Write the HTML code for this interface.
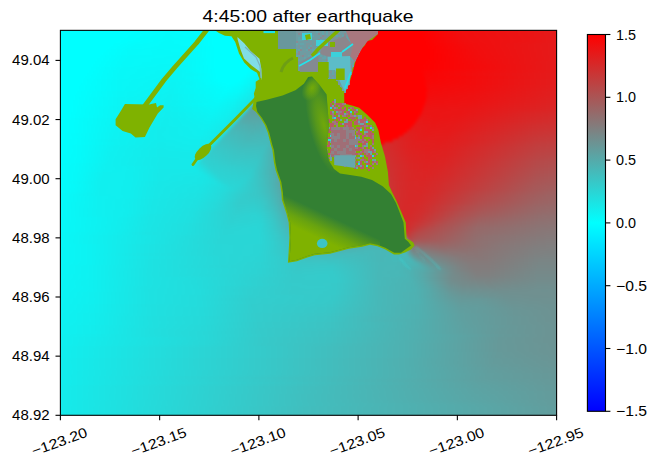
<!DOCTYPE html>
<html><head><meta charset="utf-8"><style>
html,body{margin:0;padding:0;background:#fff;width:658px;height:469px;overflow:hidden}
svg{position:absolute;left:0;top:0}
.t{font-family:"Liberation Sans",sans-serif;font-size:14px;fill:#000}
.tt{font-family:"Liberation Sans",sans-serif;font-size:17px;fill:#000}
</style></head><body>
<svg width="658" height="469" viewBox="0 0 658 469">
<defs><clipPath id="ax"><rect x="60.4" y="30.35" width="496.20" height="384.95"/></clipPath></defs>
<g clip-path="url(#ax)">
<defs><filter id="wblur" x="-5%" y="-5%" width="110%" height="110%" color-interpolation-filters="sRGB"><feGaussianBlur stdDeviation="1.6"/></filter><linearGradient id="w0" gradientUnits="userSpaceOnUse" x1="52.0" x2="565.0" y1="0" y2="0"><stop offset="0.0000" stop-color="#00ffff"/><stop offset="0.2378" stop-color="#02fdfd"/><stop offset="0.3860" stop-color="#00ffff"/><stop offset="0.3879" stop-color="#9f6060"/><stop offset="0.4795" stop-color="#b84747"/><stop offset="0.5556" stop-color="#d72828"/><stop offset="0.5575" stop-color="#ff0000"/><stop offset="0.6979" stop-color="#ff0000"/><stop offset="0.7856" stop-color="#f10e0e"/><stop offset="0.9201" stop-color="#ea1515"/><stop offset="1.0000" stop-color="#e31c1c"/></linearGradient><linearGradient id="w1" gradientUnits="userSpaceOnUse" x1="52.0" x2="565.0" y1="0" y2="0"><stop offset="0.0000" stop-color="#00ffff"/><stop offset="0.1637" stop-color="#00ffff"/><stop offset="0.2339" stop-color="#02fdfd"/><stop offset="0.3899" stop-color="#00ffff"/><stop offset="0.3918" stop-color="#9f6060"/><stop offset="0.4815" stop-color="#b74848"/><stop offset="0.5185" stop-color="#c53a3a"/><stop offset="0.5556" stop-color="#d62929"/><stop offset="0.5575" stop-color="#ff0000"/><stop offset="0.7057" stop-color="#ff0000"/><stop offset="0.7856" stop-color="#f10e0e"/><stop offset="0.9201" stop-color="#eb1414"/><stop offset="1.0000" stop-color="#e31c1c"/></linearGradient><linearGradient id="w2" gradientUnits="userSpaceOnUse" x1="52.0" x2="565.0" y1="0" y2="0"><stop offset="0.0000" stop-color="#00ffff"/><stop offset="0.1559" stop-color="#00ffff"/><stop offset="0.2320" stop-color="#03fcfc"/><stop offset="0.3938" stop-color="#00ffff"/><stop offset="0.3957" stop-color="#9f6060"/><stop offset="0.4834" stop-color="#b74848"/><stop offset="0.5205" stop-color="#c53a3a"/><stop offset="0.5556" stop-color="#d62929"/><stop offset="0.5575" stop-color="#ff0000"/><stop offset="0.7096" stop-color="#ff0000"/><stop offset="0.7856" stop-color="#f10e0e"/><stop offset="0.9201" stop-color="#eb1414"/><stop offset="1.0000" stop-color="#e31c1c"/></linearGradient><linearGradient id="w3" gradientUnits="userSpaceOnUse" x1="52.0" x2="565.0" y1="0" y2="0"><stop offset="0.0000" stop-color="#00ffff"/><stop offset="0.1462" stop-color="#00ffff"/><stop offset="0.2281" stop-color="#03fcfc"/><stop offset="0.3177" stop-color="#00ffff"/><stop offset="0.3977" stop-color="#00ffff"/><stop offset="0.3996" stop-color="#9f6060"/><stop offset="0.4873" stop-color="#b74848"/><stop offset="0.5224" stop-color="#c43b3b"/><stop offset="0.5556" stop-color="#d52a2a"/><stop offset="0.5575" stop-color="#ff0000"/><stop offset="0.7154" stop-color="#ff0000"/><stop offset="0.7895" stop-color="#f10e0e"/><stop offset="0.9220" stop-color="#eb1414"/><stop offset="1.0000" stop-color="#e41b1b"/></linearGradient><linearGradient id="w4" gradientUnits="userSpaceOnUse" x1="52.0" x2="565.0" y1="0" y2="0"><stop offset="0.0000" stop-color="#00ffff"/><stop offset="0.1365" stop-color="#00ffff"/><stop offset="0.2261" stop-color="#04fbfb"/><stop offset="0.3197" stop-color="#00ffff"/><stop offset="0.4035" stop-color="#00ffff"/><stop offset="0.4055" stop-color="#9f6060"/><stop offset="0.4893" stop-color="#b64949"/><stop offset="0.5224" stop-color="#c33c3c"/><stop offset="0.5556" stop-color="#d42b2b"/><stop offset="0.5575" stop-color="#ff0000"/><stop offset="0.7193" stop-color="#ff0000"/><stop offset="0.7953" stop-color="#f10e0e"/><stop offset="0.9240" stop-color="#eb1414"/><stop offset="1.0000" stop-color="#e41b1b"/></linearGradient><linearGradient id="w5" gradientUnits="userSpaceOnUse" x1="52.0" x2="565.0" y1="0" y2="0"><stop offset="0.0000" stop-color="#00ffff"/><stop offset="0.1287" stop-color="#00ffff"/><stop offset="0.2242" stop-color="#04fbfb"/><stop offset="0.2827" stop-color="#03fcfc"/><stop offset="0.3197" stop-color="#00ffff"/><stop offset="0.4074" stop-color="#00ffff"/><stop offset="0.4094" stop-color="#9f6060"/><stop offset="0.4912" stop-color="#b54a4a"/><stop offset="0.5244" stop-color="#c23d3d"/><stop offset="0.5556" stop-color="#d22d2d"/><stop offset="0.5575" stop-color="#ff0000"/><stop offset="0.7212" stop-color="#ff0000"/><stop offset="0.8012" stop-color="#f10e0e"/><stop offset="0.9279" stop-color="#eb1414"/><stop offset="1.0000" stop-color="#e41b1b"/></linearGradient><linearGradient id="w6" gradientUnits="userSpaceOnUse" x1="52.0" x2="565.0" y1="0" y2="0"><stop offset="0.0000" stop-color="#00ffff"/><stop offset="0.1209" stop-color="#00ffff"/><stop offset="0.2222" stop-color="#05fafa"/><stop offset="0.2827" stop-color="#04fbfb"/><stop offset="0.3177" stop-color="#00ffff"/><stop offset="0.4113" stop-color="#00ffff"/><stop offset="0.4133" stop-color="#9e6161"/><stop offset="0.4951" stop-color="#b54a4a"/><stop offset="0.5263" stop-color="#c13e3e"/><stop offset="0.5556" stop-color="#d12e2e"/><stop offset="0.5575" stop-color="#ff0000"/><stop offset="0.7251" stop-color="#ff0000"/><stop offset="0.8070" stop-color="#f10e0e"/><stop offset="0.9298" stop-color="#eb1414"/><stop offset="1.0000" stop-color="#e41b1b"/></linearGradient><linearGradient id="w7" gradientUnits="userSpaceOnUse" x1="52.0" x2="565.0" y1="0" y2="0"><stop offset="0.0000" stop-color="#00ffff"/><stop offset="0.1131" stop-color="#00ffff"/><stop offset="0.1657" stop-color="#04fbfb"/><stop offset="0.2222" stop-color="#05fafa"/><stop offset="0.2827" stop-color="#04fbfb"/><stop offset="0.3177" stop-color="#00ffff"/><stop offset="0.4152" stop-color="#00ffff"/><stop offset="0.4172" stop-color="#9e6161"/><stop offset="0.4971" stop-color="#b34c4c"/><stop offset="0.5263" stop-color="#bf4040"/><stop offset="0.5556" stop-color="#cf3030"/><stop offset="0.5575" stop-color="#ff0000"/><stop offset="0.7271" stop-color="#ff0000"/><stop offset="0.8129" stop-color="#f20d0d"/><stop offset="1.0000" stop-color="#e41b1b"/></linearGradient><linearGradient id="w8" gradientUnits="userSpaceOnUse" x1="52.0" x2="565.0" y1="0" y2="0"><stop offset="0.0000" stop-color="#00ffff"/><stop offset="0.1053" stop-color="#00ffff"/><stop offset="0.1598" stop-color="#04fbfb"/><stop offset="0.2183" stop-color="#05fafa"/><stop offset="0.2807" stop-color="#05fafa"/><stop offset="0.3177" stop-color="#00ffff"/><stop offset="0.4191" stop-color="#01fefe"/><stop offset="0.4211" stop-color="#9d6262"/><stop offset="0.4990" stop-color="#b24d4d"/><stop offset="0.5283" stop-color="#be4141"/><stop offset="0.5556" stop-color="#cd3232"/><stop offset="0.5575" stop-color="#ff0000"/><stop offset="0.7310" stop-color="#ff0000"/><stop offset="0.8168" stop-color="#f20d0d"/><stop offset="1.0000" stop-color="#e41b1b"/></linearGradient><linearGradient id="w9" gradientUnits="userSpaceOnUse" x1="52.0" x2="565.0" y1="0" y2="0"><stop offset="0.0000" stop-color="#00ffff"/><stop offset="0.0994" stop-color="#00ffff"/><stop offset="0.1520" stop-color="#05fafa"/><stop offset="0.2066" stop-color="#06f9f9"/><stop offset="0.2788" stop-color="#05fafa"/><stop offset="0.3197" stop-color="#00ffff"/><stop offset="0.4113" stop-color="#00ffff"/><stop offset="0.4230" stop-color="#03fcfc"/><stop offset="0.4250" stop-color="#9c6363"/><stop offset="0.5029" stop-color="#b14e4e"/><stop offset="0.5283" stop-color="#bc4343"/><stop offset="0.5556" stop-color="#cb3434"/><stop offset="0.5575" stop-color="#ff0000"/><stop offset="0.7329" stop-color="#ff0000"/><stop offset="0.8226" stop-color="#f20d0d"/><stop offset="1.0000" stop-color="#e41b1b"/></linearGradient><linearGradient id="w10" gradientUnits="userSpaceOnUse" x1="52.0" x2="565.0" y1="0" y2="0"><stop offset="0.0000" stop-color="#00ffff"/><stop offset="0.0936" stop-color="#00ffff"/><stop offset="0.1520" stop-color="#05fafa"/><stop offset="0.2281" stop-color="#06f9f9"/><stop offset="0.2768" stop-color="#06f9f9"/><stop offset="0.3197" stop-color="#00ffff"/><stop offset="0.4074" stop-color="#00ffff"/><stop offset="0.4288" stop-color="#06f9f9"/><stop offset="0.4308" stop-color="#9c6363"/><stop offset="0.5049" stop-color="#b04f4f"/><stop offset="0.5302" stop-color="#bb4444"/><stop offset="0.5556" stop-color="#ca3535"/><stop offset="0.5575" stop-color="#ff0000"/><stop offset="0.7329" stop-color="#ff0000"/><stop offset="0.8265" stop-color="#f20d0d"/><stop offset="1.0000" stop-color="#e41b1b"/></linearGradient><linearGradient id="w11" gradientUnits="userSpaceOnUse" x1="52.0" x2="565.0" y1="0" y2="0"><stop offset="0.0000" stop-color="#00ffff"/><stop offset="0.0877" stop-color="#00ffff"/><stop offset="0.1520" stop-color="#06f9f9"/><stop offset="0.2671" stop-color="#07f8f8"/><stop offset="0.3197" stop-color="#00ffff"/><stop offset="0.4035" stop-color="#00ffff"/><stop offset="0.4327" stop-color="#09f6f6"/><stop offset="0.4347" stop-color="#9b6464"/><stop offset="0.5088" stop-color="#af5050"/><stop offset="0.5302" stop-color="#b94646"/><stop offset="0.5556" stop-color="#c83737"/><stop offset="0.5575" stop-color="#ff0000"/><stop offset="0.7329" stop-color="#ff0000"/><stop offset="0.8304" stop-color="#f20d0d"/><stop offset="1.0000" stop-color="#e41b1b"/></linearGradient><linearGradient id="w12" gradientUnits="userSpaceOnUse" x1="52.0" x2="565.0" y1="0" y2="0"><stop offset="0.0000" stop-color="#00ffff"/><stop offset="0.0819" stop-color="#00ffff"/><stop offset="0.1481" stop-color="#06f9f9"/><stop offset="0.2651" stop-color="#08f7f7"/><stop offset="0.3197" stop-color="#00ffff"/><stop offset="0.3996" stop-color="#00ffff"/><stop offset="0.4366" stop-color="#0df2f2"/><stop offset="0.4386" stop-color="#9a6565"/><stop offset="0.5088" stop-color="#ad5252"/><stop offset="0.5263" stop-color="#b54a4a"/><stop offset="0.5556" stop-color="#c73838"/><stop offset="0.5575" stop-color="#ff0000"/><stop offset="0.7310" stop-color="#ff0000"/><stop offset="0.8363" stop-color="#f20d0d"/><stop offset="1.0000" stop-color="#e41b1b"/></linearGradient><linearGradient id="w13" gradientUnits="userSpaceOnUse" x1="52.0" x2="565.0" y1="0" y2="0"><stop offset="0.0000" stop-color="#00ffff"/><stop offset="0.0780" stop-color="#00ffff"/><stop offset="0.1423" stop-color="#06f9f9"/><stop offset="0.2612" stop-color="#08f7f7"/><stop offset="0.3197" stop-color="#00ffff"/><stop offset="0.3957" stop-color="#00ffff"/><stop offset="0.4366" stop-color="#0ff0f0"/><stop offset="0.4405" stop-color="#11eeee"/><stop offset="0.4425" stop-color="#996666"/><stop offset="0.5088" stop-color="#ab5454"/><stop offset="0.5263" stop-color="#b44b4b"/><stop offset="0.5556" stop-color="#c63939"/><stop offset="0.5575" stop-color="#ff0000"/><stop offset="0.7251" stop-color="#ff0000"/><stop offset="0.8421" stop-color="#f20d0d"/><stop offset="1.0000" stop-color="#e31c1c"/></linearGradient><linearGradient id="w14" gradientUnits="userSpaceOnUse" x1="52.0" x2="565.0" y1="0" y2="0"><stop offset="0.0000" stop-color="#00ffff"/><stop offset="0.0741" stop-color="#00ffff"/><stop offset="0.1404" stop-color="#06f9f9"/><stop offset="0.2573" stop-color="#09f6f6"/><stop offset="0.3197" stop-color="#00ffff"/><stop offset="0.3918" stop-color="#00ffff"/><stop offset="0.4269" stop-color="#0df2f2"/><stop offset="0.4444" stop-color="#15eaea"/><stop offset="0.4464" stop-color="#986767"/><stop offset="0.5068" stop-color="#a95656"/><stop offset="0.5556" stop-color="#c43b3b"/><stop offset="0.5575" stop-color="#ff0000"/><stop offset="0.7193" stop-color="#ff0000"/><stop offset="1.0000" stop-color="#e31c1c"/></linearGradient><linearGradient id="w15" gradientUnits="userSpaceOnUse" x1="52.0" x2="565.0" y1="0" y2="0"><stop offset="0.0000" stop-color="#00ffff"/><stop offset="0.0702" stop-color="#00ffff"/><stop offset="0.1384" stop-color="#07f8f8"/><stop offset="0.2534" stop-color="#09f6f6"/><stop offset="0.3216" stop-color="#00ffff"/><stop offset="0.3860" stop-color="#00ffff"/><stop offset="0.4191" stop-color="#0cf3f3"/><stop offset="0.4503" stop-color="#1be4e4"/><stop offset="0.4522" stop-color="#986767"/><stop offset="0.5049" stop-color="#a75858"/><stop offset="0.5556" stop-color="#c33c3c"/><stop offset="0.5575" stop-color="#ff0000"/><stop offset="0.7212" stop-color="#ff0000"/><stop offset="1.0000" stop-color="#e31c1c"/></linearGradient><linearGradient id="w16" gradientUnits="userSpaceOnUse" x1="52.0" x2="565.0" y1="0" y2="0"><stop offset="0.0000" stop-color="#00ffff"/><stop offset="0.0663" stop-color="#00ffff"/><stop offset="0.1345" stop-color="#07f8f8"/><stop offset="0.2495" stop-color="#0af5f5"/><stop offset="0.3216" stop-color="#00ffff"/><stop offset="0.3821" stop-color="#00ffff"/><stop offset="0.4133" stop-color="#0cf3f3"/><stop offset="0.4503" stop-color="#1ee1e1"/><stop offset="0.4522" stop-color="#22dddd"/><stop offset="0.4542" stop-color="#32cdcd"/><stop offset="0.4561" stop-color="#976868"/><stop offset="0.5049" stop-color="#a65959"/><stop offset="0.5556" stop-color="#c33c3c"/><stop offset="0.5575" stop-color="#ff0000"/><stop offset="0.7212" stop-color="#ff0000"/><stop offset="0.7232" stop-color="#fc0303"/><stop offset="1.0000" stop-color="#e31c1c"/></linearGradient><linearGradient id="w17" gradientUnits="userSpaceOnUse" x1="52.0" x2="565.0" y1="0" y2="0"><stop offset="0.0000" stop-color="#00ffff"/><stop offset="0.0624" stop-color="#00ffff"/><stop offset="0.1326" stop-color="#07f8f8"/><stop offset="0.2456" stop-color="#0af5f5"/><stop offset="0.2690" stop-color="#09f6f6"/><stop offset="0.3236" stop-color="#00ffff"/><stop offset="0.3762" stop-color="#00ffff"/><stop offset="0.4055" stop-color="#0af5f5"/><stop offset="0.4444" stop-color="#1ee1e1"/><stop offset="0.4464" stop-color="#22dddd"/><stop offset="0.4503" stop-color="#41bebe"/><stop offset="0.4581" stop-color="#40bfbf"/><stop offset="0.4600" stop-color="#966969"/><stop offset="0.5049" stop-color="#a65959"/><stop offset="0.5556" stop-color="#c23d3d"/><stop offset="0.5575" stop-color="#ff0000"/><stop offset="0.7232" stop-color="#ff0000"/><stop offset="0.7251" stop-color="#fb0404"/><stop offset="1.0000" stop-color="#e21d1d"/></linearGradient><linearGradient id="w18" gradientUnits="userSpaceOnUse" x1="52.0" x2="565.0" y1="0" y2="0"><stop offset="0.0000" stop-color="#00ffff"/><stop offset="0.0585" stop-color="#00ffff"/><stop offset="0.1326" stop-color="#07f8f8"/><stop offset="0.2437" stop-color="#0bf4f4"/><stop offset="0.3255" stop-color="#00ffff"/><stop offset="0.3704" stop-color="#00ffff"/><stop offset="0.4016" stop-color="#0bf4f4"/><stop offset="0.4386" stop-color="#1ee1e1"/><stop offset="0.4405" stop-color="#21dede"/><stop offset="0.4444" stop-color="#42bdbd"/><stop offset="0.4464" stop-color="#44bbbb"/><stop offset="0.4620" stop-color="#40bfbf"/><stop offset="0.4639" stop-color="#966969"/><stop offset="0.5049" stop-color="#a55a5a"/><stop offset="0.5556" stop-color="#c13e3e"/><stop offset="0.5575" stop-color="#ff0000"/><stop offset="0.7251" stop-color="#ff0000"/><stop offset="0.7271" stop-color="#fa0505"/><stop offset="0.7817" stop-color="#f70808"/><stop offset="1.0000" stop-color="#e21d1d"/></linearGradient><linearGradient id="w19" gradientUnits="userSpaceOnUse" x1="52.0" x2="565.0" y1="0" y2="0"><stop offset="0.0000" stop-color="#00ffff"/><stop offset="0.0546" stop-color="#00ffff"/><stop offset="0.1306" stop-color="#08f7f7"/><stop offset="0.2398" stop-color="#0bf4f4"/><stop offset="0.2671" stop-color="#09f6f6"/><stop offset="0.3275" stop-color="#00ffff"/><stop offset="0.3645" stop-color="#00ffff"/><stop offset="0.3957" stop-color="#0bf4f4"/><stop offset="0.4347" stop-color="#20dfdf"/><stop offset="0.4386" stop-color="#42bdbd"/><stop offset="0.4405" stop-color="#48b7b7"/><stop offset="0.4659" stop-color="#40bfbf"/><stop offset="0.4678" stop-color="#966969"/><stop offset="0.5068" stop-color="#a65959"/><stop offset="0.5556" stop-color="#c03f3f"/><stop offset="0.5575" stop-color="#ff0000"/><stop offset="0.7271" stop-color="#ff0000"/><stop offset="0.7290" stop-color="#f90606"/><stop offset="0.7914" stop-color="#f50a0a"/><stop offset="1.0000" stop-color="#e11e1e"/></linearGradient><linearGradient id="w20" gradientUnits="userSpaceOnUse" x1="52.0" x2="565.0" y1="0" y2="0"><stop offset="0.0000" stop-color="#00ffff"/><stop offset="0.0526" stop-color="#00ffff"/><stop offset="0.1306" stop-color="#08f7f7"/><stop offset="0.2378" stop-color="#0cf3f3"/><stop offset="0.2651" stop-color="#0af5f5"/><stop offset="0.3255" stop-color="#01fefe"/><stop offset="0.3528" stop-color="#00ffff"/><stop offset="0.3704" stop-color="#03fcfc"/><stop offset="0.3918" stop-color="#0bf4f4"/><stop offset="0.4288" stop-color="#1fe0e0"/><stop offset="0.4327" stop-color="#43bcbc"/><stop offset="0.4347" stop-color="#4bb4b4"/><stop offset="0.4698" stop-color="#40bfbf"/><stop offset="0.4717" stop-color="#976868"/><stop offset="0.5088" stop-color="#a65959"/><stop offset="0.5556" stop-color="#bf4040"/><stop offset="0.5575" stop-color="#ff0000"/><stop offset="0.7271" stop-color="#ff0000"/><stop offset="0.7290" stop-color="#f80707"/><stop offset="0.8012" stop-color="#f40b0b"/><stop offset="1.0000" stop-color="#e11e1e"/></linearGradient><linearGradient id="w21" gradientUnits="userSpaceOnUse" x1="52.0" x2="565.0" y1="0" y2="0"><stop offset="0.0000" stop-color="#00ffff"/><stop offset="0.0487" stop-color="#00ffff"/><stop offset="0.1306" stop-color="#08f7f7"/><stop offset="0.2359" stop-color="#0cf3f3"/><stop offset="0.3450" stop-color="#01fefe"/><stop offset="0.3645" stop-color="#04fbfb"/><stop offset="0.3899" stop-color="#0df2f2"/><stop offset="0.4230" stop-color="#1fe0e0"/><stop offset="0.4269" stop-color="#43bcbc"/><stop offset="0.4288" stop-color="#4eb1b1"/><stop offset="0.4756" stop-color="#40bfbf"/><stop offset="0.4776" stop-color="#986767"/><stop offset="0.5107" stop-color="#a65959"/><stop offset="0.5556" stop-color="#be4141"/><stop offset="0.5575" stop-color="#ff0000"/><stop offset="0.7290" stop-color="#ff0000"/><stop offset="0.7310" stop-color="#f60909"/><stop offset="0.8109" stop-color="#f20d0d"/><stop offset="1.0000" stop-color="#e01f1f"/></linearGradient><linearGradient id="w22" gradientUnits="userSpaceOnUse" x1="52.0" x2="565.0" y1="0" y2="0"><stop offset="0.0000" stop-color="#00ffff"/><stop offset="0.0468" stop-color="#00ffff"/><stop offset="0.1306" stop-color="#08f7f7"/><stop offset="0.2339" stop-color="#0df2f2"/><stop offset="0.3411" stop-color="#02fdfd"/><stop offset="0.3665" stop-color="#06f9f9"/><stop offset="0.3957" stop-color="#13ecec"/><stop offset="0.4172" stop-color="#1ee1e1"/><stop offset="0.4211" stop-color="#43bcbc"/><stop offset="0.4230" stop-color="#52adad"/><stop offset="0.4737" stop-color="#41bebe"/><stop offset="0.4795" stop-color="#43bcbc"/><stop offset="0.4815" stop-color="#996666"/><stop offset="0.5049" stop-color="#a35c5c"/><stop offset="0.5068" stop-color="#a85757"/><stop offset="0.5088" stop-color="#fd0202"/><stop offset="0.5107" stop-color="#ff0000"/><stop offset="0.7290" stop-color="#ff0000"/><stop offset="0.7310" stop-color="#fd0202"/><stop offset="0.7329" stop-color="#f50a0a"/><stop offset="0.8187" stop-color="#f10e0e"/><stop offset="1.0000" stop-color="#df2020"/></linearGradient><linearGradient id="w23" gradientUnits="userSpaceOnUse" x1="52.0" x2="565.0" y1="0" y2="0"><stop offset="0.0000" stop-color="#00ffff"/><stop offset="0.0429" stop-color="#00ffff"/><stop offset="0.1306" stop-color="#09f6f6"/><stop offset="0.2320" stop-color="#0df2f2"/><stop offset="0.3372" stop-color="#03fcfc"/><stop offset="0.3626" stop-color="#07f8f8"/><stop offset="0.3918" stop-color="#13ecec"/><stop offset="0.4113" stop-color="#1ee1e1"/><stop offset="0.4172" stop-color="#56a9a9"/><stop offset="0.4717" stop-color="#42bdbd"/><stop offset="0.4834" stop-color="#49b6b6"/><stop offset="0.4854" stop-color="#9a6565"/><stop offset="0.5068" stop-color="#a35c5c"/><stop offset="0.5088" stop-color="#f00f0f"/><stop offset="0.5107" stop-color="#ff0000"/><stop offset="0.7290" stop-color="#ff0000"/><stop offset="0.7310" stop-color="#f40b0b"/><stop offset="0.8187" stop-color="#f00f0f"/><stop offset="1.0000" stop-color="#de2121"/></linearGradient><linearGradient id="w24" gradientUnits="userSpaceOnUse" x1="52.0" x2="565.0" y1="0" y2="0"><stop offset="0.0000" stop-color="#00ffff"/><stop offset="0.0409" stop-color="#00ffff"/><stop offset="0.1326" stop-color="#09f6f6"/><stop offset="0.2300" stop-color="#0ef1f1"/><stop offset="0.3333" stop-color="#04fbfb"/><stop offset="0.3606" stop-color="#09f6f6"/><stop offset="0.3899" stop-color="#15eaea"/><stop offset="0.4055" stop-color="#1de2e2"/><stop offset="0.4074" stop-color="#2ed1d1"/><stop offset="0.4113" stop-color="#59a6a6"/><stop offset="0.4678" stop-color="#44bbbb"/><stop offset="0.4873" stop-color="#4fb0b0"/><stop offset="0.4893" stop-color="#9b6464"/><stop offset="0.5068" stop-color="#a35c5c"/><stop offset="0.5088" stop-color="#d52a2a"/><stop offset="0.5107" stop-color="#ff0000"/><stop offset="0.7290" stop-color="#ff0000"/><stop offset="0.7310" stop-color="#f30c0c"/><stop offset="0.8207" stop-color="#ee1111"/><stop offset="1.0000" stop-color="#de2121"/></linearGradient><linearGradient id="w25" gradientUnits="userSpaceOnUse" x1="52.0" x2="565.0" y1="0" y2="0"><stop offset="0.0000" stop-color="#00ffff"/><stop offset="0.0390" stop-color="#00ffff"/><stop offset="0.1326" stop-color="#0af5f5"/><stop offset="0.2281" stop-color="#0ef1f1"/><stop offset="0.3294" stop-color="#05fafa"/><stop offset="0.3587" stop-color="#0bf4f4"/><stop offset="0.3879" stop-color="#16e9e9"/><stop offset="0.3996" stop-color="#1de2e2"/><stop offset="0.4016" stop-color="#2dd2d2"/><stop offset="0.4055" stop-color="#5aa5a5"/><stop offset="0.4074" stop-color="#5da2a2"/><stop offset="0.4659" stop-color="#46b9b9"/><stop offset="0.4912" stop-color="#54abab"/><stop offset="0.4932" stop-color="#9c6363"/><stop offset="0.5068" stop-color="#a25d5d"/><stop offset="0.5088" stop-color="#ad5252"/><stop offset="0.5107" stop-color="#ff0000"/><stop offset="0.7290" stop-color="#ff0000"/><stop offset="0.7310" stop-color="#f10e0e"/><stop offset="0.8187" stop-color="#ee1111"/><stop offset="1.0000" stop-color="#dc2323"/></linearGradient><linearGradient id="w26" gradientUnits="userSpaceOnUse" x1="52.0" x2="565.0" y1="0" y2="0"><stop offset="0.0000" stop-color="#00ffff"/><stop offset="0.0370" stop-color="#00ffff"/><stop offset="0.1326" stop-color="#0af5f5"/><stop offset="0.2281" stop-color="#0ff0f0"/><stop offset="0.3255" stop-color="#07f8f8"/><stop offset="0.3548" stop-color="#0cf3f3"/><stop offset="0.3860" stop-color="#18e7e7"/><stop offset="0.3938" stop-color="#1ce3e3"/><stop offset="0.3957" stop-color="#2bd4d4"/><stop offset="0.3996" stop-color="#5aa5a5"/><stop offset="0.4016" stop-color="#619e9e"/><stop offset="0.4620" stop-color="#47b8b8"/><stop offset="0.4971" stop-color="#5aa5a5"/><stop offset="0.4990" stop-color="#9e6161"/><stop offset="0.5088" stop-color="#a35c5c"/><stop offset="0.5107" stop-color="#cc3333"/><stop offset="0.5127" stop-color="#ff0000"/><stop offset="0.7271" stop-color="#ff0000"/><stop offset="0.7290" stop-color="#f00f0f"/><stop offset="0.8148" stop-color="#ed1212"/><stop offset="1.0000" stop-color="#db2424"/></linearGradient><linearGradient id="w27" gradientUnits="userSpaceOnUse" x1="52.0" x2="565.0" y1="0" y2="0"><stop offset="0.0000" stop-color="#00ffff"/><stop offset="0.0370" stop-color="#00ffff"/><stop offset="0.1326" stop-color="#0af5f5"/><stop offset="0.2261" stop-color="#0ff0f0"/><stop offset="0.3002" stop-color="#08f7f7"/><stop offset="0.3236" stop-color="#08f7f7"/><stop offset="0.3548" stop-color="#0ef1f1"/><stop offset="0.3840" stop-color="#19e6e6"/><stop offset="0.3879" stop-color="#1be4e4"/><stop offset="0.3899" stop-color="#28d7d7"/><stop offset="0.3938" stop-color="#5aa5a5"/><stop offset="0.3957" stop-color="#659a9a"/><stop offset="0.4600" stop-color="#49b6b6"/><stop offset="0.5010" stop-color="#5fa0a0"/><stop offset="0.5029" stop-color="#9f6060"/><stop offset="0.5107" stop-color="#a35c5c"/><stop offset="0.5127" stop-color="#db2424"/><stop offset="0.5146" stop-color="#ff0000"/><stop offset="0.7251" stop-color="#ff0000"/><stop offset="0.7271" stop-color="#ef1010"/><stop offset="0.8109" stop-color="#ec1313"/><stop offset="1.0000" stop-color="#da2525"/></linearGradient><linearGradient id="w28" gradientUnits="userSpaceOnUse" x1="52.0" x2="565.0" y1="0" y2="0"><stop offset="0.0000" stop-color="#00ffff"/><stop offset="0.0351" stop-color="#00ffff"/><stop offset="0.1326" stop-color="#0bf4f4"/><stop offset="0.2261" stop-color="#10efef"/><stop offset="0.3197" stop-color="#09f6f6"/><stop offset="0.3528" stop-color="#0ff0f0"/><stop offset="0.3821" stop-color="#1be4e4"/><stop offset="0.3840" stop-color="#24dbdb"/><stop offset="0.3879" stop-color="#53acac"/><stop offset="0.3899" stop-color="#629d9d"/><stop offset="0.3996" stop-color="#639c9c"/><stop offset="0.4561" stop-color="#4ab5b5"/><stop offset="0.5049" stop-color="#649b9b"/><stop offset="0.5068" stop-color="#a15e5e"/><stop offset="0.5127" stop-color="#a35c5c"/><stop offset="0.5146" stop-color="#dc2323"/><stop offset="0.5166" stop-color="#ff0000"/><stop offset="0.7232" stop-color="#ff0000"/><stop offset="0.7251" stop-color="#ed1212"/><stop offset="0.8051" stop-color="#eb1414"/><stop offset="1.0000" stop-color="#d82727"/></linearGradient><linearGradient id="w29" gradientUnits="userSpaceOnUse" x1="52.0" x2="565.0" y1="0" y2="0"><stop offset="0.0000" stop-color="#00ffff"/><stop offset="0.0351" stop-color="#00ffff"/><stop offset="0.1306" stop-color="#0bf4f4"/><stop offset="0.2242" stop-color="#10efef"/><stop offset="0.3158" stop-color="#0af5f5"/><stop offset="0.3470" stop-color="#0ff0f0"/><stop offset="0.3762" stop-color="#1ae5e5"/><stop offset="0.3782" stop-color="#1fe0e0"/><stop offset="0.3821" stop-color="#4cb3b3"/><stop offset="0.3840" stop-color="#5ea1a1"/><stop offset="0.3938" stop-color="#609f9f"/><stop offset="0.4035" stop-color="#5fa0a0"/><stop offset="0.4522" stop-color="#4bb4b4"/><stop offset="0.5088" stop-color="#699696"/><stop offset="0.5107" stop-color="#a25d5d"/><stop offset="0.5146" stop-color="#a45b5b"/><stop offset="0.5166" stop-color="#ce3131"/><stop offset="0.5185" stop-color="#ff0000"/><stop offset="0.7212" stop-color="#ff0000"/><stop offset="0.7232" stop-color="#ec1313"/><stop offset="0.7992" stop-color="#ea1515"/><stop offset="1.0000" stop-color="#d72828"/></linearGradient><linearGradient id="w30" gradientUnits="userSpaceOnUse" x1="52.0" x2="565.0" y1="0" y2="0"><stop offset="0.0000" stop-color="#00ffff"/><stop offset="0.0331" stop-color="#00ffff"/><stop offset="0.1306" stop-color="#0bf4f4"/><stop offset="0.2242" stop-color="#11eeee"/><stop offset="0.3138" stop-color="#0bf4f4"/><stop offset="0.3431" stop-color="#10efef"/><stop offset="0.3704" stop-color="#19e6e6"/><stop offset="0.3723" stop-color="#1be4e4"/><stop offset="0.3782" stop-color="#5aa5a5"/><stop offset="0.3918" stop-color="#5da2a2"/><stop offset="0.4035" stop-color="#5ca3a3"/><stop offset="0.4503" stop-color="#4bb4b4"/><stop offset="0.5127" stop-color="#6d9292"/><stop offset="0.5146" stop-color="#a35c5c"/><stop offset="0.5166" stop-color="#a45b5b"/><stop offset="0.5185" stop-color="#b14e4e"/><stop offset="0.5205" stop-color="#fd0202"/><stop offset="0.5224" stop-color="#ff0000"/><stop offset="0.7173" stop-color="#ff0000"/><stop offset="0.7193" stop-color="#fd0202"/><stop offset="0.7212" stop-color="#eb1414"/><stop offset="0.7953" stop-color="#ea1515"/><stop offset="0.9357" stop-color="#da2525"/><stop offset="1.0000" stop-color="#d52a2a"/></linearGradient><linearGradient id="w31" gradientUnits="userSpaceOnUse" x1="52.0" x2="565.0" y1="0" y2="0"><stop offset="0.0000" stop-color="#00ffff"/><stop offset="0.0312" stop-color="#00ffff"/><stop offset="0.1287" stop-color="#0bf4f4"/><stop offset="0.2242" stop-color="#11eeee"/><stop offset="0.3099" stop-color="#0cf3f3"/><stop offset="0.3392" stop-color="#10efef"/><stop offset="0.3665" stop-color="#19e6e6"/><stop offset="0.3684" stop-color="#2bd4d4"/><stop offset="0.3723" stop-color="#55aaaa"/><stop offset="0.3879" stop-color="#5aa5a5"/><stop offset="0.4016" stop-color="#5aa5a5"/><stop offset="0.4464" stop-color="#4cb3b3"/><stop offset="0.5185" stop-color="#738c8c"/><stop offset="0.5205" stop-color="#a55a5a"/><stop offset="0.5224" stop-color="#d02f2f"/><stop offset="0.5244" stop-color="#ff0000"/><stop offset="0.7154" stop-color="#ff0000"/><stop offset="0.7173" stop-color="#ea1515"/><stop offset="0.7505" stop-color="#eb1414"/><stop offset="0.7914" stop-color="#e91616"/><stop offset="0.9376" stop-color="#d82727"/><stop offset="1.0000" stop-color="#d32c2c"/></linearGradient><linearGradient id="w32" gradientUnits="userSpaceOnUse" x1="52.0" x2="565.0" y1="0" y2="0"><stop offset="0.0000" stop-color="#00ffff"/><stop offset="0.0312" stop-color="#01fefe"/><stop offset="0.1287" stop-color="#0cf3f3"/><stop offset="0.2222" stop-color="#12eded"/><stop offset="0.3080" stop-color="#0df2f2"/><stop offset="0.3353" stop-color="#11eeee"/><stop offset="0.3606" stop-color="#19e6e6"/><stop offset="0.3626" stop-color="#27d8d8"/><stop offset="0.3665" stop-color="#4fb0b0"/><stop offset="0.3684" stop-color="#53acac"/><stop offset="0.3860" stop-color="#57a8a8"/><stop offset="0.4016" stop-color="#57a8a8"/><stop offset="0.4444" stop-color="#4cb3b3"/><stop offset="0.5224" stop-color="#788787"/><stop offset="0.5244" stop-color="#a65959"/><stop offset="0.5263" stop-color="#dc2323"/><stop offset="0.5283" stop-color="#ff0000"/><stop offset="0.7115" stop-color="#ff0000"/><stop offset="0.7135" stop-color="#e81717"/><stop offset="0.7485" stop-color="#ea1515"/><stop offset="0.7875" stop-color="#e81717"/><stop offset="0.9376" stop-color="#d62929"/><stop offset="1.0000" stop-color="#d12e2e"/></linearGradient><linearGradient id="w33" gradientUnits="userSpaceOnUse" x1="52.0" x2="565.0" y1="0" y2="0"><stop offset="0.0000" stop-color="#00ffff"/><stop offset="0.0292" stop-color="#01fefe"/><stop offset="0.1267" stop-color="#0cf3f3"/><stop offset="0.2203" stop-color="#12eded"/><stop offset="0.3060" stop-color="#0ef1f1"/><stop offset="0.3314" stop-color="#11eeee"/><stop offset="0.3548" stop-color="#18e7e7"/><stop offset="0.3567" stop-color="#22dddd"/><stop offset="0.3606" stop-color="#49b6b6"/><stop offset="0.3626" stop-color="#4fb0b0"/><stop offset="0.3821" stop-color="#54abab"/><stop offset="0.3996" stop-color="#55aaaa"/><stop offset="0.4405" stop-color="#4bb4b4"/><stop offset="0.5263" stop-color="#7c8383"/><stop offset="0.5322" stop-color="#ff0000"/><stop offset="0.7076" stop-color="#ff0000"/><stop offset="0.7096" stop-color="#e71818"/><stop offset="0.7446" stop-color="#e91616"/><stop offset="0.7836" stop-color="#e71818"/><stop offset="0.9376" stop-color="#d42b2b"/><stop offset="1.0000" stop-color="#cf3030"/></linearGradient><linearGradient id="w34" gradientUnits="userSpaceOnUse" x1="52.0" x2="565.0" y1="0" y2="0"><stop offset="0.0000" stop-color="#00ffff"/><stop offset="0.0292" stop-color="#01fefe"/><stop offset="0.1248" stop-color="#0cf3f3"/><stop offset="0.2183" stop-color="#12eded"/><stop offset="0.3041" stop-color="#0ff0f0"/><stop offset="0.3489" stop-color="#17e8e8"/><stop offset="0.3509" stop-color="#1ee1e1"/><stop offset="0.3548" stop-color="#43bcbc"/><stop offset="0.3567" stop-color="#4bb4b4"/><stop offset="0.3957" stop-color="#52adad"/><stop offset="0.4366" stop-color="#4bb4b4"/><stop offset="0.5302" stop-color="#807f7f"/><stop offset="0.5322" stop-color="#a85757"/><stop offset="0.5341" stop-color="#ba4545"/><stop offset="0.5361" stop-color="#fa0505"/><stop offset="0.5380" stop-color="#ff0000"/><stop offset="0.7018" stop-color="#ff0000"/><stop offset="0.7037" stop-color="#fa0505"/><stop offset="0.7057" stop-color="#e51a1a"/><stop offset="0.7427" stop-color="#e81717"/><stop offset="0.7817" stop-color="#e61919"/><stop offset="0.9376" stop-color="#d12e2e"/><stop offset="1.0000" stop-color="#cd3232"/></linearGradient><linearGradient id="w35" gradientUnits="userSpaceOnUse" x1="52.0" x2="565.0" y1="0" y2="0"><stop offset="0.0000" stop-color="#00ffff"/><stop offset="0.0390" stop-color="#02fdfd"/><stop offset="0.1267" stop-color="#0df2f2"/><stop offset="0.2164" stop-color="#13ecec"/><stop offset="0.3021" stop-color="#0ff0f0"/><stop offset="0.3431" stop-color="#17e8e8"/><stop offset="0.3450" stop-color="#1be4e4"/><stop offset="0.3489" stop-color="#3ec1c1"/><stop offset="0.3509" stop-color="#48b7b7"/><stop offset="0.3938" stop-color="#50afaf"/><stop offset="0.4347" stop-color="#4ab5b5"/><stop offset="0.4776" stop-color="#659a9a"/><stop offset="0.5341" stop-color="#857a7a"/><stop offset="0.5361" stop-color="#a85757"/><stop offset="0.5380" stop-color="#a95656"/><stop offset="0.5400" stop-color="#c93636"/><stop offset="0.5419" stop-color="#ff0000"/><stop offset="0.6979" stop-color="#ff0000"/><stop offset="0.6998" stop-color="#e41b1b"/><stop offset="0.7368" stop-color="#e71818"/><stop offset="0.7778" stop-color="#e61919"/><stop offset="0.9396" stop-color="#cf3030"/><stop offset="1.0000" stop-color="#cb3434"/></linearGradient><linearGradient id="w36" gradientUnits="userSpaceOnUse" x1="52.0" x2="565.0" y1="0" y2="0"><stop offset="0.0000" stop-color="#00ffff"/><stop offset="0.0409" stop-color="#02fdfd"/><stop offset="0.1248" stop-color="#0df2f2"/><stop offset="0.2105" stop-color="#13ecec"/><stop offset="0.2924" stop-color="#10efef"/><stop offset="0.3372" stop-color="#16e9e9"/><stop offset="0.3392" stop-color="#17e8e8"/><stop offset="0.3431" stop-color="#39c6c6"/><stop offset="0.3450" stop-color="#45baba"/><stop offset="0.3899" stop-color="#4db2b2"/><stop offset="0.4308" stop-color="#49b6b6"/><stop offset="0.4795" stop-color="#689797"/><stop offset="0.5380" stop-color="#897676"/><stop offset="0.5400" stop-color="#a95656"/><stop offset="0.5439" stop-color="#ab5454"/><stop offset="0.5458" stop-color="#be4141"/><stop offset="0.5478" stop-color="#f60909"/><stop offset="0.5497" stop-color="#ff0000"/><stop offset="0.6901" stop-color="#ff0000"/><stop offset="0.6920" stop-color="#f60909"/><stop offset="0.6940" stop-color="#e21d1d"/><stop offset="0.7329" stop-color="#e61919"/><stop offset="0.7739" stop-color="#e51a1a"/><stop offset="0.9396" stop-color="#cd3232"/><stop offset="1.0000" stop-color="#c93636"/></linearGradient><linearGradient id="w37" gradientUnits="userSpaceOnUse" x1="52.0" x2="565.0" y1="0" y2="0"><stop offset="0.0000" stop-color="#00ffff"/><stop offset="0.0429" stop-color="#03fcfc"/><stop offset="0.1228" stop-color="#0df2f2"/><stop offset="0.2086" stop-color="#13ecec"/><stop offset="0.2904" stop-color="#10efef"/><stop offset="0.3333" stop-color="#16e9e9"/><stop offset="0.3392" stop-color="#42bdbd"/><stop offset="0.3860" stop-color="#4ab5b5"/><stop offset="0.4288" stop-color="#48b7b7"/><stop offset="0.4834" stop-color="#6c9393"/><stop offset="0.5439" stop-color="#8f7070"/><stop offset="0.5458" stop-color="#ab5454"/><stop offset="0.5517" stop-color="#ad5252"/><stop offset="0.5536" stop-color="#cc3333"/><stop offset="0.5556" stop-color="#fd0202"/><stop offset="0.5575" stop-color="#ff0000"/><stop offset="0.6823" stop-color="#ff0000"/><stop offset="0.6842" stop-color="#fd0202"/><stop offset="0.6862" stop-color="#df2020"/><stop offset="0.7271" stop-color="#e51a1a"/><stop offset="0.7700" stop-color="#e41b1b"/><stop offset="0.9396" stop-color="#cb3434"/><stop offset="1.0000" stop-color="#c63939"/></linearGradient><linearGradient id="w38" gradientUnits="userSpaceOnUse" x1="52.0" x2="565.0" y1="0" y2="0"><stop offset="0.0000" stop-color="#00ffff"/><stop offset="0.0468" stop-color="#03fcfc"/><stop offset="0.1209" stop-color="#0df2f2"/><stop offset="0.2086" stop-color="#13ecec"/><stop offset="0.2865" stop-color="#11eeee"/><stop offset="0.3275" stop-color="#16e9e9"/><stop offset="0.3294" stop-color="#20dfdf"/><stop offset="0.3333" stop-color="#3fc0c0"/><stop offset="0.3821" stop-color="#48b7b7"/><stop offset="0.4250" stop-color="#46b9b9"/><stop offset="0.4854" stop-color="#6e9191"/><stop offset="0.5478" stop-color="#936c6c"/><stop offset="0.5497" stop-color="#ab5454"/><stop offset="0.5595" stop-color="#b04f4f"/><stop offset="0.5614" stop-color="#b44b4b"/><stop offset="0.5634" stop-color="#e01f1f"/><stop offset="0.5653" stop-color="#ff0000"/><stop offset="0.6745" stop-color="#ff0000"/><stop offset="0.6764" stop-color="#e01f1f"/><stop offset="0.6784" stop-color="#dd2222"/><stop offset="0.7232" stop-color="#e41b1b"/><stop offset="0.7680" stop-color="#e31c1c"/><stop offset="0.9415" stop-color="#c83737"/><stop offset="1.0000" stop-color="#c43b3b"/></linearGradient><linearGradient id="w39" gradientUnits="userSpaceOnUse" x1="52.0" x2="565.0" y1="0" y2="0"><stop offset="0.0000" stop-color="#00ffff"/><stop offset="0.0526" stop-color="#04fbfb"/><stop offset="0.1189" stop-color="#0ef1f1"/><stop offset="0.2066" stop-color="#13ecec"/><stop offset="0.2846" stop-color="#12eded"/><stop offset="0.3216" stop-color="#15eaea"/><stop offset="0.3236" stop-color="#1de2e2"/><stop offset="0.3275" stop-color="#3ac5c5"/><stop offset="0.3294" stop-color="#3dc2c2"/><stop offset="0.3801" stop-color="#46b9b9"/><stop offset="0.4211" stop-color="#45baba"/><stop offset="0.4912" stop-color="#738c8c"/><stop offset="0.5517" stop-color="#986767"/><stop offset="0.5536" stop-color="#ac5353"/><stop offset="0.5712" stop-color="#b44b4b"/><stop offset="0.5731" stop-color="#c13e3e"/><stop offset="0.5750" stop-color="#e41b1b"/><stop offset="0.5770" stop-color="#ff0000"/><stop offset="0.6628" stop-color="#ff0000"/><stop offset="0.6647" stop-color="#e41b1b"/><stop offset="0.6667" stop-color="#d92626"/><stop offset="0.7135" stop-color="#e21d1d"/><stop offset="0.7622" stop-color="#e31c1c"/><stop offset="0.8090" stop-color="#dd2222"/><stop offset="0.9435" stop-color="#c63939"/><stop offset="1.0000" stop-color="#c23d3d"/></linearGradient><linearGradient id="w40" gradientUnits="userSpaceOnUse" x1="52.0" x2="565.0" y1="0" y2="0"><stop offset="0.0000" stop-color="#00ffff"/><stop offset="0.0526" stop-color="#04fbfb"/><stop offset="0.1248" stop-color="#0ef1f1"/><stop offset="0.2125" stop-color="#14ebeb"/><stop offset="0.2807" stop-color="#12eded"/><stop offset="0.3158" stop-color="#15eaea"/><stop offset="0.3177" stop-color="#1ae5e5"/><stop offset="0.3216" stop-color="#36c9c9"/><stop offset="0.3236" stop-color="#3ac5c5"/><stop offset="0.3743" stop-color="#43bcbc"/><stop offset="0.4191" stop-color="#44bbbb"/><stop offset="0.4932" stop-color="#768989"/><stop offset="0.5556" stop-color="#9d6262"/><stop offset="0.5575" stop-color="#ad5252"/><stop offset="0.5867" stop-color="#b94646"/><stop offset="0.5887" stop-color="#be4141"/><stop offset="0.5945" stop-color="#ff0000"/><stop offset="0.6452" stop-color="#ff0000"/><stop offset="0.6491" stop-color="#d52a2a"/><stop offset="0.6511" stop-color="#d32c2c"/><stop offset="0.7037" stop-color="#e01f1f"/><stop offset="0.7563" stop-color="#e21d1d"/><stop offset="0.8051" stop-color="#dc2323"/><stop offset="0.9454" stop-color="#c33c3c"/><stop offset="1.0000" stop-color="#bf4040"/></linearGradient><linearGradient id="w41" gradientUnits="userSpaceOnUse" x1="52.0" x2="565.0" y1="0" y2="0"><stop offset="0.0000" stop-color="#00ffff"/><stop offset="0.0546" stop-color="#05fafa"/><stop offset="0.1228" stop-color="#0ff0f0"/><stop offset="0.2125" stop-color="#14ebeb"/><stop offset="0.2768" stop-color="#13ecec"/><stop offset="0.3099" stop-color="#15eaea"/><stop offset="0.3119" stop-color="#17e8e8"/><stop offset="0.3158" stop-color="#32cdcd"/><stop offset="0.3177" stop-color="#38c7c7"/><stop offset="0.3723" stop-color="#41bebe"/><stop offset="0.4152" stop-color="#41bebe"/><stop offset="0.4971" stop-color="#7a8585"/><stop offset="0.5595" stop-color="#a15e5e"/><stop offset="0.5614" stop-color="#ad5252"/><stop offset="0.6413" stop-color="#cf3030"/><stop offset="0.6940" stop-color="#de2121"/><stop offset="0.7310" stop-color="#e21d1d"/><stop offset="0.7700" stop-color="#e01f1f"/><stop offset="0.9435" stop-color="#c13e3e"/><stop offset="1.0000" stop-color="#bd4242"/></linearGradient><linearGradient id="w42" gradientUnits="userSpaceOnUse" x1="52.0" x2="565.0" y1="0" y2="0"><stop offset="0.0000" stop-color="#00ffff"/><stop offset="0.0546" stop-color="#05fafa"/><stop offset="0.1209" stop-color="#0ff0f0"/><stop offset="0.2125" stop-color="#15eaea"/><stop offset="0.2749" stop-color="#13ecec"/><stop offset="0.3060" stop-color="#15eaea"/><stop offset="0.3099" stop-color="#2ed1d1"/><stop offset="0.3119" stop-color="#35caca"/><stop offset="0.3684" stop-color="#3ec1c1"/><stop offset="0.4113" stop-color="#3fc0c0"/><stop offset="0.5049" stop-color="#817e7e"/><stop offset="0.5653" stop-color="#a75858"/><stop offset="0.5673" stop-color="#af5050"/><stop offset="0.6433" stop-color="#cf3030"/><stop offset="0.6940" stop-color="#dd2222"/><stop offset="0.7310" stop-color="#e11e1e"/><stop offset="0.7680" stop-color="#df2020"/><stop offset="0.9454" stop-color="#bf4040"/><stop offset="1.0000" stop-color="#ba4545"/></linearGradient><linearGradient id="w43" gradientUnits="userSpaceOnUse" x1="52.0" x2="565.0" y1="0" y2="0"><stop offset="0.0000" stop-color="#00ffff"/><stop offset="0.0546" stop-color="#05fafa"/><stop offset="0.1170" stop-color="#0ff0f0"/><stop offset="0.2125" stop-color="#15eaea"/><stop offset="0.3002" stop-color="#15eaea"/><stop offset="0.3060" stop-color="#33cccc"/><stop offset="0.3626" stop-color="#3cc3c3"/><stop offset="0.4094" stop-color="#3ec1c1"/><stop offset="0.5068" stop-color="#847b7b"/><stop offset="0.5692" stop-color="#ac5353"/><stop offset="0.5712" stop-color="#af5050"/><stop offset="0.6452" stop-color="#ce3131"/><stop offset="0.6959" stop-color="#dd2222"/><stop offset="0.7310" stop-color="#e01f1f"/><stop offset="0.7680" stop-color="#de2121"/><stop offset="0.9454" stop-color="#bd4242"/><stop offset="1.0000" stop-color="#b84747"/></linearGradient><linearGradient id="w44" gradientUnits="userSpaceOnUse" x1="52.0" x2="565.0" y1="0" y2="0"><stop offset="0.0000" stop-color="#01fefe"/><stop offset="0.0546" stop-color="#05fafa"/><stop offset="0.1150" stop-color="#0ff0f0"/><stop offset="0.2125" stop-color="#15eaea"/><stop offset="0.2943" stop-color="#15eaea"/><stop offset="0.2963" stop-color="#1be4e4"/><stop offset="0.3002" stop-color="#31cece"/><stop offset="0.3606" stop-color="#3ac5c5"/><stop offset="0.4055" stop-color="#3cc3c3"/><stop offset="0.5127" stop-color="#897676"/><stop offset="0.5731" stop-color="#b04f4f"/><stop offset="0.5750" stop-color="#b04f4f"/><stop offset="0.6530" stop-color="#d02f2f"/><stop offset="0.6959" stop-color="#dc2323"/><stop offset="0.7310" stop-color="#df2020"/><stop offset="0.7661" stop-color="#de2121"/><stop offset="0.9454" stop-color="#bb4444"/><stop offset="1.0000" stop-color="#b64949"/></linearGradient><linearGradient id="w45" gradientUnits="userSpaceOnUse" x1="52.0" x2="565.0" y1="0" y2="0"><stop offset="0.0000" stop-color="#01fefe"/><stop offset="0.0526" stop-color="#05fafa"/><stop offset="0.1131" stop-color="#0ff0f0"/><stop offset="0.2144" stop-color="#16e9e9"/><stop offset="0.2885" stop-color="#15eaea"/><stop offset="0.2904" stop-color="#18e7e7"/><stop offset="0.2943" stop-color="#2fd0d0"/><stop offset="0.3548" stop-color="#38c7c7"/><stop offset="0.4035" stop-color="#3ac5c5"/><stop offset="0.5185" stop-color="#8f7070"/><stop offset="0.5770" stop-color="#b54a4a"/><stop offset="0.5789" stop-color="#b04f4f"/><stop offset="0.6491" stop-color="#ce3131"/><stop offset="0.6959" stop-color="#db2424"/><stop offset="0.7310" stop-color="#df2020"/><stop offset="0.7661" stop-color="#dc2323"/><stop offset="0.9454" stop-color="#b94646"/><stop offset="1.0000" stop-color="#b34c4c"/></linearGradient><linearGradient id="w46" gradientUnits="userSpaceOnUse" x1="52.0" x2="565.0" y1="0" y2="0"><stop offset="0.0000" stop-color="#01fefe"/><stop offset="0.0507" stop-color="#05fafa"/><stop offset="0.1111" stop-color="#0ff0f0"/><stop offset="0.2144" stop-color="#16e9e9"/><stop offset="0.2846" stop-color="#16e9e9"/><stop offset="0.2865" stop-color="#1de2e2"/><stop offset="0.2885" stop-color="#27d8d8"/><stop offset="0.2943" stop-color="#2dd2d2"/><stop offset="0.3528" stop-color="#36c9c9"/><stop offset="0.3996" stop-color="#38c7c7"/><stop offset="0.4366" stop-color="#52adad"/><stop offset="0.5263" stop-color="#966969"/><stop offset="0.5809" stop-color="#ba4545"/><stop offset="0.5828" stop-color="#b14e4e"/><stop offset="0.6511" stop-color="#ce3131"/><stop offset="0.6979" stop-color="#db2424"/><stop offset="0.7310" stop-color="#de2121"/><stop offset="0.7641" stop-color="#dc2323"/><stop offset="0.9454" stop-color="#b64949"/><stop offset="1.0000" stop-color="#b14e4e"/></linearGradient><linearGradient id="w47" gradientUnits="userSpaceOnUse" x1="52.0" x2="565.0" y1="0" y2="0"><stop offset="0.0000" stop-color="#01fefe"/><stop offset="0.0507" stop-color="#06f9f9"/><stop offset="0.1072" stop-color="#0ff0f0"/><stop offset="0.2125" stop-color="#16e9e9"/><stop offset="0.2807" stop-color="#16e9e9"/><stop offset="0.2827" stop-color="#1ee1e1"/><stop offset="0.2846" stop-color="#21dede"/><stop offset="0.3021" stop-color="#2ed1d1"/><stop offset="0.3528" stop-color="#34cbcb"/><stop offset="0.3977" stop-color="#37c8c8"/><stop offset="0.4386" stop-color="#53acac"/><stop offset="0.5322" stop-color="#9c6363"/><stop offset="0.5848" stop-color="#be4141"/><stop offset="0.5867" stop-color="#b14e4e"/><stop offset="0.6530" stop-color="#ce3131"/><stop offset="0.6979" stop-color="#da2525"/><stop offset="0.7290" stop-color="#dd2222"/><stop offset="0.7622" stop-color="#db2424"/><stop offset="0.9454" stop-color="#b54a4a"/><stop offset="1.0000" stop-color="#af5050"/></linearGradient><linearGradient id="w48" gradientUnits="userSpaceOnUse" x1="52.0" x2="565.0" y1="0" y2="0"><stop offset="0.0000" stop-color="#01fefe"/><stop offset="0.0487" stop-color="#06f9f9"/><stop offset="0.1053" stop-color="#0ff0f0"/><stop offset="0.1559" stop-color="#11eeee"/><stop offset="0.2125" stop-color="#16e9e9"/><stop offset="0.2768" stop-color="#16e9e9"/><stop offset="0.3080" stop-color="#2dd2d2"/><stop offset="0.3938" stop-color="#35caca"/><stop offset="0.4386" stop-color="#53acac"/><stop offset="0.5380" stop-color="#a15e5e"/><stop offset="0.5906" stop-color="#c43b3b"/><stop offset="0.5926" stop-color="#b24d4d"/><stop offset="0.6550" stop-color="#ce3131"/><stop offset="0.6979" stop-color="#da2525"/><stop offset="0.7290" stop-color="#dd2222"/><stop offset="0.7602" stop-color="#da2525"/><stop offset="0.9454" stop-color="#b34c4c"/><stop offset="1.0000" stop-color="#ad5252"/></linearGradient><linearGradient id="w49" gradientUnits="userSpaceOnUse" x1="52.0" x2="565.0" y1="0" y2="0"><stop offset="0.0000" stop-color="#01fefe"/><stop offset="0.0487" stop-color="#06f9f9"/><stop offset="0.1033" stop-color="#0ff0f0"/><stop offset="0.1559" stop-color="#11eeee"/><stop offset="0.2125" stop-color="#17e8e8"/><stop offset="0.2827" stop-color="#17e8e8"/><stop offset="0.3138" stop-color="#2dd2d2"/><stop offset="0.3899" stop-color="#33cccc"/><stop offset="0.4366" stop-color="#52adad"/><stop offset="0.5458" stop-color="#a85757"/><stop offset="0.5945" stop-color="#c83737"/><stop offset="0.5965" stop-color="#b34c4c"/><stop offset="0.6569" stop-color="#ce3131"/><stop offset="0.6979" stop-color="#d92626"/><stop offset="0.7271" stop-color="#dc2323"/><stop offset="0.7583" stop-color="#d92626"/><stop offset="0.9435" stop-color="#b14e4e"/><stop offset="1.0000" stop-color="#ab5454"/></linearGradient><linearGradient id="w50" gradientUnits="userSpaceOnUse" x1="52.0" x2="565.0" y1="0" y2="0"><stop offset="0.0000" stop-color="#02fdfd"/><stop offset="0.0468" stop-color="#06f9f9"/><stop offset="0.1014" stop-color="#10efef"/><stop offset="0.1540" stop-color="#11eeee"/><stop offset="0.2105" stop-color="#17e8e8"/><stop offset="0.2904" stop-color="#18e7e7"/><stop offset="0.3197" stop-color="#2cd3d3"/><stop offset="0.3879" stop-color="#32cdcd"/><stop offset="0.4366" stop-color="#52adad"/><stop offset="0.5497" stop-color="#ac5353"/><stop offset="0.5984" stop-color="#cc3333"/><stop offset="0.6004" stop-color="#b44b4b"/><stop offset="0.6472" stop-color="#c93636"/><stop offset="0.6784" stop-color="#d52a2a"/><stop offset="0.7076" stop-color="#da2525"/><stop offset="0.7388" stop-color="#db2424"/><stop offset="0.7758" stop-color="#d52a2a"/><stop offset="0.9454" stop-color="#af5050"/><stop offset="1.0000" stop-color="#a95656"/></linearGradient><linearGradient id="w51" gradientUnits="userSpaceOnUse" x1="52.0" x2="565.0" y1="0" y2="0"><stop offset="0.0000" stop-color="#02fdfd"/><stop offset="0.0468" stop-color="#06f9f9"/><stop offset="0.0994" stop-color="#10efef"/><stop offset="0.1540" stop-color="#11eeee"/><stop offset="0.2105" stop-color="#17e8e8"/><stop offset="0.2963" stop-color="#1ae5e5"/><stop offset="0.3002" stop-color="#1ae5e5"/><stop offset="0.3255" stop-color="#2cd3d3"/><stop offset="0.3840" stop-color="#30cfcf"/><stop offset="0.4327" stop-color="#4eb1b1"/><stop offset="0.5419" stop-color="#a85757"/><stop offset="0.5731" stop-color="#be4141"/><stop offset="0.6023" stop-color="#cf3030"/><stop offset="0.6043" stop-color="#b44b4b"/><stop offset="0.6472" stop-color="#c93636"/><stop offset="0.6745" stop-color="#d32c2c"/><stop offset="0.7018" stop-color="#d92626"/><stop offset="0.7271" stop-color="#db2424"/><stop offset="0.7680" stop-color="#d52a2a"/><stop offset="0.9454" stop-color="#ad5252"/><stop offset="1.0000" stop-color="#a75858"/></linearGradient><linearGradient id="w52" gradientUnits="userSpaceOnUse" x1="52.0" x2="565.0" y1="0" y2="0"><stop offset="0.0000" stop-color="#02fdfd"/><stop offset="0.0448" stop-color="#06f9f9"/><stop offset="0.0975" stop-color="#10efef"/><stop offset="0.1540" stop-color="#11eeee"/><stop offset="0.2105" stop-color="#17e8e8"/><stop offset="0.2924" stop-color="#1ae5e5"/><stop offset="0.3099" stop-color="#1de2e2"/><stop offset="0.3314" stop-color="#2bd4d4"/><stop offset="0.3782" stop-color="#2ed1d1"/><stop offset="0.4094" stop-color="#3fc0c0"/><stop offset="0.4308" stop-color="#4cb3b3"/><stop offset="0.5458" stop-color="#ab5454"/><stop offset="0.5770" stop-color="#c23d3d"/><stop offset="0.6062" stop-color="#d32c2c"/><stop offset="0.6082" stop-color="#b54a4a"/><stop offset="0.6472" stop-color="#c83737"/><stop offset="0.6745" stop-color="#d32c2c"/><stop offset="0.6998" stop-color="#d92626"/><stop offset="0.7251" stop-color="#da2525"/><stop offset="0.7622" stop-color="#d52a2a"/><stop offset="0.9454" stop-color="#ab5454"/><stop offset="1.0000" stop-color="#a55a5a"/></linearGradient><linearGradient id="w53" gradientUnits="userSpaceOnUse" x1="52.0" x2="565.0" y1="0" y2="0"><stop offset="0.0000" stop-color="#02fdfd"/><stop offset="0.0448" stop-color="#07f8f8"/><stop offset="0.0955" stop-color="#10efef"/><stop offset="0.1520" stop-color="#11eeee"/><stop offset="0.2105" stop-color="#18e7e7"/><stop offset="0.2904" stop-color="#1ae5e5"/><stop offset="0.3197" stop-color="#1fe0e0"/><stop offset="0.3372" stop-color="#2ad5d5"/><stop offset="0.3723" stop-color="#2dd2d2"/><stop offset="0.4074" stop-color="#3dc2c2"/><stop offset="0.4308" stop-color="#4cb3b3"/><stop offset="0.5497" stop-color="#af5050"/><stop offset="0.5828" stop-color="#c63939"/><stop offset="0.6121" stop-color="#d72828"/><stop offset="0.6140" stop-color="#b74848"/><stop offset="0.6511" stop-color="#c93636"/><stop offset="0.6764" stop-color="#d32c2c"/><stop offset="0.6998" stop-color="#d82727"/><stop offset="0.7251" stop-color="#d92626"/><stop offset="0.7583" stop-color="#d42b2b"/><stop offset="0.9415" stop-color="#aa5555"/><stop offset="1.0000" stop-color="#a35c5c"/></linearGradient><linearGradient id="w54" gradientUnits="userSpaceOnUse" x1="52.0" x2="565.0" y1="0" y2="0"><stop offset="0.0000" stop-color="#02fdfd"/><stop offset="0.0429" stop-color="#06f9f9"/><stop offset="0.0955" stop-color="#10efef"/><stop offset="0.1520" stop-color="#11eeee"/><stop offset="0.2086" stop-color="#18e7e7"/><stop offset="0.2885" stop-color="#1be4e4"/><stop offset="0.3314" stop-color="#22dddd"/><stop offset="0.3450" stop-color="#2ad5d5"/><stop offset="0.3645" stop-color="#2bd4d4"/><stop offset="0.4055" stop-color="#3cc3c3"/><stop offset="0.4288" stop-color="#4ab5b5"/><stop offset="0.5536" stop-color="#b24d4d"/><stop offset="0.5848" stop-color="#c83737"/><stop offset="0.6160" stop-color="#da2525"/><stop offset="0.6179" stop-color="#b84747"/><stop offset="0.6530" stop-color="#ca3535"/><stop offset="0.6764" stop-color="#d32c2c"/><stop offset="0.6998" stop-color="#d82727"/><stop offset="0.7232" stop-color="#d92626"/><stop offset="0.7524" stop-color="#d42b2b"/><stop offset="0.9396" stop-color="#a85757"/><stop offset="1.0000" stop-color="#a15e5e"/></linearGradient><linearGradient id="w55" gradientUnits="userSpaceOnUse" x1="52.0" x2="565.0" y1="0" y2="0"><stop offset="0.0000" stop-color="#03fcfc"/><stop offset="0.0409" stop-color="#06f9f9"/><stop offset="0.0955" stop-color="#10efef"/><stop offset="0.1501" stop-color="#11eeee"/><stop offset="0.2047" stop-color="#18e7e7"/><stop offset="0.2924" stop-color="#1ce3e3"/><stop offset="0.3431" stop-color="#26d9d9"/><stop offset="0.3957" stop-color="#37c8c8"/><stop offset="0.4152" stop-color="#40bfbf"/><stop offset="0.4327" stop-color="#4bb4b4"/><stop offset="0.5049" stop-color="#8a7575"/><stop offset="0.5556" stop-color="#b34c4c"/><stop offset="0.5887" stop-color="#cb3434"/><stop offset="0.6199" stop-color="#dc2323"/><stop offset="0.6218" stop-color="#b94646"/><stop offset="0.6530" stop-color="#c93636"/><stop offset="0.6764" stop-color="#d32c2c"/><stop offset="0.6979" stop-color="#d82727"/><stop offset="0.7212" stop-color="#d82727"/><stop offset="0.7485" stop-color="#d42b2b"/><stop offset="0.9376" stop-color="#a75858"/><stop offset="1.0000" stop-color="#9f6060"/></linearGradient><linearGradient id="w56" gradientUnits="userSpaceOnUse" x1="52.0" x2="565.0" y1="0" y2="0"><stop offset="0.0000" stop-color="#03fcfc"/><stop offset="0.0409" stop-color="#07f8f8"/><stop offset="0.0936" stop-color="#10efef"/><stop offset="0.1481" stop-color="#11eeee"/><stop offset="0.2027" stop-color="#18e7e7"/><stop offset="0.2904" stop-color="#1ce3e3"/><stop offset="0.3333" stop-color="#25dada"/><stop offset="0.4016" stop-color="#39c6c6"/><stop offset="0.4191" stop-color="#41bebe"/><stop offset="0.4386" stop-color="#4fb0b0"/><stop offset="0.5029" stop-color="#887777"/><stop offset="0.5692" stop-color="#bd4242"/><stop offset="0.5965" stop-color="#cf3030"/><stop offset="0.6238" stop-color="#dd2222"/><stop offset="0.6257" stop-color="#ba4545"/><stop offset="0.6550" stop-color="#ca3535"/><stop offset="0.6764" stop-color="#d32c2c"/><stop offset="0.6979" stop-color="#d72828"/><stop offset="0.7193" stop-color="#d82727"/><stop offset="0.7446" stop-color="#d42b2b"/><stop offset="0.8226" stop-color="#bf4040"/><stop offset="0.9337" stop-color="#a65959"/><stop offset="0.9688" stop-color="#a05f5f"/><stop offset="1.0000" stop-color="#9d6262"/></linearGradient><linearGradient id="w57" gradientUnits="userSpaceOnUse" x1="52.0" x2="565.0" y1="0" y2="0"><stop offset="0.0000" stop-color="#03fcfc"/><stop offset="0.0936" stop-color="#10efef"/><stop offset="0.1481" stop-color="#11eeee"/><stop offset="0.2027" stop-color="#18e7e7"/><stop offset="0.2885" stop-color="#1de2e2"/><stop offset="0.3255" stop-color="#24dbdb"/><stop offset="0.3684" stop-color="#32cdcd"/><stop offset="0.4035" stop-color="#39c6c6"/><stop offset="0.4211" stop-color="#41bebe"/><stop offset="0.4386" stop-color="#4db2b2"/><stop offset="0.4990" stop-color="#837c7c"/><stop offset="0.5712" stop-color="#bd4242"/><stop offset="0.5984" stop-color="#cf3030"/><stop offset="0.6277" stop-color="#de2121"/><stop offset="0.6296" stop-color="#bc4343"/><stop offset="0.6569" stop-color="#cb3434"/><stop offset="0.6764" stop-color="#d32c2c"/><stop offset="0.6959" stop-color="#d72828"/><stop offset="0.7173" stop-color="#d72828"/><stop offset="0.7427" stop-color="#d32c2c"/><stop offset="0.8265" stop-color="#bb4444"/><stop offset="0.9298" stop-color="#a45b5b"/><stop offset="0.9669" stop-color="#9e6161"/><stop offset="1.0000" stop-color="#9c6363"/></linearGradient><linearGradient id="w58" gradientUnits="userSpaceOnUse" x1="52.0" x2="565.0" y1="0" y2="0"><stop offset="0.0000" stop-color="#03fcfc"/><stop offset="0.0916" stop-color="#0ff0f0"/><stop offset="0.1481" stop-color="#11eeee"/><stop offset="0.2008" stop-color="#18e7e7"/><stop offset="0.2865" stop-color="#1de2e2"/><stop offset="0.3275" stop-color="#25dada"/><stop offset="0.3665" stop-color="#32cdcd"/><stop offset="0.4055" stop-color="#38c7c7"/><stop offset="0.4211" stop-color="#3fc0c0"/><stop offset="0.4386" stop-color="#4cb3b3"/><stop offset="0.4971" stop-color="#807f7f"/><stop offset="0.5731" stop-color="#bd4242"/><stop offset="0.6004" stop-color="#cf3030"/><stop offset="0.6316" stop-color="#dd2222"/><stop offset="0.6335" stop-color="#bd4242"/><stop offset="0.6569" stop-color="#cb3434"/><stop offset="0.6764" stop-color="#d32c2c"/><stop offset="0.6959" stop-color="#d72828"/><stop offset="0.7154" stop-color="#d72828"/><stop offset="0.7407" stop-color="#d22d2d"/><stop offset="0.8246" stop-color="#b94646"/><stop offset="0.9240" stop-color="#a35c5c"/><stop offset="0.9649" stop-color="#9c6363"/><stop offset="1.0000" stop-color="#9a6565"/></linearGradient><linearGradient id="w59" gradientUnits="userSpaceOnUse" x1="52.0" x2="565.0" y1="0" y2="0"><stop offset="0.0000" stop-color="#03fcfc"/><stop offset="0.0916" stop-color="#0ff0f0"/><stop offset="0.1481" stop-color="#12eded"/><stop offset="0.1988" stop-color="#19e6e6"/><stop offset="0.2827" stop-color="#1ee1e1"/><stop offset="0.3236" stop-color="#25dada"/><stop offset="0.3665" stop-color="#33cccc"/><stop offset="0.3938" stop-color="#34cbcb"/><stop offset="0.4074" stop-color="#37c8c8"/><stop offset="0.4230" stop-color="#3fc0c0"/><stop offset="0.4386" stop-color="#4ab5b5"/><stop offset="0.4951" stop-color="#7c8383"/><stop offset="0.5731" stop-color="#ba4545"/><stop offset="0.6023" stop-color="#cc3333"/><stop offset="0.6374" stop-color="#db2424"/><stop offset="0.6394" stop-color="#c03f3f"/><stop offset="0.6608" stop-color="#cd3232"/><stop offset="0.6784" stop-color="#d42b2b"/><stop offset="0.6959" stop-color="#d72828"/><stop offset="0.7135" stop-color="#d72828"/><stop offset="0.7368" stop-color="#d22d2d"/><stop offset="0.8363" stop-color="#b44b4b"/><stop offset="0.9435" stop-color="#9e6161"/><stop offset="1.0000" stop-color="#986767"/></linearGradient><linearGradient id="w60" gradientUnits="userSpaceOnUse" x1="52.0" x2="565.0" y1="0" y2="0"><stop offset="0.0000" stop-color="#04fbfb"/><stop offset="0.0916" stop-color="#0ff0f0"/><stop offset="0.1462" stop-color="#12eded"/><stop offset="0.1988" stop-color="#19e6e6"/><stop offset="0.2807" stop-color="#1ee1e1"/><stop offset="0.3216" stop-color="#26d9d9"/><stop offset="0.3645" stop-color="#33cccc"/><stop offset="0.3938" stop-color="#33cccc"/><stop offset="0.4074" stop-color="#35caca"/><stop offset="0.4211" stop-color="#3cc3c3"/><stop offset="0.4366" stop-color="#47b8b8"/><stop offset="0.4990" stop-color="#7d8282"/><stop offset="0.5731" stop-color="#b64949"/><stop offset="0.6043" stop-color="#c83737"/><stop offset="0.6413" stop-color="#d52a2a"/><stop offset="0.6433" stop-color="#c23d3d"/><stop offset="0.6628" stop-color="#ce3131"/><stop offset="0.6784" stop-color="#d42b2b"/><stop offset="0.6940" stop-color="#d72828"/><stop offset="0.7115" stop-color="#d62929"/><stop offset="0.7349" stop-color="#d12e2e"/><stop offset="0.8363" stop-color="#b14e4e"/><stop offset="0.9435" stop-color="#9c6363"/><stop offset="1.0000" stop-color="#966969"/></linearGradient><linearGradient id="w61" gradientUnits="userSpaceOnUse" x1="52.0" x2="565.0" y1="0" y2="0"><stop offset="0.0000" stop-color="#04fbfb"/><stop offset="0.0916" stop-color="#0ff0f0"/><stop offset="0.1462" stop-color="#12eded"/><stop offset="0.1969" stop-color="#19e6e6"/><stop offset="0.2768" stop-color="#1ee1e1"/><stop offset="0.3158" stop-color="#25dada"/><stop offset="0.3626" stop-color="#32cdcd"/><stop offset="0.3938" stop-color="#31cece"/><stop offset="0.4074" stop-color="#34cbcb"/><stop offset="0.4347" stop-color="#43bcbc"/><stop offset="0.5107" stop-color="#847b7b"/><stop offset="0.5536" stop-color="#a45b5b"/><stop offset="0.5809" stop-color="#b64949"/><stop offset="0.6023" stop-color="#c13e3e"/><stop offset="0.6257" stop-color="#c83737"/><stop offset="0.6452" stop-color="#cc3333"/><stop offset="0.6472" stop-color="#c53a3a"/><stop offset="0.6686" stop-color="#d12e2e"/><stop offset="0.6862" stop-color="#d62929"/><stop offset="0.7037" stop-color="#d62929"/><stop offset="0.7251" stop-color="#d22d2d"/><stop offset="0.8051" stop-color="#b64949"/><stop offset="0.8402" stop-color="#ad5252"/><stop offset="0.9454" stop-color="#996666"/><stop offset="1.0000" stop-color="#946b6b"/></linearGradient><linearGradient id="w62" gradientUnits="userSpaceOnUse" x1="52.0" x2="565.0" y1="0" y2="0"><stop offset="0.0000" stop-color="#04fbfb"/><stop offset="0.0897" stop-color="#0ff0f0"/><stop offset="0.1481" stop-color="#12eded"/><stop offset="0.1949" stop-color="#19e6e6"/><stop offset="0.2768" stop-color="#1fe0e0"/><stop offset="0.3119" stop-color="#25dada"/><stop offset="0.3626" stop-color="#31cece"/><stop offset="0.3938" stop-color="#30cfcf"/><stop offset="0.4074" stop-color="#32cdcd"/><stop offset="0.4327" stop-color="#40bfbf"/><stop offset="0.5068" stop-color="#7d8282"/><stop offset="0.5692" stop-color="#aa5555"/><stop offset="0.5887" stop-color="#b44b4b"/><stop offset="0.6082" stop-color="#bb4444"/><stop offset="0.6491" stop-color="#be4141"/><stop offset="0.6511" stop-color="#c83737"/><stop offset="0.6686" stop-color="#d12e2e"/><stop offset="0.6842" stop-color="#d62929"/><stop offset="0.7018" stop-color="#d62929"/><stop offset="0.7232" stop-color="#d22d2d"/><stop offset="0.8012" stop-color="#b54a4a"/><stop offset="0.8402" stop-color="#aa5555"/><stop offset="0.9454" stop-color="#976868"/><stop offset="1.0000" stop-color="#936c6c"/></linearGradient><linearGradient id="w63" gradientUnits="userSpaceOnUse" x1="52.0" x2="565.0" y1="0" y2="0"><stop offset="0.0000" stop-color="#04fbfb"/><stop offset="0.0897" stop-color="#0ff0f0"/><stop offset="0.1462" stop-color="#12eded"/><stop offset="0.1949" stop-color="#19e6e6"/><stop offset="0.2729" stop-color="#1fe0e0"/><stop offset="0.3587" stop-color="#30cfcf"/><stop offset="0.3957" stop-color="#2ed1d1"/><stop offset="0.4074" stop-color="#30cfcf"/><stop offset="0.4308" stop-color="#3cc3c3"/><stop offset="0.5127" stop-color="#7e8181"/><stop offset="0.5478" stop-color="#976868"/><stop offset="0.5731" stop-color="#a65959"/><stop offset="0.5926" stop-color="#ae5151"/><stop offset="0.6121" stop-color="#b14e4e"/><stop offset="0.6296" stop-color="#b14e4e"/><stop offset="0.6530" stop-color="#ac5353"/><stop offset="0.6550" stop-color="#ca3535"/><stop offset="0.6686" stop-color="#d22d2d"/><stop offset="0.6823" stop-color="#d62929"/><stop offset="0.6998" stop-color="#d62929"/><stop offset="0.7212" stop-color="#d12e2e"/><stop offset="0.7973" stop-color="#b24d4d"/><stop offset="0.8382" stop-color="#a75858"/><stop offset="0.9474" stop-color="#956a6a"/><stop offset="1.0000" stop-color="#916e6e"/></linearGradient><linearGradient id="w64" gradientUnits="userSpaceOnUse" x1="52.0" x2="565.0" y1="0" y2="0"><stop offset="0.0000" stop-color="#04fbfb"/><stop offset="0.0897" stop-color="#0ff0f0"/><stop offset="0.1442" stop-color="#12eded"/><stop offset="0.1930" stop-color="#1ae5e5"/><stop offset="0.2710" stop-color="#1fe0e0"/><stop offset="0.3548" stop-color="#2fd0d0"/><stop offset="0.3957" stop-color="#2cd3d3"/><stop offset="0.4074" stop-color="#2ed1d1"/><stop offset="0.4347" stop-color="#3dc2c2"/><stop offset="0.4912" stop-color="#6a9595"/><stop offset="0.5263" stop-color="#847b7b"/><stop offset="0.5536" stop-color="#956a6a"/><stop offset="0.5750" stop-color="#a05f5f"/><stop offset="0.5965" stop-color="#a65959"/><stop offset="0.6160" stop-color="#a65959"/><stop offset="0.6335" stop-color="#a15e5e"/><stop offset="0.6589" stop-color="#956a6a"/><stop offset="0.6608" stop-color="#cf3030"/><stop offset="0.6803" stop-color="#d62929"/><stop offset="0.6959" stop-color="#d62929"/><stop offset="0.7173" stop-color="#d02f2f"/><stop offset="0.7895" stop-color="#b24d4d"/><stop offset="0.8363" stop-color="#a45b5b"/><stop offset="0.9493" stop-color="#926d6d"/><stop offset="1.0000" stop-color="#8f7070"/></linearGradient><linearGradient id="w65" gradientUnits="userSpaceOnUse" x1="52.0" x2="565.0" y1="0" y2="0"><stop offset="0.0000" stop-color="#05fafa"/><stop offset="0.1442" stop-color="#13ecec"/><stop offset="0.1910" stop-color="#1ae5e5"/><stop offset="0.2671" stop-color="#1fe0e0"/><stop offset="0.3528" stop-color="#2ed1d1"/><stop offset="0.4055" stop-color="#2cd3d3"/><stop offset="0.4327" stop-color="#3ac5c5"/><stop offset="0.4912" stop-color="#679898"/><stop offset="0.5283" stop-color="#807f7f"/><stop offset="0.5556" stop-color="#906f6f"/><stop offset="0.5770" stop-color="#996666"/><stop offset="0.5965" stop-color="#9c6363"/><stop offset="0.6160" stop-color="#9a6565"/><stop offset="0.6335" stop-color="#916e6e"/><stop offset="0.6628" stop-color="#7c8383"/><stop offset="0.6647" stop-color="#d12e2e"/><stop offset="0.6784" stop-color="#d62929"/><stop offset="0.6920" stop-color="#d62929"/><stop offset="0.7135" stop-color="#d02f2f"/><stop offset="0.7836" stop-color="#b04f4f"/><stop offset="0.8343" stop-color="#a05f5f"/><stop offset="0.9513" stop-color="#906f6f"/><stop offset="1.0000" stop-color="#8d7272"/></linearGradient><linearGradient id="w66" gradientUnits="userSpaceOnUse" x1="52.0" x2="565.0" y1="0" y2="0"><stop offset="0.0000" stop-color="#05fafa"/><stop offset="0.1423" stop-color="#13ecec"/><stop offset="0.1910" stop-color="#1ae5e5"/><stop offset="0.2651" stop-color="#1fe0e0"/><stop offset="0.3489" stop-color="#2dd2d2"/><stop offset="0.4055" stop-color="#2bd4d4"/><stop offset="0.4308" stop-color="#37c8c8"/><stop offset="0.4932" stop-color="#649b9b"/><stop offset="0.5302" stop-color="#7c8383"/><stop offset="0.5595" stop-color="#8b7474"/><stop offset="0.5828" stop-color="#926d6d"/><stop offset="0.6004" stop-color="#926d6d"/><stop offset="0.6179" stop-color="#8c7373"/><stop offset="0.6316" stop-color="#837c7c"/><stop offset="0.6667" stop-color="#659a9a"/><stop offset="0.6686" stop-color="#d42b2b"/><stop offset="0.6764" stop-color="#d62929"/><stop offset="0.6881" stop-color="#d52a2a"/><stop offset="0.7057" stop-color="#d02f2f"/><stop offset="0.7739" stop-color="#b04f4f"/><stop offset="0.8324" stop-color="#9d6262"/><stop offset="0.9532" stop-color="#8e7171"/><stop offset="1.0000" stop-color="#8c7373"/></linearGradient><linearGradient id="w67" gradientUnits="userSpaceOnUse" x1="52.0" x2="565.0" y1="0" y2="0"><stop offset="0.0000" stop-color="#05fafa"/><stop offset="0.1404" stop-color="#13ecec"/><stop offset="0.1891" stop-color="#1ae5e5"/><stop offset="0.2632" stop-color="#20dfdf"/><stop offset="0.3450" stop-color="#2cd3d3"/><stop offset="0.4055" stop-color="#2ad5d5"/><stop offset="0.4308" stop-color="#36c9c9"/><stop offset="0.4932" stop-color="#619e9e"/><stop offset="0.5283" stop-color="#768989"/><stop offset="0.5556" stop-color="#837c7c"/><stop offset="0.5789" stop-color="#897676"/><stop offset="0.5965" stop-color="#887777"/><stop offset="0.6140" stop-color="#817e7e"/><stop offset="0.6277" stop-color="#788787"/><stop offset="0.6550" stop-color="#5fa0a0"/><stop offset="0.6706" stop-color="#55aaaa"/><stop offset="0.6725" stop-color="#d62929"/><stop offset="0.6745" stop-color="#d62929"/><stop offset="0.6842" stop-color="#d62929"/><stop offset="0.6979" stop-color="#d12e2e"/><stop offset="0.7622" stop-color="#b04f4f"/><stop offset="0.8304" stop-color="#9a6565"/><stop offset="0.9552" stop-color="#8c7373"/><stop offset="1.0000" stop-color="#8a7575"/></linearGradient><linearGradient id="w68" gradientUnits="userSpaceOnUse" x1="52.0" x2="565.0" y1="0" y2="0"><stop offset="0.0000" stop-color="#05fafa"/><stop offset="0.1384" stop-color="#13ecec"/><stop offset="0.1871" stop-color="#1ae5e5"/><stop offset="0.2612" stop-color="#20dfdf"/><stop offset="0.3411" stop-color="#2bd4d4"/><stop offset="0.3918" stop-color="#29d6d6"/><stop offset="0.4055" stop-color="#2ad5d5"/><stop offset="0.4308" stop-color="#35caca"/><stop offset="0.4912" stop-color="#5ca3a3"/><stop offset="0.5244" stop-color="#6f9090"/><stop offset="0.5517" stop-color="#7b8484"/><stop offset="0.5731" stop-color="#807f7f"/><stop offset="0.5906" stop-color="#807f7f"/><stop offset="0.6062" stop-color="#7a8585"/><stop offset="0.6199" stop-color="#718e8e"/><stop offset="0.6530" stop-color="#55aaaa"/><stop offset="0.6745" stop-color="#4db2b2"/><stop offset="0.6764" stop-color="#d62929"/><stop offset="0.6959" stop-color="#d02f2f"/><stop offset="0.7232" stop-color="#bd4242"/><stop offset="0.7524" stop-color="#b04f4f"/><stop offset="0.8285" stop-color="#976868"/><stop offset="0.9571" stop-color="#8a7575"/><stop offset="1.0000" stop-color="#897676"/></linearGradient><linearGradient id="w69" gradientUnits="userSpaceOnUse" x1="52.0" x2="565.0" y1="0" y2="0"><stop offset="0.0000" stop-color="#05fafa"/><stop offset="0.1365" stop-color="#13ecec"/><stop offset="0.1852" stop-color="#1ae5e5"/><stop offset="0.2612" stop-color="#20dfdf"/><stop offset="0.3372" stop-color="#2ad5d5"/><stop offset="0.4035" stop-color="#29d6d6"/><stop offset="0.4308" stop-color="#34cbcb"/><stop offset="0.5224" stop-color="#689797"/><stop offset="0.5478" stop-color="#738c8c"/><stop offset="0.5692" stop-color="#788787"/><stop offset="0.5848" stop-color="#778888"/><stop offset="0.5984" stop-color="#748b8b"/><stop offset="0.6121" stop-color="#6c9393"/><stop offset="0.6491" stop-color="#50afaf"/><stop offset="0.6608" stop-color="#4cb3b3"/><stop offset="0.6784" stop-color="#4ab5b5"/><stop offset="0.6803" stop-color="#d52a2a"/><stop offset="0.6920" stop-color="#d02f2f"/><stop offset="0.7115" stop-color="#be4141"/><stop offset="0.7271" stop-color="#b54a4a"/><stop offset="0.8285" stop-color="#956a6a"/><stop offset="0.9591" stop-color="#887777"/><stop offset="1.0000" stop-color="#877878"/></linearGradient><linearGradient id="w70" gradientUnits="userSpaceOnUse" x1="52.0" x2="565.0" y1="0" y2="0"><stop offset="0.0000" stop-color="#06f9f9"/><stop offset="0.1326" stop-color="#13ecec"/><stop offset="0.1852" stop-color="#1be4e4"/><stop offset="0.2593" stop-color="#20dfdf"/><stop offset="0.3353" stop-color="#2ad5d5"/><stop offset="0.4035" stop-color="#29d6d6"/><stop offset="0.4308" stop-color="#33cccc"/><stop offset="0.5185" stop-color="#629d9d"/><stop offset="0.5439" stop-color="#6b9494"/><stop offset="0.5653" stop-color="#708f8f"/><stop offset="0.5809" stop-color="#6f9090"/><stop offset="0.5965" stop-color="#6b9494"/><stop offset="0.6355" stop-color="#52adad"/><stop offset="0.6472" stop-color="#4db2b2"/><stop offset="0.6842" stop-color="#47b8b8"/><stop offset="0.6862" stop-color="#d12e2e"/><stop offset="0.7037" stop-color="#bd4242"/><stop offset="0.7154" stop-color="#b54a4a"/><stop offset="0.8246" stop-color="#946b6b"/><stop offset="0.9552" stop-color="#877878"/><stop offset="1.0000" stop-color="#857a7a"/></linearGradient><linearGradient id="w71" gradientUnits="userSpaceOnUse" x1="52.0" x2="565.0" y1="0" y2="0"><stop offset="0.0000" stop-color="#06f9f9"/><stop offset="0.3314" stop-color="#29d6d6"/><stop offset="0.4035" stop-color="#29d6d6"/><stop offset="0.4308" stop-color="#32cdcd"/><stop offset="0.5166" stop-color="#5ca3a3"/><stop offset="0.5419" stop-color="#659a9a"/><stop offset="0.5614" stop-color="#689797"/><stop offset="0.5770" stop-color="#689797"/><stop offset="0.5926" stop-color="#649b9b"/><stop offset="0.6413" stop-color="#4cb3b3"/><stop offset="0.6881" stop-color="#45baba"/><stop offset="0.6901" stop-color="#ca3535"/><stop offset="0.6998" stop-color="#ba4545"/><stop offset="0.7115" stop-color="#b24d4d"/><stop offset="0.8226" stop-color="#936c6c"/><stop offset="0.8519" stop-color="#8e7171"/><stop offset="0.9493" stop-color="#867979"/><stop offset="1.0000" stop-color="#847b7b"/></linearGradient><linearGradient id="w72" gradientUnits="userSpaceOnUse" x1="52.0" x2="565.0" y1="0" y2="0"><stop offset="0.0000" stop-color="#06f9f9"/><stop offset="0.3275" stop-color="#29d6d6"/><stop offset="0.4035" stop-color="#29d6d6"/><stop offset="0.4288" stop-color="#31cece"/><stop offset="0.5127" stop-color="#56a9a9"/><stop offset="0.5575" stop-color="#619e9e"/><stop offset="0.5867" stop-color="#5ea1a1"/><stop offset="0.6355" stop-color="#4bb4b4"/><stop offset="0.6920" stop-color="#44bbbb"/><stop offset="0.6940" stop-color="#bc4343"/><stop offset="0.7018" stop-color="#b24d4d"/><stop offset="0.7115" stop-color="#ac5353"/><stop offset="0.7446" stop-color="#a65959"/><stop offset="0.8285" stop-color="#906f6f"/><stop offset="0.9493" stop-color="#847b7b"/><stop offset="1.0000" stop-color="#837c7c"/></linearGradient><linearGradient id="w73" gradientUnits="userSpaceOnUse" x1="52.0" x2="565.0" y1="0" y2="0"><stop offset="0.0000" stop-color="#06f9f9"/><stop offset="0.3255" stop-color="#29d6d6"/><stop offset="0.4035" stop-color="#29d6d6"/><stop offset="0.4288" stop-color="#30cfcf"/><stop offset="0.5068" stop-color="#50afaf"/><stop offset="0.5536" stop-color="#5aa5a5"/><stop offset="0.5789" stop-color="#59a6a6"/><stop offset="0.6277" stop-color="#4ab5b5"/><stop offset="0.6589" stop-color="#48b7b7"/><stop offset="0.6959" stop-color="#42bdbd"/><stop offset="0.6979" stop-color="#b14e4e"/><stop offset="0.7057" stop-color="#a55a5a"/><stop offset="0.7115" stop-color="#a25d5d"/><stop offset="0.7563" stop-color="#9e6161"/><stop offset="0.8343" stop-color="#8e7171"/><stop offset="0.9493" stop-color="#837c7c"/><stop offset="1.0000" stop-color="#817e7e"/></linearGradient><linearGradient id="w74" gradientUnits="userSpaceOnUse" x1="52.0" x2="565.0" y1="0" y2="0"><stop offset="0.0000" stop-color="#06f9f9"/><stop offset="0.0741" stop-color="#0df2f2"/><stop offset="0.1832" stop-color="#1be4e4"/><stop offset="0.3236" stop-color="#28d7d7"/><stop offset="0.4035" stop-color="#2ad5d5"/><stop offset="0.4288" stop-color="#30cfcf"/><stop offset="0.5029" stop-color="#4bb4b4"/><stop offset="0.5478" stop-color="#54abab"/><stop offset="0.5750" stop-color="#54abab"/><stop offset="0.6218" stop-color="#49b6b6"/><stop offset="0.6550" stop-color="#48b7b7"/><stop offset="0.6842" stop-color="#45baba"/><stop offset="0.6901" stop-color="#42bdbd"/><stop offset="0.6920" stop-color="#47b8b8"/><stop offset="0.6959" stop-color="#5fa0a0"/><stop offset="0.6998" stop-color="#708f8f"/><stop offset="0.7018" stop-color="#9d6262"/><stop offset="0.7037" stop-color="#976868"/><stop offset="0.7076" stop-color="#956a6a"/><stop offset="0.7622" stop-color="#986767"/><stop offset="0.8733" stop-color="#887777"/><stop offset="0.9552" stop-color="#817e7e"/><stop offset="1.0000" stop-color="#807f7f"/></linearGradient><linearGradient id="w75" gradientUnits="userSpaceOnUse" x1="52.0" x2="565.0" y1="0" y2="0"><stop offset="0.0000" stop-color="#07f8f8"/><stop offset="0.0741" stop-color="#0df2f2"/><stop offset="0.1832" stop-color="#1be4e4"/><stop offset="0.3216" stop-color="#28d7d7"/><stop offset="0.4035" stop-color="#2ad5d5"/><stop offset="0.4288" stop-color="#30cfcf"/><stop offset="0.4971" stop-color="#46b9b9"/><stop offset="0.5419" stop-color="#4eb1b1"/><stop offset="0.5712" stop-color="#4eb1b1"/><stop offset="0.6179" stop-color="#48b7b7"/><stop offset="0.6491" stop-color="#48b7b7"/><stop offset="0.6803" stop-color="#46b9b9"/><stop offset="0.6881" stop-color="#43bcbc"/><stop offset="0.6901" stop-color="#47b8b8"/><stop offset="0.6940" stop-color="#609f9f"/><stop offset="0.6959" stop-color="#6a9595"/><stop offset="0.6998" stop-color="#798686"/><stop offset="0.7037" stop-color="#857a7a"/><stop offset="0.7076" stop-color="#887777"/><stop offset="0.7544" stop-color="#926d6d"/><stop offset="0.7875" stop-color="#916e6e"/><stop offset="0.9435" stop-color="#807f7f"/><stop offset="1.0000" stop-color="#7f8080"/></linearGradient><linearGradient id="w76" gradientUnits="userSpaceOnUse" x1="52.0" x2="565.0" y1="0" y2="0"><stop offset="0.0000" stop-color="#07f8f8"/><stop offset="0.0741" stop-color="#0df2f2"/><stop offset="0.1832" stop-color="#1be4e4"/><stop offset="0.3197" stop-color="#28d7d7"/><stop offset="0.4035" stop-color="#2ad5d5"/><stop offset="0.4912" stop-color="#42bdbd"/><stop offset="0.5322" stop-color="#48b7b7"/><stop offset="0.5653" stop-color="#49b6b6"/><stop offset="0.6179" stop-color="#46b9b9"/><stop offset="0.6491" stop-color="#48b7b7"/><stop offset="0.6803" stop-color="#46b9b9"/><stop offset="0.6881" stop-color="#43bcbc"/><stop offset="0.6901" stop-color="#47b8b8"/><stop offset="0.6940" stop-color="#5ca3a3"/><stop offset="0.6979" stop-color="#6b9494"/><stop offset="0.7018" stop-color="#758a8a"/><stop offset="0.7057" stop-color="#7a8585"/><stop offset="0.7173" stop-color="#807f7f"/><stop offset="0.7641" stop-color="#8c7373"/><stop offset="0.8070" stop-color="#8d7272"/><stop offset="0.9415" stop-color="#7f8080"/><stop offset="1.0000" stop-color="#7d8282"/></linearGradient><linearGradient id="w77" gradientUnits="userSpaceOnUse" x1="52.0" x2="565.0" y1="0" y2="0"><stop offset="0.0000" stop-color="#07f8f8"/><stop offset="0.0741" stop-color="#0df2f2"/><stop offset="0.1832" stop-color="#1ce3e3"/><stop offset="0.3197" stop-color="#28d7d7"/><stop offset="0.4016" stop-color="#2ad5d5"/><stop offset="0.4834" stop-color="#3ec1c1"/><stop offset="0.5185" stop-color="#43bcbc"/><stop offset="0.6121" stop-color="#45baba"/><stop offset="0.6452" stop-color="#48b7b7"/><stop offset="0.6686" stop-color="#46b9b9"/><stop offset="0.6823" stop-color="#47b8b8"/><stop offset="0.6901" stop-color="#44bbbb"/><stop offset="0.6920" stop-color="#47b8b8"/><stop offset="0.6959" stop-color="#58a7a7"/><stop offset="0.6998" stop-color="#659a9a"/><stop offset="0.7037" stop-color="#6d9292"/><stop offset="0.7096" stop-color="#738c8c"/><stop offset="0.7427" stop-color="#807f7f"/><stop offset="0.7836" stop-color="#897676"/><stop offset="0.8265" stop-color="#8a7575"/><stop offset="0.9435" stop-color="#7e8181"/><stop offset="1.0000" stop-color="#7c8383"/></linearGradient><linearGradient id="w78" gradientUnits="userSpaceOnUse" x1="52.0" x2="565.0" y1="0" y2="0"><stop offset="0.0000" stop-color="#07f8f8"/><stop offset="0.0741" stop-color="#0df2f2"/><stop offset="0.1910" stop-color="#1ce3e3"/><stop offset="0.3294" stop-color="#28d7d7"/><stop offset="0.4035" stop-color="#2bd4d4"/><stop offset="0.5049" stop-color="#3fc0c0"/><stop offset="0.6023" stop-color="#43bcbc"/><stop offset="0.6433" stop-color="#48b7b7"/><stop offset="0.6686" stop-color="#46b9b9"/><stop offset="0.6842" stop-color="#48b7b7"/><stop offset="0.6940" stop-color="#46b9b9"/><stop offset="0.6959" stop-color="#48b7b7"/><stop offset="0.7018" stop-color="#5aa5a5"/><stop offset="0.7057" stop-color="#639c9c"/><stop offset="0.7115" stop-color="#6a9595"/><stop offset="0.7173" stop-color="#6f9090"/><stop offset="0.7388" stop-color="#788787"/><stop offset="0.7992" stop-color="#877878"/><stop offset="0.8363" stop-color="#887777"/><stop offset="0.9435" stop-color="#7c8383"/><stop offset="1.0000" stop-color="#7b8484"/></linearGradient><linearGradient id="w79" gradientUnits="userSpaceOnUse" x1="52.0" x2="565.0" y1="0" y2="0"><stop offset="0.0000" stop-color="#07f8f8"/><stop offset="0.0741" stop-color="#0df2f2"/><stop offset="0.1910" stop-color="#1de2e2"/><stop offset="0.3314" stop-color="#28d7d7"/><stop offset="0.4035" stop-color="#2bd4d4"/><stop offset="0.4951" stop-color="#3cc3c3"/><stop offset="0.5556" stop-color="#3dc2c2"/><stop offset="0.6433" stop-color="#48b7b7"/><stop offset="0.6706" stop-color="#46b9b9"/><stop offset="0.6881" stop-color="#49b6b6"/><stop offset="0.6979" stop-color="#47b8b8"/><stop offset="0.7018" stop-color="#49b6b6"/><stop offset="0.7096" stop-color="#5aa5a5"/><stop offset="0.7154" stop-color="#629d9d"/><stop offset="0.7310" stop-color="#6f9090"/><stop offset="0.7856" stop-color="#817e7e"/><stop offset="0.8109" stop-color="#867979"/><stop offset="0.8460" stop-color="#867979"/><stop offset="0.9513" stop-color="#7a8585"/><stop offset="1.0000" stop-color="#7a8585"/></linearGradient><linearGradient id="w80" gradientUnits="userSpaceOnUse" x1="52.0" x2="565.0" y1="0" y2="0"><stop offset="0.0000" stop-color="#08f7f7"/><stop offset="0.0741" stop-color="#0df2f2"/><stop offset="0.1910" stop-color="#1de2e2"/><stop offset="0.3314" stop-color="#28d7d7"/><stop offset="0.4035" stop-color="#2cd3d3"/><stop offset="0.4854" stop-color="#39c6c6"/><stop offset="0.5478" stop-color="#3ac5c5"/><stop offset="0.6394" stop-color="#47b8b8"/><stop offset="0.6706" stop-color="#47b8b8"/><stop offset="0.6920" stop-color="#4bb4b4"/><stop offset="0.7057" stop-color="#4ab5b5"/><stop offset="0.7115" stop-color="#4db2b2"/><stop offset="0.7251" stop-color="#609f9f"/><stop offset="0.7427" stop-color="#6d9292"/><stop offset="0.7875" stop-color="#7e8181"/><stop offset="0.8168" stop-color="#847b7b"/><stop offset="0.8499" stop-color="#847b7b"/><stop offset="0.9513" stop-color="#798686"/><stop offset="1.0000" stop-color="#798686"/></linearGradient><linearGradient id="w81" gradientUnits="userSpaceOnUse" x1="52.0" x2="565.0" y1="0" y2="0"><stop offset="0.0000" stop-color="#08f7f7"/><stop offset="0.0760" stop-color="#0ef1f1"/><stop offset="0.1910" stop-color="#1de2e2"/><stop offset="0.3333" stop-color="#29d6d6"/><stop offset="0.4055" stop-color="#2cd3d3"/><stop offset="0.4815" stop-color="#38c7c7"/><stop offset="0.5458" stop-color="#37c8c8"/><stop offset="0.6374" stop-color="#47b8b8"/><stop offset="0.6784" stop-color="#48b7b7"/><stop offset="0.7173" stop-color="#50afaf"/><stop offset="0.7407" stop-color="#649b9b"/><stop offset="0.7622" stop-color="#708f8f"/><stop offset="0.7934" stop-color="#7d8282"/><stop offset="0.8207" stop-color="#837c7c"/><stop offset="0.8499" stop-color="#837c7c"/><stop offset="0.9493" stop-color="#788787"/><stop offset="1.0000" stop-color="#788787"/></linearGradient><linearGradient id="w82" gradientUnits="userSpaceOnUse" x1="52.0" x2="565.0" y1="0" y2="0"><stop offset="0.0000" stop-color="#08f7f7"/><stop offset="0.0760" stop-color="#0ef1f1"/><stop offset="0.1891" stop-color="#1de2e2"/><stop offset="0.4055" stop-color="#2dd2d2"/><stop offset="0.4776" stop-color="#37c8c8"/><stop offset="0.5458" stop-color="#36c9c9"/><stop offset="0.6374" stop-color="#47b8b8"/><stop offset="0.6784" stop-color="#48b7b7"/><stop offset="0.7251" stop-color="#55aaaa"/><stop offset="0.7758" stop-color="#748b8b"/><stop offset="0.7992" stop-color="#7d8282"/><stop offset="0.8226" stop-color="#827d7d"/><stop offset="0.8499" stop-color="#827d7d"/><stop offset="0.9474" stop-color="#778888"/><stop offset="1.0000" stop-color="#778888"/></linearGradient><linearGradient id="w83" gradientUnits="userSpaceOnUse" x1="52.0" x2="565.0" y1="0" y2="0"><stop offset="0.0000" stop-color="#08f7f7"/><stop offset="0.0760" stop-color="#0ef1f1"/><stop offset="0.1871" stop-color="#1de2e2"/><stop offset="0.4055" stop-color="#2dd2d2"/><stop offset="0.4737" stop-color="#36c9c9"/><stop offset="0.5458" stop-color="#35caca"/><stop offset="0.6374" stop-color="#47b8b8"/><stop offset="0.6823" stop-color="#49b6b6"/><stop offset="0.6998" stop-color="#4db2b2"/><stop offset="0.7329" stop-color="#5ba4a4"/><stop offset="0.7836" stop-color="#768989"/><stop offset="0.8265" stop-color="#817e7e"/><stop offset="0.8499" stop-color="#807f7f"/><stop offset="0.9454" stop-color="#768989"/><stop offset="1.0000" stop-color="#768989"/></linearGradient><linearGradient id="w84" gradientUnits="userSpaceOnUse" x1="52.0" x2="565.0" y1="0" y2="0"><stop offset="0.0000" stop-color="#09f6f6"/><stop offset="0.0760" stop-color="#0ef1f1"/><stop offset="0.1871" stop-color="#1de2e2"/><stop offset="0.4074" stop-color="#2ed1d1"/><stop offset="0.4717" stop-color="#35caca"/><stop offset="0.5322" stop-color="#34cbcb"/><stop offset="0.5556" stop-color="#36c9c9"/><stop offset="0.6355" stop-color="#47b8b8"/><stop offset="0.6784" stop-color="#48b7b7"/><stop offset="0.6940" stop-color="#4bb4b4"/><stop offset="0.7173" stop-color="#54abab"/><stop offset="0.7778" stop-color="#738c8c"/><stop offset="0.8285" stop-color="#7f8080"/><stop offset="0.8499" stop-color="#7f8080"/><stop offset="0.9454" stop-color="#758a8a"/><stop offset="1.0000" stop-color="#758a8a"/></linearGradient><linearGradient id="w85" gradientUnits="userSpaceOnUse" x1="52.0" x2="565.0" y1="0" y2="0"><stop offset="0.0000" stop-color="#09f6f6"/><stop offset="0.0760" stop-color="#0ef1f1"/><stop offset="0.1891" stop-color="#1de2e2"/><stop offset="0.2749" stop-color="#22dddd"/><stop offset="0.4698" stop-color="#35caca"/><stop offset="0.5302" stop-color="#34cbcb"/><stop offset="0.5536" stop-color="#35caca"/><stop offset="0.6355" stop-color="#47b8b8"/><stop offset="0.6959" stop-color="#4bb4b4"/><stop offset="0.7193" stop-color="#54abab"/><stop offset="0.7778" stop-color="#738c8c"/><stop offset="0.8265" stop-color="#7c8383"/><stop offset="0.8519" stop-color="#7c8383"/><stop offset="0.9493" stop-color="#748b8b"/><stop offset="1.0000" stop-color="#748b8b"/></linearGradient><linearGradient id="w86" gradientUnits="userSpaceOnUse" x1="52.0" x2="565.0" y1="0" y2="0"><stop offset="0.0000" stop-color="#09f6f6"/><stop offset="0.0760" stop-color="#0ff0f0"/><stop offset="0.1891" stop-color="#1de2e2"/><stop offset="0.2768" stop-color="#23dcdc"/><stop offset="0.4659" stop-color="#35caca"/><stop offset="0.5536" stop-color="#35caca"/><stop offset="0.6355" stop-color="#46b9b9"/><stop offset="0.6998" stop-color="#4cb3b3"/><stop offset="0.7232" stop-color="#55aaaa"/><stop offset="0.7797" stop-color="#728d8d"/><stop offset="0.8187" stop-color="#788787"/><stop offset="0.8499" stop-color="#7a8585"/><stop offset="0.9474" stop-color="#738c8c"/><stop offset="1.0000" stop-color="#738c8c"/></linearGradient><linearGradient id="w87" gradientUnits="userSpaceOnUse" x1="52.0" x2="565.0" y1="0" y2="0"><stop offset="0.0000" stop-color="#09f6f6"/><stop offset="0.0760" stop-color="#0ff0f0"/><stop offset="0.1891" stop-color="#1de2e2"/><stop offset="0.2788" stop-color="#23dcdc"/><stop offset="0.4600" stop-color="#34cbcb"/><stop offset="0.5536" stop-color="#36c9c9"/><stop offset="0.6355" stop-color="#46b9b9"/><stop offset="0.7037" stop-color="#4db2b2"/><stop offset="0.7271" stop-color="#55aaaa"/><stop offset="0.7758" stop-color="#6e9191"/><stop offset="0.8012" stop-color="#748b8b"/><stop offset="0.8519" stop-color="#778888"/><stop offset="0.9532" stop-color="#718e8e"/><stop offset="1.0000" stop-color="#728d8d"/></linearGradient><linearGradient id="w88" gradientUnits="userSpaceOnUse" x1="52.0" x2="565.0" y1="0" y2="0"><stop offset="0.0000" stop-color="#0af5f5"/><stop offset="0.0702" stop-color="#0ef1f1"/><stop offset="0.1832" stop-color="#1de2e2"/><stop offset="0.2807" stop-color="#23dcdc"/><stop offset="0.3782" stop-color="#2ed1d1"/><stop offset="0.4717" stop-color="#35caca"/><stop offset="0.5263" stop-color="#34cbcb"/><stop offset="0.5536" stop-color="#36c9c9"/><stop offset="0.6374" stop-color="#47b8b8"/><stop offset="0.7057" stop-color="#4db2b2"/><stop offset="0.7290" stop-color="#55aaaa"/><stop offset="0.7758" stop-color="#6b9494"/><stop offset="0.8012" stop-color="#718e8e"/><stop offset="0.8596" stop-color="#748b8b"/><stop offset="0.9591" stop-color="#708f8f"/><stop offset="1.0000" stop-color="#728d8d"/></linearGradient><linearGradient id="w89" gradientUnits="userSpaceOnUse" x1="52.0" x2="565.0" y1="0" y2="0"><stop offset="0.0000" stop-color="#0af5f5"/><stop offset="0.0760" stop-color="#0ff0f0"/><stop offset="0.1910" stop-color="#1ee1e1"/><stop offset="0.2865" stop-color="#23dcdc"/><stop offset="0.3821" stop-color="#2fd0d0"/><stop offset="0.4698" stop-color="#35caca"/><stop offset="0.5517" stop-color="#36c9c9"/><stop offset="0.6374" stop-color="#47b8b8"/><stop offset="0.7076" stop-color="#4db2b2"/><stop offset="0.7310" stop-color="#54abab"/><stop offset="0.7778" stop-color="#699696"/><stop offset="0.8012" stop-color="#6e9191"/><stop offset="0.8713" stop-color="#718e8e"/><stop offset="0.9630" stop-color="#6f9090"/><stop offset="1.0000" stop-color="#718e8e"/></linearGradient><linearGradient id="w90" gradientUnits="userSpaceOnUse" x1="52.0" x2="565.0" y1="0" y2="0"><stop offset="0.0000" stop-color="#0af5f5"/><stop offset="0.0780" stop-color="#10efef"/><stop offset="0.1930" stop-color="#1ee1e1"/><stop offset="0.2865" stop-color="#23dcdc"/><stop offset="0.3840" stop-color="#2fd0d0"/><stop offset="0.4659" stop-color="#35caca"/><stop offset="0.5517" stop-color="#36c9c9"/><stop offset="0.6374" stop-color="#47b8b8"/><stop offset="0.7096" stop-color="#4eb1b1"/><stop offset="0.7310" stop-color="#54abab"/><stop offset="0.7778" stop-color="#669999"/><stop offset="0.7992" stop-color="#6b9494"/><stop offset="0.8791" stop-color="#6f9090"/><stop offset="1.0000" stop-color="#708f8f"/></linearGradient><linearGradient id="w91" gradientUnits="userSpaceOnUse" x1="52.0" x2="565.0" y1="0" y2="0"><stop offset="0.0000" stop-color="#0af5f5"/><stop offset="0.0780" stop-color="#10efef"/><stop offset="0.1930" stop-color="#1ee1e1"/><stop offset="0.2885" stop-color="#24dbdb"/><stop offset="0.3860" stop-color="#30cfcf"/><stop offset="0.5497" stop-color="#37c8c8"/><stop offset="0.6374" stop-color="#47b8b8"/><stop offset="0.7115" stop-color="#4eb1b1"/><stop offset="0.7778" stop-color="#649b9b"/><stop offset="0.7992" stop-color="#689797"/><stop offset="0.8869" stop-color="#6e9191"/><stop offset="1.0000" stop-color="#708f8f"/></linearGradient><linearGradient id="w92" gradientUnits="userSpaceOnUse" x1="52.0" x2="565.0" y1="0" y2="0"><stop offset="0.0000" stop-color="#0bf4f4"/><stop offset="0.0780" stop-color="#10efef"/><stop offset="0.1930" stop-color="#1ee1e1"/><stop offset="0.2885" stop-color="#24dbdb"/><stop offset="0.3879" stop-color="#31cece"/><stop offset="0.5497" stop-color="#37c8c8"/><stop offset="0.6374" stop-color="#47b8b8"/><stop offset="0.7135" stop-color="#4eb1b1"/><stop offset="0.7778" stop-color="#629d9d"/><stop offset="0.7992" stop-color="#669999"/><stop offset="0.8343" stop-color="#669999"/><stop offset="0.8928" stop-color="#6d9292"/><stop offset="1.0000" stop-color="#6f9090"/></linearGradient><linearGradient id="w93" gradientUnits="userSpaceOnUse" x1="52.0" x2="565.0" y1="0" y2="0"><stop offset="0.0000" stop-color="#0bf4f4"/><stop offset="0.0780" stop-color="#10efef"/><stop offset="0.1949" stop-color="#1ee1e1"/><stop offset="0.2904" stop-color="#24dbdb"/><stop offset="0.3899" stop-color="#31cece"/><stop offset="0.5439" stop-color="#37c8c8"/><stop offset="0.6374" stop-color="#47b8b8"/><stop offset="0.7135" stop-color="#4eb1b1"/><stop offset="0.7953" stop-color="#649b9b"/><stop offset="0.8363" stop-color="#659a9a"/><stop offset="0.8967" stop-color="#6c9393"/><stop offset="1.0000" stop-color="#6f9090"/></linearGradient><linearGradient id="w94" gradientUnits="userSpaceOnUse" x1="52.0" x2="565.0" y1="0" y2="0"><stop offset="0.0000" stop-color="#0bf4f4"/><stop offset="0.0780" stop-color="#11eeee"/><stop offset="0.1949" stop-color="#1fe0e0"/><stop offset="0.2904" stop-color="#24dbdb"/><stop offset="0.3918" stop-color="#32cdcd"/><stop offset="0.5439" stop-color="#38c7c7"/><stop offset="0.6374" stop-color="#47b8b8"/><stop offset="0.7135" stop-color="#4fb0b0"/><stop offset="0.7953" stop-color="#629d9d"/><stop offset="0.8402" stop-color="#649b9b"/><stop offset="0.8986" stop-color="#6b9494"/><stop offset="1.0000" stop-color="#6e9191"/></linearGradient><linearGradient id="w95" gradientUnits="userSpaceOnUse" x1="52.0" x2="565.0" y1="0" y2="0"><stop offset="0.0000" stop-color="#0bf4f4"/><stop offset="0.0780" stop-color="#11eeee"/><stop offset="0.1969" stop-color="#1fe0e0"/><stop offset="0.2924" stop-color="#25dada"/><stop offset="0.3938" stop-color="#32cdcd"/><stop offset="0.5439" stop-color="#39c6c6"/><stop offset="0.6355" stop-color="#47b8b8"/><stop offset="0.7135" stop-color="#4fb0b0"/><stop offset="0.7973" stop-color="#619e9e"/><stop offset="0.8421" stop-color="#639c9c"/><stop offset="0.9025" stop-color="#6a9595"/><stop offset="1.0000" stop-color="#6e9191"/></linearGradient><linearGradient id="w96" gradientUnits="userSpaceOnUse" x1="52.0" x2="565.0" y1="0" y2="0"><stop offset="0.0000" stop-color="#0cf3f3"/><stop offset="0.0780" stop-color="#11eeee"/><stop offset="0.1969" stop-color="#1fe0e0"/><stop offset="0.2924" stop-color="#25dada"/><stop offset="0.3957" stop-color="#32cdcd"/><stop offset="0.5419" stop-color="#39c6c6"/><stop offset="0.6355" stop-color="#47b8b8"/><stop offset="0.7135" stop-color="#4fb0b0"/><stop offset="0.7973" stop-color="#609f9f"/><stop offset="0.9025" stop-color="#699696"/><stop offset="1.0000" stop-color="#6e9191"/></linearGradient><linearGradient id="w97" gradientUnits="userSpaceOnUse" x1="52.0" x2="565.0" y1="0" y2="0"><stop offset="0.0000" stop-color="#0cf3f3"/><stop offset="0.0799" stop-color="#12eded"/><stop offset="0.1969" stop-color="#1fe0e0"/><stop offset="0.2943" stop-color="#25dada"/><stop offset="0.3977" stop-color="#33cccc"/><stop offset="0.5419" stop-color="#3ac5c5"/><stop offset="0.6335" stop-color="#47b8b8"/><stop offset="0.7135" stop-color="#4fb0b0"/><stop offset="0.7973" stop-color="#5fa0a0"/><stop offset="0.9045" stop-color="#699696"/><stop offset="1.0000" stop-color="#6e9191"/></linearGradient><linearGradient id="w98" gradientUnits="userSpaceOnUse" x1="52.0" x2="565.0" y1="0" y2="0"><stop offset="0.0000" stop-color="#0cf3f3"/><stop offset="0.0799" stop-color="#12eded"/><stop offset="0.1988" stop-color="#20dfdf"/><stop offset="0.2943" stop-color="#26d9d9"/><stop offset="0.3996" stop-color="#33cccc"/><stop offset="0.5400" stop-color="#3bc4c4"/><stop offset="0.6335" stop-color="#48b7b7"/><stop offset="0.7135" stop-color="#4fb0b0"/><stop offset="0.7992" stop-color="#5fa0a0"/><stop offset="0.9025" stop-color="#689797"/><stop offset="1.0000" stop-color="#6e9191"/></linearGradient><linearGradient id="w99" gradientUnits="userSpaceOnUse" x1="52.0" x2="565.0" y1="0" y2="0"><stop offset="0.0000" stop-color="#0cf3f3"/><stop offset="0.0799" stop-color="#12eded"/><stop offset="0.1988" stop-color="#20dfdf"/><stop offset="0.2963" stop-color="#26d9d9"/><stop offset="0.4016" stop-color="#33cccc"/><stop offset="0.5400" stop-color="#3bc4c4"/><stop offset="0.6316" stop-color="#48b7b7"/><stop offset="0.7135" stop-color="#50afaf"/><stop offset="0.8012" stop-color="#5fa0a0"/><stop offset="0.9025" stop-color="#689797"/><stop offset="1.0000" stop-color="#6e9191"/></linearGradient><linearGradient id="w100" gradientUnits="userSpaceOnUse" x1="52.0" x2="565.0" y1="0" y2="0"><stop offset="0.0000" stop-color="#0df2f2"/><stop offset="0.0799" stop-color="#12eded"/><stop offset="0.2008" stop-color="#20dfdf"/><stop offset="0.2963" stop-color="#26d9d9"/><stop offset="0.4035" stop-color="#34cbcb"/><stop offset="0.5380" stop-color="#3cc3c3"/><stop offset="0.7135" stop-color="#50afaf"/><stop offset="0.8051" stop-color="#5fa0a0"/><stop offset="0.9006" stop-color="#689797"/><stop offset="1.0000" stop-color="#6d9292"/></linearGradient><linearGradient id="w101" gradientUnits="userSpaceOnUse" x1="52.0" x2="565.0" y1="0" y2="0"><stop offset="0.0000" stop-color="#0df2f2"/><stop offset="0.0799" stop-color="#13ecec"/><stop offset="0.2008" stop-color="#20dfdf"/><stop offset="0.2982" stop-color="#27d8d8"/><stop offset="0.4055" stop-color="#34cbcb"/><stop offset="0.5380" stop-color="#3cc3c3"/><stop offset="0.7115" stop-color="#50afaf"/><stop offset="0.8090" stop-color="#5fa0a0"/><stop offset="0.8986" stop-color="#679898"/><stop offset="1.0000" stop-color="#6d9292"/></linearGradient><linearGradient id="w102" gradientUnits="userSpaceOnUse" x1="52.0" x2="565.0" y1="0" y2="0"><stop offset="0.0000" stop-color="#0df2f2"/><stop offset="0.0799" stop-color="#13ecec"/><stop offset="0.2027" stop-color="#21dede"/><stop offset="0.2982" stop-color="#27d8d8"/><stop offset="0.4074" stop-color="#35caca"/><stop offset="0.5400" stop-color="#3dc2c2"/><stop offset="0.7096" stop-color="#50afaf"/><stop offset="0.7973" stop-color="#5da2a2"/><stop offset="0.8791" stop-color="#669999"/><stop offset="1.0000" stop-color="#6d9292"/></linearGradient><linearGradient id="w103" gradientUnits="userSpaceOnUse" x1="52.0" x2="565.0" y1="0" y2="0"><stop offset="0.0000" stop-color="#0df2f2"/><stop offset="0.0819" stop-color="#13ecec"/><stop offset="0.2027" stop-color="#21dede"/><stop offset="0.3002" stop-color="#28d7d7"/><stop offset="0.4094" stop-color="#35caca"/><stop offset="0.5400" stop-color="#3ec1c1"/><stop offset="0.7096" stop-color="#50afaf"/><stop offset="0.7973" stop-color="#5da2a2"/><stop offset="0.8752" stop-color="#669999"/><stop offset="1.0000" stop-color="#6d9292"/></linearGradient><linearGradient id="w104" gradientUnits="userSpaceOnUse" x1="52.0" x2="565.0" y1="0" y2="0"><stop offset="0.0000" stop-color="#0ef1f1"/><stop offset="0.0819" stop-color="#14ebeb"/><stop offset="0.2047" stop-color="#21dede"/><stop offset="0.3021" stop-color="#28d7d7"/><stop offset="0.4113" stop-color="#35caca"/><stop offset="0.5400" stop-color="#3ec1c1"/><stop offset="0.7096" stop-color="#50afaf"/><stop offset="0.8733" stop-color="#659a9a"/><stop offset="1.0000" stop-color="#6d9292"/></linearGradient><linearGradient id="w105" gradientUnits="userSpaceOnUse" x1="52.0" x2="565.0" y1="0" y2="0"><stop offset="0.0000" stop-color="#0ef1f1"/><stop offset="0.3021" stop-color="#28d7d7"/><stop offset="0.4133" stop-color="#36c9c9"/><stop offset="0.5400" stop-color="#3fc0c0"/><stop offset="0.7096" stop-color="#50afaf"/><stop offset="0.8733" stop-color="#669999"/><stop offset="1.0000" stop-color="#6d9292"/></linearGradient><linearGradient id="w106" gradientUnits="userSpaceOnUse" x1="52.0" x2="565.0" y1="0" y2="0"><stop offset="0.0000" stop-color="#0ef1f1"/><stop offset="0.3041" stop-color="#29d6d6"/><stop offset="0.4152" stop-color="#36c9c9"/><stop offset="0.5419" stop-color="#3fc0c0"/><stop offset="0.7115" stop-color="#51aeae"/><stop offset="0.8713" stop-color="#669999"/><stop offset="1.0000" stop-color="#6d9292"/></linearGradient><linearGradient id="w107" gradientUnits="userSpaceOnUse" x1="52.0" x2="565.0" y1="0" y2="0"><stop offset="0.0000" stop-color="#0ef1f1"/><stop offset="0.3021" stop-color="#29d6d6"/><stop offset="0.4113" stop-color="#36c9c9"/><stop offset="0.5283" stop-color="#3fc0c0"/><stop offset="0.6920" stop-color="#4fb0b0"/><stop offset="0.8713" stop-color="#669999"/><stop offset="1.0000" stop-color="#6c9393"/></linearGradient><linearGradient id="w108" gradientUnits="userSpaceOnUse" x1="52.0" x2="565.0" y1="0" y2="0"><stop offset="0.0000" stop-color="#0ff0f0"/><stop offset="0.6920" stop-color="#4fb0b0"/><stop offset="0.8713" stop-color="#669999"/><stop offset="1.0000" stop-color="#6c9393"/></linearGradient><linearGradient id="w109" gradientUnits="userSpaceOnUse" x1="52.0" x2="565.0" y1="0" y2="0"><stop offset="0.0000" stop-color="#0ff0f0"/><stop offset="0.6920" stop-color="#4fb0b0"/><stop offset="0.8713" stop-color="#669999"/><stop offset="1.0000" stop-color="#6c9393"/></linearGradient><linearGradient id="w110" gradientUnits="userSpaceOnUse" x1="52.0" x2="565.0" y1="0" y2="0"><stop offset="0.0000" stop-color="#0ff0f0"/><stop offset="0.6920" stop-color="#4fb0b0"/><stop offset="0.8694" stop-color="#659a9a"/><stop offset="1.0000" stop-color="#6c9393"/></linearGradient><linearGradient id="w111" gradientUnits="userSpaceOnUse" x1="52.0" x2="565.0" y1="0" y2="0"><stop offset="0.0000" stop-color="#0ff0f0"/><stop offset="0.6920" stop-color="#4fb0b0"/><stop offset="0.8674" stop-color="#659a9a"/><stop offset="1.0000" stop-color="#6b9494"/></linearGradient><linearGradient id="w112" gradientUnits="userSpaceOnUse" x1="52.0" x2="565.0" y1="0" y2="0"><stop offset="0.0000" stop-color="#10efef"/><stop offset="0.6920" stop-color="#50afaf"/><stop offset="0.8655" stop-color="#649b9b"/><stop offset="1.0000" stop-color="#6b9494"/></linearGradient><linearGradient id="w113" gradientUnits="userSpaceOnUse" x1="52.0" x2="565.0" y1="0" y2="0"><stop offset="0.0000" stop-color="#10efef"/><stop offset="0.6920" stop-color="#50afaf"/><stop offset="0.8635" stop-color="#649b9b"/><stop offset="1.0000" stop-color="#6a9595"/></linearGradient><linearGradient id="w114" gradientUnits="userSpaceOnUse" x1="52.0" x2="565.0" y1="0" y2="0"><stop offset="0.0000" stop-color="#10efef"/><stop offset="0.6920" stop-color="#50afaf"/><stop offset="0.8596" stop-color="#639c9c"/><stop offset="1.0000" stop-color="#6a9595"/></linearGradient><linearGradient id="w115" gradientUnits="userSpaceOnUse" x1="52.0" x2="565.0" y1="0" y2="0"><stop offset="0.0000" stop-color="#10efef"/><stop offset="0.6940" stop-color="#50afaf"/><stop offset="0.8577" stop-color="#629d9d"/><stop offset="1.0000" stop-color="#699696"/></linearGradient><linearGradient id="w116" gradientUnits="userSpaceOnUse" x1="52.0" x2="565.0" y1="0" y2="0"><stop offset="0.0000" stop-color="#11eeee"/><stop offset="0.6940" stop-color="#50afaf"/><stop offset="0.8538" stop-color="#619e9e"/><stop offset="1.0000" stop-color="#699696"/></linearGradient><linearGradient id="w117" gradientUnits="userSpaceOnUse" x1="52.0" x2="565.0" y1="0" y2="0"><stop offset="0.0000" stop-color="#11eeee"/><stop offset="0.6959" stop-color="#50afaf"/><stop offset="0.8499" stop-color="#609f9f"/><stop offset="1.0000" stop-color="#689797"/></linearGradient><linearGradient id="w118" gradientUnits="userSpaceOnUse" x1="52.0" x2="565.0" y1="0" y2="0"><stop offset="0.0000" stop-color="#11eeee"/><stop offset="0.4542" stop-color="#3cc3c3"/><stop offset="0.6979" stop-color="#50afaf"/><stop offset="0.8460" stop-color="#609f9f"/><stop offset="1.0000" stop-color="#689797"/></linearGradient><linearGradient id="w119" gradientUnits="userSpaceOnUse" x1="52.0" x2="565.0" y1="0" y2="0"><stop offset="0.0000" stop-color="#11eeee"/><stop offset="0.8402" stop-color="#5fa0a0"/><stop offset="1.0000" stop-color="#679898"/></linearGradient><linearGradient id="w120" gradientUnits="userSpaceOnUse" x1="52.0" x2="565.0" y1="0" y2="0"><stop offset="0.0000" stop-color="#11eeee"/><stop offset="0.8343" stop-color="#5da2a2"/><stop offset="1.0000" stop-color="#679898"/></linearGradient><linearGradient id="w121" gradientUnits="userSpaceOnUse" x1="52.0" x2="565.0" y1="0" y2="0"><stop offset="0.0000" stop-color="#12eded"/><stop offset="0.4600" stop-color="#3dc2c2"/><stop offset="0.8265" stop-color="#5ca3a3"/><stop offset="1.0000" stop-color="#669999"/></linearGradient><linearGradient id="w122" gradientUnits="userSpaceOnUse" x1="52.0" x2="565.0" y1="0" y2="0"><stop offset="0.0000" stop-color="#12eded"/><stop offset="0.4834" stop-color="#3fc0c0"/><stop offset="0.8363" stop-color="#5ca3a3"/><stop offset="1.0000" stop-color="#669999"/></linearGradient><linearGradient id="w123" gradientUnits="userSpaceOnUse" x1="52.0" x2="565.0" y1="0" y2="0"><stop offset="0.0000" stop-color="#12eded"/><stop offset="0.4854" stop-color="#3fc0c0"/><stop offset="0.8285" stop-color="#5ba4a4"/><stop offset="1.0000" stop-color="#659a9a"/></linearGradient><linearGradient id="w124" gradientUnits="userSpaceOnUse" x1="52.0" x2="565.0" y1="0" y2="0"><stop offset="0.0000" stop-color="#12eded"/><stop offset="0.4893" stop-color="#40bfbf"/><stop offset="0.8226" stop-color="#5aa5a5"/><stop offset="1.0000" stop-color="#659a9a"/></linearGradient><linearGradient id="w125" gradientUnits="userSpaceOnUse" x1="52.0" x2="565.0" y1="0" y2="0"><stop offset="0.0000" stop-color="#12eded"/><stop offset="0.4912" stop-color="#40bfbf"/><stop offset="0.8129" stop-color="#59a6a6"/><stop offset="1.0000" stop-color="#659a9a"/></linearGradient><linearGradient id="w126" gradientUnits="userSpaceOnUse" x1="52.0" x2="565.0" y1="0" y2="0"><stop offset="0.0000" stop-color="#13ecec"/><stop offset="0.4912" stop-color="#40bfbf"/><stop offset="0.8051" stop-color="#58a7a7"/><stop offset="1.0000" stop-color="#649b9b"/></linearGradient><linearGradient id="w127" gradientUnits="userSpaceOnUse" x1="52.0" x2="565.0" y1="0" y2="0"><stop offset="0.0000" stop-color="#13ecec"/><stop offset="0.4932" stop-color="#40bfbf"/><stop offset="1.0000" stop-color="#649b9b"/></linearGradient><linearGradient id="w128" gradientUnits="userSpaceOnUse" x1="52.0" x2="565.0" y1="0" y2="0"><stop offset="0.0000" stop-color="#13ecec"/><stop offset="0.4951" stop-color="#41bebe"/><stop offset="1.0000" stop-color="#639c9c"/></linearGradient><linearGradient id="w129" gradientUnits="userSpaceOnUse" x1="52.0" x2="565.0" y1="0" y2="0"><stop offset="0.0000" stop-color="#13ecec"/><stop offset="0.4951" stop-color="#41bebe"/><stop offset="1.0000" stop-color="#639c9c"/></linearGradient><linearGradient id="w130" gradientUnits="userSpaceOnUse" x1="52.0" x2="565.0" y1="0" y2="0"><stop offset="0.0000" stop-color="#13ecec"/><stop offset="0.4951" stop-color="#41bebe"/><stop offset="1.0000" stop-color="#639c9c"/></linearGradient><linearGradient id="w131" gradientUnits="userSpaceOnUse" x1="52.0" x2="565.0" y1="0" y2="0"><stop offset="0.0000" stop-color="#14ebeb"/><stop offset="0.4971" stop-color="#41bebe"/><stop offset="1.0000" stop-color="#629d9d"/></linearGradient><linearGradient id="w132" gradientUnits="userSpaceOnUse" x1="52.0" x2="565.0" y1="0" y2="0"><stop offset="0.0000" stop-color="#14ebeb"/><stop offset="0.4990" stop-color="#41bebe"/><stop offset="1.0000" stop-color="#629d9d"/></linearGradient><linearGradient id="w133" gradientUnits="userSpaceOnUse" x1="52.0" x2="565.0" y1="0" y2="0"><stop offset="0.0000" stop-color="#14ebeb"/><stop offset="0.5029" stop-color="#41bebe"/><stop offset="1.0000" stop-color="#629d9d"/></linearGradient></defs><g filter="url(#wblur)"><rect x="52.0" y="22" width="513.0" height="4" fill="url(#w0)"/><rect x="52.0" y="25" width="513.0" height="4" fill="url(#w1)"/><rect x="52.0" y="28" width="513.0" height="4" fill="url(#w2)"/><rect x="52.0" y="31" width="513.0" height="4" fill="url(#w3)"/><rect x="52.0" y="34" width="513.0" height="4" fill="url(#w4)"/><rect x="52.0" y="37" width="513.0" height="4" fill="url(#w5)"/><rect x="52.0" y="40" width="513.0" height="4" fill="url(#w6)"/><rect x="52.0" y="43" width="513.0" height="4" fill="url(#w7)"/><rect x="52.0" y="46" width="513.0" height="4" fill="url(#w8)"/><rect x="52.0" y="49" width="513.0" height="4" fill="url(#w9)"/><rect x="52.0" y="52" width="513.0" height="4" fill="url(#w10)"/><rect x="52.0" y="55" width="513.0" height="4" fill="url(#w11)"/><rect x="52.0" y="58" width="513.0" height="4" fill="url(#w12)"/><rect x="52.0" y="61" width="513.0" height="4" fill="url(#w13)"/><rect x="52.0" y="64" width="513.0" height="4" fill="url(#w14)"/><rect x="52.0" y="67" width="513.0" height="4" fill="url(#w15)"/><rect x="52.0" y="70" width="513.0" height="4" fill="url(#w16)"/><rect x="52.0" y="73" width="513.0" height="4" fill="url(#w17)"/><rect x="52.0" y="76" width="513.0" height="4" fill="url(#w18)"/><rect x="52.0" y="79" width="513.0" height="4" fill="url(#w19)"/><rect x="52.0" y="82" width="513.0" height="4" fill="url(#w20)"/><rect x="52.0" y="85" width="513.0" height="4" fill="url(#w21)"/><rect x="52.0" y="88" width="513.0" height="4" fill="url(#w22)"/><rect x="52.0" y="91" width="513.0" height="4" fill="url(#w23)"/><rect x="52.0" y="94" width="513.0" height="4" fill="url(#w24)"/><rect x="52.0" y="97" width="513.0" height="4" fill="url(#w25)"/><rect x="52.0" y="100" width="513.0" height="4" fill="url(#w26)"/><rect x="52.0" y="103" width="513.0" height="4" fill="url(#w27)"/><rect x="52.0" y="106" width="513.0" height="4" fill="url(#w28)"/><rect x="52.0" y="109" width="513.0" height="4" fill="url(#w29)"/><rect x="52.0" y="112" width="513.0" height="4" fill="url(#w30)"/><rect x="52.0" y="115" width="513.0" height="4" fill="url(#w31)"/><rect x="52.0" y="118" width="513.0" height="4" fill="url(#w32)"/><rect x="52.0" y="121" width="513.0" height="4" fill="url(#w33)"/><rect x="52.0" y="124" width="513.0" height="4" fill="url(#w34)"/><rect x="52.0" y="127" width="513.0" height="4" fill="url(#w35)"/><rect x="52.0" y="130" width="513.0" height="4" fill="url(#w36)"/><rect x="52.0" y="133" width="513.0" height="4" fill="url(#w37)"/><rect x="52.0" y="136" width="513.0" height="4" fill="url(#w38)"/><rect x="52.0" y="139" width="513.0" height="4" fill="url(#w39)"/><rect x="52.0" y="142" width="513.0" height="4" fill="url(#w40)"/><rect x="52.0" y="145" width="513.0" height="4" fill="url(#w41)"/><rect x="52.0" y="148" width="513.0" height="4" fill="url(#w42)"/><rect x="52.0" y="151" width="513.0" height="4" fill="url(#w43)"/><rect x="52.0" y="154" width="513.0" height="4" fill="url(#w44)"/><rect x="52.0" y="157" width="513.0" height="4" fill="url(#w45)"/><rect x="52.0" y="160" width="513.0" height="4" fill="url(#w46)"/><rect x="52.0" y="163" width="513.0" height="4" fill="url(#w47)"/><rect x="52.0" y="166" width="513.0" height="4" fill="url(#w48)"/><rect x="52.0" y="169" width="513.0" height="4" fill="url(#w49)"/><rect x="52.0" y="172" width="513.0" height="4" fill="url(#w50)"/><rect x="52.0" y="175" width="513.0" height="4" fill="url(#w51)"/><rect x="52.0" y="178" width="513.0" height="4" fill="url(#w52)"/><rect x="52.0" y="181" width="513.0" height="4" fill="url(#w53)"/><rect x="52.0" y="184" width="513.0" height="4" fill="url(#w54)"/><rect x="52.0" y="187" width="513.0" height="4" fill="url(#w55)"/><rect x="52.0" y="190" width="513.0" height="4" fill="url(#w56)"/><rect x="52.0" y="193" width="513.0" height="4" fill="url(#w57)"/><rect x="52.0" y="196" width="513.0" height="4" fill="url(#w58)"/><rect x="52.0" y="199" width="513.0" height="4" fill="url(#w59)"/><rect x="52.0" y="202" width="513.0" height="4" fill="url(#w60)"/><rect x="52.0" y="205" width="513.0" height="4" fill="url(#w61)"/><rect x="52.0" y="208" width="513.0" height="4" fill="url(#w62)"/><rect x="52.0" y="211" width="513.0" height="4" fill="url(#w63)"/><rect x="52.0" y="214" width="513.0" height="4" fill="url(#w64)"/><rect x="52.0" y="217" width="513.0" height="4" fill="url(#w65)"/><rect x="52.0" y="220" width="513.0" height="4" fill="url(#w66)"/><rect x="52.0" y="223" width="513.0" height="4" fill="url(#w67)"/><rect x="52.0" y="226" width="513.0" height="4" fill="url(#w68)"/><rect x="52.0" y="229" width="513.0" height="4" fill="url(#w69)"/><rect x="52.0" y="232" width="513.0" height="4" fill="url(#w70)"/><rect x="52.0" y="235" width="513.0" height="4" fill="url(#w71)"/><rect x="52.0" y="238" width="513.0" height="4" fill="url(#w72)"/><rect x="52.0" y="241" width="513.0" height="4" fill="url(#w73)"/><rect x="52.0" y="244" width="513.0" height="4" fill="url(#w74)"/><rect x="52.0" y="247" width="513.0" height="4" fill="url(#w75)"/><rect x="52.0" y="250" width="513.0" height="4" fill="url(#w76)"/><rect x="52.0" y="253" width="513.0" height="4" fill="url(#w77)"/><rect x="52.0" y="256" width="513.0" height="4" fill="url(#w78)"/><rect x="52.0" y="259" width="513.0" height="4" fill="url(#w79)"/><rect x="52.0" y="262" width="513.0" height="4" fill="url(#w80)"/><rect x="52.0" y="265" width="513.0" height="4" fill="url(#w81)"/><rect x="52.0" y="268" width="513.0" height="4" fill="url(#w82)"/><rect x="52.0" y="271" width="513.0" height="4" fill="url(#w83)"/><rect x="52.0" y="274" width="513.0" height="4" fill="url(#w84)"/><rect x="52.0" y="277" width="513.0" height="4" fill="url(#w85)"/><rect x="52.0" y="280" width="513.0" height="4" fill="url(#w86)"/><rect x="52.0" y="283" width="513.0" height="4" fill="url(#w87)"/><rect x="52.0" y="286" width="513.0" height="4" fill="url(#w88)"/><rect x="52.0" y="289" width="513.0" height="4" fill="url(#w89)"/><rect x="52.0" y="292" width="513.0" height="4" fill="url(#w90)"/><rect x="52.0" y="295" width="513.0" height="4" fill="url(#w91)"/><rect x="52.0" y="298" width="513.0" height="4" fill="url(#w92)"/><rect x="52.0" y="301" width="513.0" height="4" fill="url(#w93)"/><rect x="52.0" y="304" width="513.0" height="4" fill="url(#w94)"/><rect x="52.0" y="307" width="513.0" height="4" fill="url(#w95)"/><rect x="52.0" y="310" width="513.0" height="4" fill="url(#w96)"/><rect x="52.0" y="313" width="513.0" height="4" fill="url(#w97)"/><rect x="52.0" y="316" width="513.0" height="4" fill="url(#w98)"/><rect x="52.0" y="319" width="513.0" height="4" fill="url(#w99)"/><rect x="52.0" y="322" width="513.0" height="4" fill="url(#w100)"/><rect x="52.0" y="325" width="513.0" height="4" fill="url(#w101)"/><rect x="52.0" y="328" width="513.0" height="4" fill="url(#w102)"/><rect x="52.0" y="331" width="513.0" height="4" fill="url(#w103)"/><rect x="52.0" y="334" width="513.0" height="4" fill="url(#w104)"/><rect x="52.0" y="337" width="513.0" height="4" fill="url(#w105)"/><rect x="52.0" y="340" width="513.0" height="4" fill="url(#w106)"/><rect x="52.0" y="343" width="513.0" height="4" fill="url(#w107)"/><rect x="52.0" y="346" width="513.0" height="4" fill="url(#w108)"/><rect x="52.0" y="349" width="513.0" height="4" fill="url(#w109)"/><rect x="52.0" y="352" width="513.0" height="4" fill="url(#w110)"/><rect x="52.0" y="355" width="513.0" height="4" fill="url(#w111)"/><rect x="52.0" y="358" width="513.0" height="4" fill="url(#w112)"/><rect x="52.0" y="361" width="513.0" height="4" fill="url(#w113)"/><rect x="52.0" y="364" width="513.0" height="4" fill="url(#w114)"/><rect x="52.0" y="367" width="513.0" height="4" fill="url(#w115)"/><rect x="52.0" y="370" width="513.0" height="4" fill="url(#w116)"/><rect x="52.0" y="373" width="513.0" height="4" fill="url(#w117)"/><rect x="52.0" y="376" width="513.0" height="4" fill="url(#w118)"/><rect x="52.0" y="379" width="513.0" height="4" fill="url(#w119)"/><rect x="52.0" y="382" width="513.0" height="4" fill="url(#w120)"/><rect x="52.0" y="385" width="513.0" height="4" fill="url(#w121)"/><rect x="52.0" y="388" width="513.0" height="4" fill="url(#w122)"/><rect x="52.0" y="391" width="513.0" height="4" fill="url(#w123)"/><rect x="52.0" y="394" width="513.0" height="4" fill="url(#w124)"/><rect x="52.0" y="397" width="513.0" height="4" fill="url(#w125)"/><rect x="52.0" y="400" width="513.0" height="4" fill="url(#w126)"/><rect x="52.0" y="403" width="513.0" height="4" fill="url(#w127)"/><rect x="52.0" y="406" width="513.0" height="4" fill="url(#w128)"/><rect x="52.0" y="409" width="513.0" height="4" fill="url(#w129)"/><rect x="52.0" y="412" width="513.0" height="4" fill="url(#w130)"/><rect x="52.0" y="415" width="513.0" height="4" fill="url(#w131)"/><rect x="52.0" y="418" width="513.0" height="4" fill="url(#w132)"/><rect x="52.0" y="421" width="513.0" height="4" fill="url(#w133)"/></g>
<defs><clipPath id="dk"><polygon points="256.5,102.0 266.6,99.7 282.6,95.5 295.4,90.2 303.9,83.8 308.2,77.0 312.0,76.5 319.2,84.6 326.6,94.4 329.0,126.3 326.6,146.0 329.0,160.7 334.0,169.0 340.0,173.5 350.0,175.0 361.3,176.7 372.0,180.0 382.6,186.2 391.0,194.0 396.0,203.0 399.5,211.9 403.5,222.4 404.8,238.8 408.5,242.0 411.0,245.5 406.0,249.0 401.0,252.8 394.3,252.8 385.2,247.8 377.5,244.8 370.0,243.3 362.2,245.3 348.8,247.2 330.0,252.2 314.8,253.7 307.3,256.0 296.9,259.7 289.4,261.2 290.2,250.7 290.9,237.3 290.2,222.4 287.9,213.4 283.4,200.0 282.9,192.6 281.3,182.0 277.1,170.2 275.5,162.8 273.9,150.0 272.3,144.7 269.3,132.8 266.4,125.3 261.9,117.8 257.4,111.9 256.0,106.0"/></clipPath><linearGradient id="sw" gradientUnits="userSpaceOnUse" x1="328.5" y1="215.5" x2="318" y2="238"><stop offset="0" stop-color="#7fb200" stop-opacity="0"/><stop offset="0.6" stop-color="#7fb200" stop-opacity="0.7"/><stop offset="1" stop-color="#7fb200" stop-opacity="1"/></linearGradient><radialGradient id="ne" cx="0.5" cy="0.5" r="0.5"><stop offset="0" stop-color="#7fb200" stop-opacity="0.8"/><stop offset="0.5" stop-color="#7fb200" stop-opacity="0.45"/><stop offset="1" stop-color="#7fb200" stop-opacity="0"/></radialGradient></defs>
<polygon points="207.0,25.0 378.0,25.0 378.0,34.0 372.0,40.0 366.2,41.0 365.2,45.0 360.9,49.3 356.6,55.7 355.0,63.2 352.4,72.7 349.0,84.3 344.2,90.0 344.3,103.5 352.8,105.7 359.2,107.8 367.7,115.3 375.2,122.7 378.4,130.2 381.0,143.0 385.0,156.4 387.9,171.7 388.9,185.0 392.0,192.0 396.1,200.0 401.3,211.9 405.8,222.4 406.6,238.8 410.3,240.3 413.3,242.5 414.5,245.5 411.0,249.5 405.0,252.5 399.0,254.5 393.9,254.5 384.9,249.3 377.5,246.3 370.0,244.8 362.2,246.8 348.8,248.7 330.0,253.7 314.8,255.2 307.3,257.5 296.9,261.2 287.9,262.7 288.7,250.7 289.4,237.3 288.7,222.4 286.4,213.4 281.9,200.0 281.4,192.6 279.8,182.0 275.6,170.2 274.0,162.8 272.4,150.0 270.8,144.7 267.8,132.8 264.9,125.3 260.4,117.8 255.9,111.9 252.2,108.9 254.4,96.9 253.9,93.4 255.7,88.0 255.7,81.7 259.5,79.2 257.0,72.8 250.6,68.9 244.2,62.5 239.0,53.6 235.2,42.0 231.4,36.3 225.0,35.7 219.0,33.0 213.0,29.0 210.0,29.0" fill="#7fb200"/>
<polyline points="209.0,27.0 196.5,43.0 175.0,67.0 164.0,80.0 144.0,107.0" fill="none" stroke="#7fb200" stroke-width="4.8" stroke-linejoin="round"/>
<polygon points="124.9,104.1 149.0,104.5 156.0,103.0 157.0,107.5 160.1,105.2 163.6,105.2 163.6,107.6 157.8,113.4 149.5,127.5 144.9,136.9 135.5,137.5 130.8,133.4 122.6,131.0 115.6,125.2 115.6,119.3 121.4,109.9" fill="#7fb200"/>
<polyline points="256.0,98.0 235.0,119.5 212.0,142.5 200.0,154.5 193.0,164.5" fill="none" stroke="#7fb200" stroke-width="2.9" stroke-linecap="round" stroke-linejoin="round"/>
<ellipse cx="203" cy="152" rx="10.5" ry="5" transform="rotate(-44 203 152)" fill="#7fb200"/>
<polygon points="237.5,37.0 244.2,43.3 250.6,51.0 259.5,58.7 261.4,68.9 261.8,80.5 259.8,71.8 251.6,65.4 244.0,58.5 240.6,49.7 237.5,39.0" fill="#80dde6"/>
<rect x="263.5" y="30.5" width="11.5" height="2.6" fill="#1ae6ee"/>
<polyline points="245,47 256,57 260,66 261,78" fill="none" stroke="#7ab4bc" stroke-width="1.2"/>
<path d="M281 72 Q284 62 293 58" fill="none" stroke="#6e9e14" stroke-width="3"/>
<polygon points="278.0,29.0 296.5,29.0 296.5,49.0 278.0,49.0" fill="#69979c"/>
<polygon points="296.5,29.0 350.0,29.0 362.0,40.0 358.5,54.7 354.2,63.2 351.0,72.8 349.0,84.0 345.0,92.0 340.0,86.0 336.0,78.0 328.7,78.0 327.0,72.0 320.0,71.7 299.9,71.7 298.3,64.2 297.7,49.0" fill="#6e9ca2"/>
<path fill="#7a969c" d="M296 29h2v2h-2zM314 29h2v2h-2zM322 29h2v2h-2zM324 29h2v2h-2zM326 29h2v2h-2zM332 29h2v2h-2zM340 29h2v2h-2zM346 29h2v2h-2zM348 29h2v2h-2zM296 31h2v2h-2zM298 31h2v2h-2zM300 31h2v2h-2zM324 31h2v2h-2zM328 31h2v2h-2zM334 31h2v2h-2zM336 31h2v2h-2zM342 31h2v2h-2zM300 33h2v2h-2zM302 33h2v2h-2zM304 33h2v2h-2zM328 33h2v2h-2zM338 33h2v2h-2zM346 33h2v2h-2zM352 33h2v2h-2zM354 33h2v2h-2zM306 35h2v2h-2zM308 35h2v2h-2zM324 35h2v2h-2zM328 35h2v2h-2zM334 35h2v2h-2zM340 35h2v2h-2zM302 37h2v2h-2zM306 37h2v2h-2zM322 37h2v2h-2zM330 37h2v2h-2zM334 37h2v2h-2zM336 37h2v2h-2zM342 37h2v2h-2zM356 37h2v2h-2zM304 39h2v2h-2zM324 39h2v2h-2zM326 39h2v2h-2zM328 39h2v2h-2zM330 39h2v2h-2zM336 39h2v2h-2zM338 39h2v2h-2zM340 39h2v2h-2zM362 39h2v2h-2zM310 41h2v2h-2zM314 41h2v2h-2zM326 41h2v2h-2zM330 41h2v2h-2zM332 41h2v2h-2zM336 41h2v2h-2zM354 41h2v2h-2zM306 43h2v2h-2zM308 43h2v2h-2zM310 43h2v2h-2zM314 43h2v2h-2zM316 43h2v2h-2zM334 43h2v2h-2zM338 43h2v2h-2zM346 43h2v2h-2zM348 43h2v2h-2zM356 43h2v2h-2zM298 45h2v2h-2zM306 45h2v2h-2zM312 45h2v2h-2zM336 45h2v2h-2zM298 47h2v2h-2zM306 47h2v2h-2zM318 47h2v2h-2zM332 47h2v2h-2zM342 47h2v2h-2zM352 47h2v2h-2zM356 47h2v2h-2zM328 49h2v2h-2zM330 49h2v2h-2zM344 49h2v2h-2zM354 49h2v2h-2zM310 51h2v2h-2zM318 51h2v2h-2zM326 51h2v2h-2zM330 51h2v2h-2zM332 51h2v2h-2zM334 51h2v2h-2zM358 51h2v2h-2zM296 53h2v2h-2zM304 53h2v2h-2zM310 53h2v2h-2zM338 53h2v2h-2zM346 53h2v2h-2zM352 53h2v2h-2zM300 55h2v2h-2zM318 55h2v2h-2zM330 55h2v2h-2zM336 55h2v2h-2zM342 55h2v2h-2zM344 55h2v2h-2zM350 55h2v2h-2zM352 55h2v2h-2zM354 55h2v2h-2zM298 57h2v2h-2zM308 57h2v2h-2zM314 57h2v2h-2zM318 57h2v2h-2zM320 57h2v2h-2zM326 57h2v2h-2zM330 57h2v2h-2zM338 57h2v2h-2zM342 57h2v2h-2zM354 57h2v2h-2zM306 59h2v2h-2zM308 59h2v2h-2zM310 59h2v2h-2zM314 59h2v2h-2zM330 59h2v2h-2zM334 59h2v2h-2zM346 59h2v2h-2zM298 61h2v2h-2zM308 61h2v2h-2zM312 61h2v2h-2zM316 61h2v2h-2zM332 61h2v2h-2zM340 61h2v2h-2zM344 61h2v2h-2zM348 61h2v2h-2zM350 61h2v2h-2zM352 61h2v2h-2zM324 63h2v2h-2zM328 63h2v2h-2zM330 63h2v2h-2zM342 63h2v2h-2zM348 63h2v2h-2zM310 65h2v2h-2zM314 65h2v2h-2zM324 65h2v2h-2zM342 65h2v2h-2zM344 65h2v2h-2zM310 67h2v2h-2zM312 67h2v2h-2zM316 67h2v2h-2zM320 67h2v2h-2zM324 67h2v2h-2zM348 67h2v2h-2zM336 69h2v2h-2zM340 69h2v2h-2zM350 69h2v2h-2zM328 71h2v2h-2zM330 71h2v2h-2zM338 71h2v2h-2zM336 73h2v2h-2zM340 73h2v2h-2zM332 75h2v2h-2zM342 75h2v2h-2zM344 75h2v2h-2zM330 77h2v2h-2zM336 77h2v2h-2zM344 77h2v2h-2zM342 79h2v2h-2zM344 79h2v2h-2zM346 81h2v2h-2zM338 83h2v2h-2zM340 83h2v2h-2zM344 83h2v2h-2zM348 83h2v2h-2zM342 85h2v2h-2zM346 85h2v2h-2zM342 87h2v2h-2zM346 87h2v2h-2zM344 91h2v2h-2z"/><path fill="#8a8a92" d="M298 29h2v2h-2zM328 29h2v2h-2zM334 29h2v2h-2zM350 29h2v2h-2zM298 33h2v2h-2zM318 33h2v2h-2zM334 33h2v2h-2zM336 33h2v2h-2zM344 33h2v2h-2zM322 35h2v2h-2zM344 35h2v2h-2zM348 35h2v2h-2zM320 37h2v2h-2zM328 37h2v2h-2zM332 37h2v2h-2zM338 37h2v2h-2zM350 37h2v2h-2zM358 37h2v2h-2zM306 39h2v2h-2zM318 39h2v2h-2zM334 39h2v2h-2zM356 39h2v2h-2zM296 41h2v2h-2zM324 41h2v2h-2zM342 41h2v2h-2zM328 43h2v2h-2zM340 43h2v2h-2zM328 45h2v2h-2zM310 47h2v2h-2zM322 47h2v2h-2zM324 47h2v2h-2zM300 49h2v2h-2zM308 49h2v2h-2zM316 49h2v2h-2zM322 49h2v2h-2zM336 49h2v2h-2zM358 49h2v2h-2zM298 51h2v2h-2zM348 51h2v2h-2zM350 51h2v2h-2zM354 51h2v2h-2zM298 53h2v2h-2zM336 53h2v2h-2zM342 53h2v2h-2zM350 53h2v2h-2zM302 55h2v2h-2zM328 55h2v2h-2zM346 55h2v2h-2zM326 59h2v2h-2zM336 59h2v2h-2zM338 59h2v2h-2zM300 63h2v2h-2zM326 63h2v2h-2zM302 65h2v2h-2zM334 65h2v2h-2zM336 65h2v2h-2zM350 65h2v2h-2zM306 67h2v2h-2zM308 67h2v2h-2zM318 67h2v2h-2zM350 67h2v2h-2zM300 69h2v2h-2zM324 69h2v2h-2zM326 73h2v2h-2zM338 75h2v2h-2zM346 79h2v2h-2zM348 81h2v2h-2z"/><path fill="#64a4aa" d="M300 29h2v2h-2zM306 29h2v2h-2zM310 29h2v2h-2zM312 29h2v2h-2zM330 29h2v2h-2zM308 31h2v2h-2zM316 31h2v2h-2zM322 31h2v2h-2zM326 31h2v2h-2zM330 31h2v2h-2zM338 31h2v2h-2zM352 31h2v2h-2zM306 33h2v2h-2zM322 33h2v2h-2zM326 33h2v2h-2zM332 33h2v2h-2zM350 33h2v2h-2zM304 35h2v2h-2zM312 35h2v2h-2zM330 35h2v2h-2zM336 35h2v2h-2zM342 35h2v2h-2zM352 35h2v2h-2zM354 35h2v2h-2zM298 37h2v2h-2zM304 37h2v2h-2zM308 37h2v2h-2zM340 37h2v2h-2zM346 37h2v2h-2zM298 39h2v2h-2zM300 39h2v2h-2zM302 39h2v2h-2zM320 39h2v2h-2zM348 39h2v2h-2zM350 39h2v2h-2zM352 39h2v2h-2zM358 39h2v2h-2zM360 39h2v2h-2zM318 41h2v2h-2zM328 41h2v2h-2zM340 41h2v2h-2zM344 41h2v2h-2zM356 41h2v2h-2zM360 41h2v2h-2zM296 43h2v2h-2zM300 43h2v2h-2zM302 43h2v2h-2zM318 43h2v2h-2zM320 43h2v2h-2zM324 43h2v2h-2zM326 43h2v2h-2zM358 43h2v2h-2zM310 45h2v2h-2zM318 45h2v2h-2zM334 45h2v2h-2zM342 45h2v2h-2zM346 45h2v2h-2zM350 45h2v2h-2zM352 45h2v2h-2zM354 45h2v2h-2zM356 45h2v2h-2zM300 47h2v2h-2zM308 47h2v2h-2zM316 47h2v2h-2zM320 47h2v2h-2zM326 47h2v2h-2zM328 47h2v2h-2zM336 47h2v2h-2zM338 47h2v2h-2zM340 47h2v2h-2zM350 47h2v2h-2zM358 47h2v2h-2zM298 49h2v2h-2zM306 49h2v2h-2zM312 49h2v2h-2zM314 49h2v2h-2zM332 49h2v2h-2zM340 49h2v2h-2zM352 49h2v2h-2zM296 51h2v2h-2zM316 51h2v2h-2zM322 51h2v2h-2zM338 51h2v2h-2zM340 51h2v2h-2zM312 53h2v2h-2zM314 53h2v2h-2zM316 53h2v2h-2zM318 53h2v2h-2zM320 53h2v2h-2zM322 53h2v2h-2zM324 53h2v2h-2zM326 53h2v2h-2zM332 53h2v2h-2zM354 53h2v2h-2zM296 55h2v2h-2zM298 55h2v2h-2zM308 55h2v2h-2zM310 55h2v2h-2zM314 55h2v2h-2zM320 55h2v2h-2zM324 55h2v2h-2zM334 55h2v2h-2zM338 55h2v2h-2zM304 57h2v2h-2zM310 57h2v2h-2zM312 57h2v2h-2zM316 57h2v2h-2zM322 57h2v2h-2zM324 57h2v2h-2zM334 57h2v2h-2zM340 57h2v2h-2zM346 57h2v2h-2zM350 57h2v2h-2zM352 57h2v2h-2zM298 59h2v2h-2zM304 59h2v2h-2zM312 59h2v2h-2zM344 59h2v2h-2zM348 59h2v2h-2zM352 59h2v2h-2zM304 61h2v2h-2zM306 61h2v2h-2zM310 61h2v2h-2zM322 61h2v2h-2zM324 61h2v2h-2zM328 61h2v2h-2zM330 61h2v2h-2zM336 61h2v2h-2zM312 63h2v2h-2zM314 63h2v2h-2zM322 63h2v2h-2zM332 63h2v2h-2zM334 63h2v2h-2zM320 65h2v2h-2zM330 65h2v2h-2zM338 65h2v2h-2zM346 65h2v2h-2zM352 65h2v2h-2zM304 67h2v2h-2zM314 67h2v2h-2zM328 67h2v2h-2zM330 67h2v2h-2zM334 67h2v2h-2zM336 67h2v2h-2zM302 69h2v2h-2zM304 69h2v2h-2zM310 69h2v2h-2zM316 69h2v2h-2zM318 69h2v2h-2zM328 69h2v2h-2zM332 69h2v2h-2zM342 69h2v2h-2zM348 69h2v2h-2zM332 71h2v2h-2zM336 71h2v2h-2zM340 71h2v2h-2zM344 71h2v2h-2zM346 71h2v2h-2zM328 73h2v2h-2zM332 73h2v2h-2zM338 73h2v2h-2zM336 75h2v2h-2zM328 77h2v2h-2zM332 77h2v2h-2zM338 77h2v2h-2zM340 77h2v2h-2zM348 77h2v2h-2zM340 79h2v2h-2zM346 83h2v2h-2zM340 85h2v2h-2zM342 89h2v2h-2z"/><path fill="#6e9ca2" d="M302 29h2v2h-2zM304 29h2v2h-2zM308 29h2v2h-2zM316 29h2v2h-2zM318 29h2v2h-2zM320 29h2v2h-2zM336 29h2v2h-2zM338 29h2v2h-2zM342 29h2v2h-2zM344 29h2v2h-2zM302 31h2v2h-2zM304 31h2v2h-2zM306 31h2v2h-2zM310 31h2v2h-2zM312 31h2v2h-2zM314 31h2v2h-2zM318 31h2v2h-2zM320 31h2v2h-2zM332 31h2v2h-2zM340 31h2v2h-2zM344 31h2v2h-2zM346 31h2v2h-2zM348 31h2v2h-2zM350 31h2v2h-2zM296 33h2v2h-2zM308 33h2v2h-2zM310 33h2v2h-2zM312 33h2v2h-2zM314 33h2v2h-2zM316 33h2v2h-2zM320 33h2v2h-2zM324 33h2v2h-2zM330 33h2v2h-2zM340 33h2v2h-2zM342 33h2v2h-2zM348 33h2v2h-2zM296 35h2v2h-2zM298 35h2v2h-2zM300 35h2v2h-2zM302 35h2v2h-2zM310 35h2v2h-2zM314 35h2v2h-2zM316 35h2v2h-2zM318 35h2v2h-2zM320 35h2v2h-2zM326 35h2v2h-2zM332 35h2v2h-2zM338 35h2v2h-2zM346 35h2v2h-2zM350 35h2v2h-2zM356 35h2v2h-2zM296 37h2v2h-2zM300 37h2v2h-2zM310 37h2v2h-2zM312 37h2v2h-2zM314 37h2v2h-2zM316 37h2v2h-2zM318 37h2v2h-2zM324 37h2v2h-2zM326 37h2v2h-2zM344 37h2v2h-2zM348 37h2v2h-2zM352 37h2v2h-2zM354 37h2v2h-2zM296 39h2v2h-2zM308 39h2v2h-2zM310 39h2v2h-2zM312 39h2v2h-2zM314 39h2v2h-2zM316 39h2v2h-2zM322 39h2v2h-2zM332 39h2v2h-2zM342 39h2v2h-2zM344 39h2v2h-2zM346 39h2v2h-2zM354 39h2v2h-2zM298 41h2v2h-2zM300 41h2v2h-2zM302 41h2v2h-2zM304 41h2v2h-2zM306 41h2v2h-2zM308 41h2v2h-2zM312 41h2v2h-2zM316 41h2v2h-2zM320 41h2v2h-2zM322 41h2v2h-2zM334 41h2v2h-2zM338 41h2v2h-2zM346 41h2v2h-2zM348 41h2v2h-2zM350 41h2v2h-2zM352 41h2v2h-2zM358 41h2v2h-2zM298 43h2v2h-2zM304 43h2v2h-2zM312 43h2v2h-2zM322 43h2v2h-2zM330 43h2v2h-2zM332 43h2v2h-2zM336 43h2v2h-2zM342 43h2v2h-2zM344 43h2v2h-2zM350 43h2v2h-2zM352 43h2v2h-2zM354 43h2v2h-2zM360 43h2v2h-2zM296 45h2v2h-2zM300 45h2v2h-2zM302 45h2v2h-2zM304 45h2v2h-2zM308 45h2v2h-2zM314 45h2v2h-2zM316 45h2v2h-2zM320 45h2v2h-2zM322 45h2v2h-2zM324 45h2v2h-2zM326 45h2v2h-2zM330 45h2v2h-2zM332 45h2v2h-2zM338 45h2v2h-2zM340 45h2v2h-2zM344 45h2v2h-2zM348 45h2v2h-2zM358 45h2v2h-2zM296 47h2v2h-2zM302 47h2v2h-2zM304 47h2v2h-2zM312 47h2v2h-2zM314 47h2v2h-2zM330 47h2v2h-2zM334 47h2v2h-2zM344 47h2v2h-2zM346 47h2v2h-2zM348 47h2v2h-2zM354 47h2v2h-2zM296 49h2v2h-2zM302 49h2v2h-2zM304 49h2v2h-2zM310 49h2v2h-2zM318 49h2v2h-2zM320 49h2v2h-2zM324 49h2v2h-2zM326 49h2v2h-2zM334 49h2v2h-2zM338 49h2v2h-2zM342 49h2v2h-2zM346 49h2v2h-2zM348 49h2v2h-2zM350 49h2v2h-2zM356 49h2v2h-2zM300 51h2v2h-2zM302 51h2v2h-2zM304 51h2v2h-2zM306 51h2v2h-2zM308 51h2v2h-2zM312 51h2v2h-2zM314 51h2v2h-2zM320 51h2v2h-2zM324 51h2v2h-2zM328 51h2v2h-2zM336 51h2v2h-2zM342 51h2v2h-2zM344 51h2v2h-2zM346 51h2v2h-2zM352 51h2v2h-2zM356 51h2v2h-2zM300 53h2v2h-2zM302 53h2v2h-2zM306 53h2v2h-2zM308 53h2v2h-2zM328 53h2v2h-2zM330 53h2v2h-2zM334 53h2v2h-2zM340 53h2v2h-2zM344 53h2v2h-2zM348 53h2v2h-2zM356 53h2v2h-2zM304 55h2v2h-2zM306 55h2v2h-2zM312 55h2v2h-2zM316 55h2v2h-2zM322 55h2v2h-2zM326 55h2v2h-2zM332 55h2v2h-2zM340 55h2v2h-2zM348 55h2v2h-2zM356 55h2v2h-2zM300 57h2v2h-2zM302 57h2v2h-2zM306 57h2v2h-2zM328 57h2v2h-2zM332 57h2v2h-2zM336 57h2v2h-2zM344 57h2v2h-2zM348 57h2v2h-2zM300 59h2v2h-2zM302 59h2v2h-2zM316 59h2v2h-2zM318 59h2v2h-2zM320 59h2v2h-2zM322 59h2v2h-2zM324 59h2v2h-2zM328 59h2v2h-2zM332 59h2v2h-2zM340 59h2v2h-2zM342 59h2v2h-2zM350 59h2v2h-2zM354 59h2v2h-2zM300 61h2v2h-2zM302 61h2v2h-2zM314 61h2v2h-2zM318 61h2v2h-2zM320 61h2v2h-2zM326 61h2v2h-2zM334 61h2v2h-2zM338 61h2v2h-2zM342 61h2v2h-2zM346 61h2v2h-2zM298 63h2v2h-2zM302 63h2v2h-2zM304 63h2v2h-2zM306 63h2v2h-2zM308 63h2v2h-2zM310 63h2v2h-2zM316 63h2v2h-2zM318 63h2v2h-2zM320 63h2v2h-2zM336 63h2v2h-2zM338 63h2v2h-2zM340 63h2v2h-2zM344 63h2v2h-2zM346 63h2v2h-2zM350 63h2v2h-2zM352 63h2v2h-2zM298 65h2v2h-2zM300 65h2v2h-2zM304 65h2v2h-2zM306 65h2v2h-2zM308 65h2v2h-2zM312 65h2v2h-2zM316 65h2v2h-2zM318 65h2v2h-2zM322 65h2v2h-2zM326 65h2v2h-2zM328 65h2v2h-2zM332 65h2v2h-2zM340 65h2v2h-2zM348 65h2v2h-2zM298 67h2v2h-2zM300 67h2v2h-2zM302 67h2v2h-2zM322 67h2v2h-2zM326 67h2v2h-2zM332 67h2v2h-2zM338 67h2v2h-2zM340 67h2v2h-2zM342 67h2v2h-2zM344 67h2v2h-2zM346 67h2v2h-2zM298 69h2v2h-2zM306 69h2v2h-2zM308 69h2v2h-2zM312 69h2v2h-2zM314 69h2v2h-2zM320 69h2v2h-2zM322 69h2v2h-2zM326 69h2v2h-2zM330 69h2v2h-2zM334 69h2v2h-2zM338 69h2v2h-2zM344 69h2v2h-2zM346 69h2v2h-2zM326 71h2v2h-2zM334 71h2v2h-2zM342 71h2v2h-2zM348 71h2v2h-2zM350 71h2v2h-2zM330 73h2v2h-2zM334 73h2v2h-2zM342 73h2v2h-2zM344 73h2v2h-2zM346 73h2v2h-2zM348 73h2v2h-2zM350 73h2v2h-2zM328 75h2v2h-2zM330 75h2v2h-2zM334 75h2v2h-2zM340 75h2v2h-2zM346 75h2v2h-2zM348 75h2v2h-2zM334 77h2v2h-2zM342 77h2v2h-2zM346 77h2v2h-2zM336 79h2v2h-2zM338 79h2v2h-2zM348 79h2v2h-2zM338 81h2v2h-2zM340 81h2v2h-2zM342 81h2v2h-2zM344 81h2v2h-2zM342 83h2v2h-2zM344 85h2v2h-2zM344 87h2v2h-2zM344 89h2v2h-2z"/>
<polygon points="345.0,29.0 378.0,29.0 378.0,34.0 368.0,40.8 362.8,47.2 358.5,54.7 355.0,62.0 350.0,56.0 352.0,45.0 348.0,36.0" fill="#a8787e"/>
<polygon points="322.0,45.0 345.0,36.0 353.0,46.0 350.0,58.0 332.0,58.0 320.0,54.0" fill="#8c868c"/>
<polygon points="300.0,62.0 318.0,52.0 319.0,71.5 300.0,71.5" fill="#848a92"/>
<polygon points="327.6,56.8 350.0,56.0 351.0,72.8 349.0,84.0 345.0,92.0 341.0,84.0 335.0,70.0 328.0,70.0" fill="#5cbcc8"/>
<polygon points="302.0,33.0 312.0,33.0 312.0,40.0 302.0,40.0" fill="#3cd0da"/>
<polygon points="316.0,40.0 328.0,40.0 328.0,46.0 316.0,46.0" fill="#3cd0da"/>
<polygon points="331.0,52.0 342.0,52.0 342.0,57.0 331.0,57.0" fill="#3cd0da"/>
<polygon points="318.0,62.0 328.7,62.0 328.7,78.0 318.0,78.0" fill="#7fb200"/>
<polygon points="336.0,68.5 344.7,68.5 344.7,80.0 336.0,80.0" fill="#7fb200"/>
<polygon points="305.0,35.0 310.0,34.0 311.0,39.0 306.0,40.0" fill="#7fb200"/>
<polygon points="330.0,42.0 335.0,42.0 335.0,47.0 330.0,47.0" fill="#7fb200"/>
<polyline points="340.0,29.0 330.0,38.0 318.0,49.3 312.0,56.0" fill="none" stroke="#7fb200" stroke-width="3.5"/>
<polyline points="299.0,66.0 310.0,60.0 320.0,53.0" fill="none" stroke="#22e4ec" stroke-width="1.6"/>
<polyline points="342.0,52.0 353.0,44.0" fill="none" stroke="#22e4ec" stroke-width="1.6"/>
<polyline points="351.0,72.0 345.0,88.0" fill="none" stroke="#22e4ec" stroke-width="1.6"/>
<path fill="#7fb200" d="M332 99h2v2h-2zM336 101h2v2h-2zM338 101h2v2h-2zM340 101h2v2h-2zM332 103h2v2h-2zM336 105h2v2h-2zM344 105h2v2h-2zM346 105h2v2h-2zM348 105h2v2h-2zM338 107h2v2h-2zM342 107h2v2h-2zM346 107h2v2h-2zM354 107h2v2h-2zM330 109h2v2h-2zM332 109h2v2h-2zM346 109h2v2h-2zM350 109h2v2h-2zM328 111h2v2h-2zM334 111h2v2h-2zM344 111h2v2h-2zM352 111h2v2h-2zM358 111h2v2h-2zM328 113h2v2h-2zM334 113h2v2h-2zM352 113h2v2h-2zM356 113h2v2h-2zM358 113h2v2h-2zM360 113h2v2h-2zM328 115h2v2h-2zM330 115h2v2h-2zM336 115h2v2h-2zM340 115h2v2h-2zM348 115h2v2h-2zM362 115h2v2h-2zM328 117h2v2h-2zM330 117h2v2h-2zM340 117h2v2h-2zM342 117h2v2h-2zM344 117h2v2h-2zM346 117h2v2h-2zM356 117h2v2h-2zM362 117h2v2h-2zM330 119h2v2h-2zM332 119h2v2h-2zM336 119h2v2h-2zM342 119h2v2h-2zM348 119h2v2h-2zM350 119h2v2h-2zM354 119h2v2h-2zM330 121h2v2h-2zM338 121h2v2h-2zM340 121h2v2h-2zM342 121h2v2h-2zM352 121h2v2h-2zM328 123h2v2h-2zM338 123h2v2h-2zM352 123h2v2h-2zM366 123h2v2h-2zM368 123h2v2h-2zM370 123h2v2h-2zM328 125h2v2h-2zM334 125h2v2h-2zM338 125h2v2h-2zM340 125h2v2h-2zM342 125h2v2h-2zM352 125h2v2h-2zM354 125h2v2h-2zM356 125h2v2h-2zM358 125h2v2h-2zM332 127h2v2h-2zM340 127h2v2h-2zM342 127h2v2h-2zM354 127h2v2h-2zM362 127h2v2h-2zM366 127h2v2h-2zM368 127h2v2h-2zM334 129h2v2h-2zM336 129h2v2h-2zM338 129h2v2h-2zM340 129h2v2h-2zM344 129h2v2h-2zM348 129h2v2h-2zM352 129h2v2h-2zM356 129h2v2h-2zM362 129h2v2h-2zM370 129h2v2h-2zM326 131h2v2h-2zM330 131h2v2h-2zM338 131h2v2h-2zM340 131h2v2h-2zM346 131h2v2h-2zM350 131h2v2h-2zM354 131h2v2h-2zM360 131h2v2h-2zM362 131h2v2h-2zM372 131h2v2h-2zM328 133h2v2h-2zM336 133h2v2h-2zM348 133h2v2h-2zM350 133h2v2h-2zM354 133h2v2h-2zM362 133h2v2h-2zM328 135h2v2h-2zM336 135h2v2h-2zM342 135h2v2h-2zM348 135h2v2h-2zM356 135h2v2h-2zM360 135h2v2h-2zM334 137h2v2h-2zM336 137h2v2h-2zM342 137h2v2h-2zM344 137h2v2h-2zM346 137h2v2h-2zM350 137h2v2h-2zM352 137h2v2h-2zM360 137h2v2h-2zM364 137h2v2h-2zM366 137h2v2h-2zM368 137h2v2h-2zM326 139h2v2h-2zM332 139h2v2h-2zM336 139h2v2h-2zM338 139h2v2h-2zM340 139h2v2h-2zM344 139h2v2h-2zM346 139h2v2h-2zM354 139h2v2h-2zM366 139h2v2h-2zM370 139h2v2h-2zM326 141h2v2h-2zM334 141h2v2h-2zM336 141h2v2h-2zM342 141h2v2h-2zM354 141h2v2h-2zM358 141h2v2h-2zM368 141h2v2h-2zM370 141h2v2h-2zM326 143h2v2h-2zM330 143h2v2h-2zM332 143h2v2h-2zM338 143h2v2h-2zM342 143h2v2h-2zM344 143h2v2h-2zM350 143h2v2h-2zM354 143h2v2h-2zM360 143h2v2h-2zM368 143h2v2h-2zM370 143h2v2h-2zM332 145h2v2h-2zM334 145h2v2h-2zM336 145h2v2h-2zM338 145h2v2h-2zM340 145h2v2h-2zM346 145h2v2h-2zM350 145h2v2h-2zM358 145h2v2h-2zM360 145h2v2h-2zM368 145h2v2h-2zM372 145h2v2h-2zM326 147h2v2h-2zM328 147h2v2h-2zM330 147h2v2h-2zM338 147h2v2h-2zM344 147h2v2h-2zM346 147h2v2h-2zM350 147h2v2h-2zM364 147h2v2h-2zM368 147h2v2h-2zM374 147h2v2h-2zM328 149h2v2h-2zM332 149h2v2h-2zM334 149h2v2h-2zM340 149h2v2h-2zM348 149h2v2h-2zM360 149h2v2h-2zM328 151h2v2h-2zM332 151h2v2h-2zM338 151h2v2h-2zM348 151h2v2h-2zM356 151h2v2h-2zM358 151h2v2h-2zM332 153h2v2h-2zM334 153h2v2h-2zM336 153h2v2h-2zM342 153h2v2h-2zM346 153h2v2h-2zM348 153h2v2h-2zM350 153h2v2h-2zM352 153h2v2h-2zM362 153h2v2h-2zM372 153h2v2h-2zM374 153h2v2h-2zM328 155h2v2h-2zM334 155h2v2h-2zM340 155h2v2h-2zM344 155h2v2h-2zM346 155h2v2h-2zM348 155h2v2h-2zM352 155h2v2h-2zM356 155h2v2h-2zM358 155h2v2h-2zM364 155h2v2h-2zM376 155h2v2h-2zM332 157h2v2h-2zM338 157h2v2h-2zM342 157h2v2h-2zM350 157h2v2h-2zM352 157h2v2h-2zM354 157h2v2h-2zM360 157h2v2h-2zM364 157h2v2h-2zM366 157h2v2h-2zM372 157h2v2h-2zM374 157h2v2h-2zM376 157h2v2h-2zM332 159h2v2h-2zM336 159h2v2h-2zM338 159h2v2h-2zM340 159h2v2h-2zM342 159h2v2h-2zM346 159h2v2h-2zM348 159h2v2h-2zM350 159h2v2h-2zM356 159h2v2h-2zM358 159h2v2h-2zM366 159h2v2h-2zM370 159h2v2h-2zM376 159h2v2h-2zM332 161h2v2h-2zM334 161h2v2h-2zM336 161h2v2h-2zM338 161h2v2h-2zM342 161h2v2h-2zM346 161h2v2h-2zM348 161h2v2h-2zM350 161h2v2h-2zM354 161h2v2h-2zM362 161h2v2h-2zM370 161h2v2h-2zM338 163h2v2h-2zM346 163h2v2h-2zM352 163h2v2h-2zM356 163h2v2h-2zM362 163h2v2h-2zM364 163h2v2h-2zM370 163h2v2h-2zM374 163h2v2h-2zM346 165h2v2h-2zM348 165h2v2h-2zM354 165h2v2h-2zM364 165h2v2h-2zM368 165h2v2h-2zM372 165h2v2h-2zM374 165h2v2h-2zM376 165h2v2h-2zM358 167h2v2h-2zM364 167h2v2h-2zM368 167h2v2h-2zM370 167h2v2h-2zM374 167h2v2h-2zM366 169h2v2h-2zM370 169h2v2h-2zM372 169h2v2h-2z"/><path fill="#6aa2a8" d="M334 99h2v2h-2zM334 101h2v2h-2zM332 105h2v2h-2zM334 107h2v2h-2zM348 109h2v2h-2zM356 109h2v2h-2zM332 111h2v2h-2zM336 111h2v2h-2zM344 113h2v2h-2zM338 115h2v2h-2zM354 115h2v2h-2zM358 115h2v2h-2zM360 115h2v2h-2zM332 117h2v2h-2zM358 117h2v2h-2zM360 117h2v2h-2zM340 119h2v2h-2zM346 119h2v2h-2zM344 121h2v2h-2zM346 121h2v2h-2zM358 121h2v2h-2zM342 123h2v2h-2zM360 123h2v2h-2zM362 123h2v2h-2zM328 127h2v2h-2zM332 129h2v2h-2zM372 129h2v2h-2zM352 131h2v2h-2zM364 131h2v2h-2zM366 131h2v2h-2zM340 135h2v2h-2zM354 135h2v2h-2zM338 137h2v2h-2zM358 137h2v2h-2zM356 139h2v2h-2zM330 141h2v2h-2zM340 141h2v2h-2zM346 141h2v2h-2zM366 143h2v2h-2zM330 145h2v2h-2zM356 145h2v2h-2zM364 145h2v2h-2zM366 145h2v2h-2zM372 147h2v2h-2zM344 149h2v2h-2zM350 149h2v2h-2zM374 149h2v2h-2zM344 151h2v2h-2zM352 151h2v2h-2zM368 151h2v2h-2zM370 151h2v2h-2zM370 153h2v2h-2zM330 155h2v2h-2zM354 155h2v2h-2zM362 155h2v2h-2zM330 157h2v2h-2zM336 157h2v2h-2zM358 157h2v2h-2zM330 159h2v2h-2zM352 159h2v2h-2zM372 159h2v2h-2zM374 159h2v2h-2zM340 161h2v2h-2zM344 161h2v2h-2zM358 161h2v2h-2zM366 161h2v2h-2zM336 163h2v2h-2zM342 163h2v2h-2zM350 163h2v2h-2zM352 165h2v2h-2zM360 165h2v2h-2zM356 167h2v2h-2z"/><path fill="#b85c66" d="M332 101h2v2h-2zM330 103h2v2h-2zM336 103h2v2h-2zM338 103h2v2h-2zM340 103h2v2h-2zM330 105h2v2h-2zM334 105h2v2h-2zM340 105h2v2h-2zM342 105h2v2h-2zM332 107h2v2h-2zM340 107h2v2h-2zM344 107h2v2h-2zM348 107h2v2h-2zM352 107h2v2h-2zM334 109h2v2h-2zM336 109h2v2h-2zM338 109h2v2h-2zM340 109h2v2h-2zM342 109h2v2h-2zM344 109h2v2h-2zM352 109h2v2h-2zM354 109h2v2h-2zM330 111h2v2h-2zM342 111h2v2h-2zM346 111h2v2h-2zM348 111h2v2h-2zM356 111h2v2h-2zM330 113h2v2h-2zM336 113h2v2h-2zM340 113h2v2h-2zM342 113h2v2h-2zM348 113h2v2h-2zM354 113h2v2h-2zM334 115h2v2h-2zM346 115h2v2h-2zM336 117h2v2h-2zM338 117h2v2h-2zM348 117h2v2h-2zM350 117h2v2h-2zM352 117h2v2h-2zM354 117h2v2h-2zM364 117h2v2h-2zM328 119h2v2h-2zM334 119h2v2h-2zM338 119h2v2h-2zM344 119h2v2h-2zM352 119h2v2h-2zM356 119h2v2h-2zM360 119h2v2h-2zM362 119h2v2h-2zM364 119h2v2h-2zM328 121h2v2h-2zM336 121h2v2h-2zM348 121h2v2h-2zM350 121h2v2h-2zM354 121h2v2h-2zM356 121h2v2h-2zM360 121h2v2h-2zM362 121h2v2h-2zM368 121h2v2h-2zM330 123h2v2h-2zM332 123h2v2h-2zM340 123h2v2h-2zM344 123h2v2h-2zM346 123h2v2h-2zM348 123h2v2h-2zM350 123h2v2h-2zM354 123h2v2h-2zM356 123h2v2h-2zM364 123h2v2h-2zM330 125h2v2h-2zM332 125h2v2h-2zM344 125h2v2h-2zM348 125h2v2h-2zM350 125h2v2h-2zM360 125h2v2h-2zM362 125h2v2h-2zM368 125h2v2h-2zM330 127h2v2h-2zM334 127h2v2h-2zM338 127h2v2h-2zM348 127h2v2h-2zM350 127h2v2h-2zM356 127h2v2h-2zM358 127h2v2h-2zM364 127h2v2h-2zM328 129h2v2h-2zM330 129h2v2h-2zM342 129h2v2h-2zM346 129h2v2h-2zM350 129h2v2h-2zM358 129h2v2h-2zM364 129h2v2h-2zM366 129h2v2h-2zM368 129h2v2h-2zM328 131h2v2h-2zM332 131h2v2h-2zM344 131h2v2h-2zM348 131h2v2h-2zM358 131h2v2h-2zM368 131h2v2h-2zM370 131h2v2h-2zM326 133h2v2h-2zM338 133h2v2h-2zM342 133h2v2h-2zM352 133h2v2h-2zM356 133h2v2h-2zM358 133h2v2h-2zM360 133h2v2h-2zM366 133h2v2h-2zM368 133h2v2h-2zM370 133h2v2h-2zM372 133h2v2h-2zM326 135h2v2h-2zM334 135h2v2h-2zM338 135h2v2h-2zM346 135h2v2h-2zM350 135h2v2h-2zM362 135h2v2h-2zM364 135h2v2h-2zM368 135h2v2h-2zM370 135h2v2h-2zM326 137h2v2h-2zM328 137h2v2h-2zM330 137h2v2h-2zM332 137h2v2h-2zM340 137h2v2h-2zM348 137h2v2h-2zM362 137h2v2h-2zM370 137h2v2h-2zM334 139h2v2h-2zM348 139h2v2h-2zM352 139h2v2h-2zM362 139h2v2h-2zM368 139h2v2h-2zM372 139h2v2h-2zM328 141h2v2h-2zM332 141h2v2h-2zM344 141h2v2h-2zM350 141h2v2h-2zM356 141h2v2h-2zM360 141h2v2h-2zM364 141h2v2h-2zM366 141h2v2h-2zM372 141h2v2h-2zM328 143h2v2h-2zM336 143h2v2h-2zM346 143h2v2h-2zM358 143h2v2h-2zM362 143h2v2h-2zM364 143h2v2h-2zM326 145h2v2h-2zM328 145h2v2h-2zM342 145h2v2h-2zM344 145h2v2h-2zM352 145h2v2h-2zM334 147h2v2h-2zM336 147h2v2h-2zM340 147h2v2h-2zM348 147h2v2h-2zM352 147h2v2h-2zM358 147h2v2h-2zM360 147h2v2h-2zM366 147h2v2h-2zM370 147h2v2h-2zM330 149h2v2h-2zM338 149h2v2h-2zM346 149h2v2h-2zM354 149h2v2h-2zM356 149h2v2h-2zM358 149h2v2h-2zM362 149h2v2h-2zM370 149h2v2h-2zM372 149h2v2h-2zM330 151h2v2h-2zM346 151h2v2h-2zM350 151h2v2h-2zM362 151h2v2h-2zM372 151h2v2h-2zM326 153h2v2h-2zM328 153h2v2h-2zM338 153h2v2h-2zM340 153h2v2h-2zM344 153h2v2h-2zM354 153h2v2h-2zM356 153h2v2h-2zM360 153h2v2h-2zM364 153h2v2h-2zM368 153h2v2h-2zM332 155h2v2h-2zM338 155h2v2h-2zM342 155h2v2h-2zM366 155h2v2h-2zM368 155h2v2h-2zM370 155h2v2h-2zM374 155h2v2h-2zM346 157h2v2h-2zM362 157h2v2h-2zM368 157h2v2h-2zM370 157h2v2h-2zM334 159h2v2h-2zM344 159h2v2h-2zM354 159h2v2h-2zM364 159h2v2h-2zM368 159h2v2h-2zM352 161h2v2h-2zM356 161h2v2h-2zM360 161h2v2h-2zM368 161h2v2h-2zM372 161h2v2h-2zM376 161h2v2h-2zM340 163h2v2h-2zM344 163h2v2h-2zM354 163h2v2h-2zM360 163h2v2h-2zM366 163h2v2h-2zM368 163h2v2h-2zM350 165h2v2h-2zM358 165h2v2h-2zM362 165h2v2h-2zM370 165h2v2h-2zM354 167h2v2h-2zM360 167h2v2h-2zM362 167h2v2h-2zM366 167h2v2h-2zM368 169h2v2h-2z"/><path fill="#9a7a82" d="M334 103h2v2h-2zM342 103h2v2h-2zM344 103h2v2h-2zM338 105h2v2h-2zM336 107h2v2h-2zM350 107h2v2h-2zM338 111h2v2h-2zM340 111h2v2h-2zM354 111h2v2h-2zM332 113h2v2h-2zM338 113h2v2h-2zM346 113h2v2h-2zM350 113h2v2h-2zM332 115h2v2h-2zM342 115h2v2h-2zM344 115h2v2h-2zM350 115h2v2h-2zM352 115h2v2h-2zM356 115h2v2h-2zM358 119h2v2h-2zM366 119h2v2h-2zM332 121h2v2h-2zM334 121h2v2h-2zM364 121h2v2h-2zM334 123h2v2h-2zM336 123h2v2h-2zM358 123h2v2h-2zM336 125h2v2h-2zM346 125h2v2h-2zM364 125h2v2h-2zM366 125h2v2h-2zM370 125h2v2h-2zM344 127h2v2h-2zM346 127h2v2h-2zM352 127h2v2h-2zM360 127h2v2h-2zM372 127h2v2h-2zM326 129h2v2h-2zM354 129h2v2h-2zM334 131h2v2h-2zM336 131h2v2h-2zM342 131h2v2h-2zM356 131h2v2h-2zM330 133h2v2h-2zM332 133h2v2h-2zM334 133h2v2h-2zM340 133h2v2h-2zM344 133h2v2h-2zM346 133h2v2h-2zM364 133h2v2h-2zM344 135h2v2h-2zM352 135h2v2h-2zM358 135h2v2h-2zM366 135h2v2h-2zM372 135h2v2h-2zM356 137h2v2h-2zM372 137h2v2h-2zM342 139h2v2h-2zM350 139h2v2h-2zM358 139h2v2h-2zM360 139h2v2h-2zM364 139h2v2h-2zM338 141h2v2h-2zM348 141h2v2h-2zM352 141h2v2h-2zM362 141h2v2h-2zM334 143h2v2h-2zM340 143h2v2h-2zM348 143h2v2h-2zM352 143h2v2h-2zM356 143h2v2h-2zM372 143h2v2h-2zM348 145h2v2h-2zM362 145h2v2h-2zM370 145h2v2h-2zM332 147h2v2h-2zM342 147h2v2h-2zM354 147h2v2h-2zM356 147h2v2h-2zM362 147h2v2h-2zM326 149h2v2h-2zM336 149h2v2h-2zM342 149h2v2h-2zM352 149h2v2h-2zM364 149h2v2h-2zM366 149h2v2h-2zM368 149h2v2h-2zM326 151h2v2h-2zM334 151h2v2h-2zM336 151h2v2h-2zM340 151h2v2h-2zM342 151h2v2h-2zM354 151h2v2h-2zM360 151h2v2h-2zM364 151h2v2h-2zM366 151h2v2h-2zM374 151h2v2h-2zM330 153h2v2h-2zM358 153h2v2h-2zM366 153h2v2h-2zM376 153h2v2h-2zM336 155h2v2h-2zM350 155h2v2h-2zM328 157h2v2h-2zM334 157h2v2h-2zM344 157h2v2h-2zM348 157h2v2h-2zM356 157h2v2h-2zM360 159h2v2h-2zM362 159h2v2h-2zM364 161h2v2h-2zM374 161h2v2h-2zM348 163h2v2h-2zM372 163h2v2h-2zM376 163h2v2h-2zM344 165h2v2h-2zM356 165h2v2h-2zM372 167h2v2h-2z"/><path fill="#22dce4" d="M330 107h2v2h-2zM350 111h2v2h-2zM334 117h2v2h-2zM366 121h2v2h-2zM336 127h2v2h-2zM370 127h2v2h-2zM360 129h2v2h-2zM330 135h2v2h-2zM332 135h2v2h-2zM354 137h2v2h-2zM328 139h2v2h-2zM330 139h2v2h-2zM354 145h2v2h-2zM360 155h2v2h-2zM372 155h2v2h-2zM340 157h2v2h-2zM358 163h2v2h-2zM366 165h2v2h-2z"/>
<polygon points="331.0,128.0 352.0,127.6 355.0,140.0 353.4,154.5 331.0,154.5" fill="#9c767c"/>
<path fill="#8e8288" d="M331 127h3v3h-3zM334 127h3v3h-3zM337 127h3v3h-3zM343 127h3v3h-3zM346 127h3v3h-3zM346 130h3v3h-3zM349 130h3v3h-3zM352 130h3v3h-3zM331 133h3v3h-3zM337 133h3v3h-3zM346 133h3v3h-3zM352 133h3v3h-3zM331 136h3v3h-3zM334 136h3v3h-3zM337 136h3v3h-3zM346 136h3v3h-3zM334 139h3v3h-3zM343 139h3v3h-3zM349 139h3v3h-3zM352 139h3v3h-3zM355 139h3v3h-3zM349 142h3v3h-3zM352 142h3v3h-3zM355 142h3v3h-3zM331 145h3v3h-3zM337 145h3v3h-3zM346 145h3v3h-3zM334 148h3v3h-3zM343 148h3v3h-3zM349 148h3v3h-3zM331 151h3v3h-3zM337 151h3v3h-3zM340 151h3v3h-3zM343 151h3v3h-3zM340 154h3v3h-3zM343 154h3v3h-3zM346 154h3v3h-3zM349 154h3v3h-3z"/><path fill="#a06e76" d="M340 127h3v3h-3zM349 127h3v3h-3zM331 130h3v3h-3zM334 130h3v3h-3zM337 130h3v3h-3zM340 130h3v3h-3zM343 130h3v3h-3zM334 133h3v3h-3zM340 133h3v3h-3zM343 133h3v3h-3zM349 133h3v3h-3zM340 136h3v3h-3zM343 136h3v3h-3zM349 136h3v3h-3zM352 136h3v3h-3zM331 139h3v3h-3zM337 139h3v3h-3zM340 139h3v3h-3zM346 139h3v3h-3zM331 142h3v3h-3zM334 142h3v3h-3zM337 142h3v3h-3zM340 142h3v3h-3zM343 142h3v3h-3zM346 142h3v3h-3zM334 145h3v3h-3zM340 145h3v3h-3zM343 145h3v3h-3zM349 145h3v3h-3zM352 145h3v3h-3zM331 148h3v3h-3zM337 148h3v3h-3zM340 148h3v3h-3zM346 148h3v3h-3zM352 148h3v3h-3zM334 151h3v3h-3zM346 151h3v3h-3zM349 151h3v3h-3zM352 151h3v3h-3zM331 154h3v3h-3zM334 154h3v3h-3zM337 154h3v3h-3zM352 154h3v3h-3z"/>
<polygon points="334.2,155.3 355.3,155.3 355.3,167.9 334.2,165.0" fill="#66a8ae"/>
<polygon points="256.5,102.0 266.6,99.7 282.6,95.5 295.4,90.2 303.9,83.8 308.2,77.0 312.0,76.5 319.2,84.6 326.6,94.4 329.0,126.3 326.6,146.0 329.0,160.7 334.0,169.0 340.0,173.5 350.0,175.0 361.3,176.7 372.0,180.0 382.6,186.2 391.0,194.0 396.0,203.0 399.5,211.9 403.5,222.4 404.8,238.8 408.5,242.0 411.0,245.5 406.0,249.0 401.0,252.8 394.3,252.8 385.2,247.8 377.5,244.8 370.0,243.3 362.2,245.3 348.8,247.2 330.0,252.2 314.8,253.7 307.3,256.0 296.9,259.7 289.4,261.2 290.2,250.7 290.9,237.3 290.2,222.4 287.9,213.4 283.4,200.0 282.9,192.6 281.3,182.0 277.1,170.2 275.5,162.8 273.9,150.0 272.3,144.7 269.3,132.8 266.4,125.3 261.9,117.8 257.4,111.9 256.0,106.0" fill="#338033"/>
<g clip-path="url(#dk)">
<polygon points="270,185 380,240 380,275 270,275" fill="url(#sw)"/>
<ellipse cx="324" cy="125" rx="15" ry="50" transform="rotate(-14 324 125)" fill="url(#ne)"/>
<ellipse cx="312" cy="88" rx="9" ry="14" transform="rotate(30 312 88)" fill="url(#ne)"/>
</g>
<defs><filter id="stb" x="-50%" y="-50%" width="200%" height="200%"><feGaussianBlur stdDeviation="1.0"/></filter></defs>
<g filter="url(#stb)" fill="none" stroke="#30e4e4" stroke-linecap="round"><path d="M416 247 Q428 256 440 269" stroke-width="1.5" stroke-opacity="0.4"/><path d="M414 248 Q421 256 425 261" stroke-width="1" stroke-opacity="0.35"/><path d="M400 258 Q405 265 410 269" stroke-width="1.5" stroke-opacity="0.4"/></g>
<ellipse cx="322.2" cy="243.4" rx="5.3" ry="4.6" fill="#3cc4c4"/>
</g>
<rect x="60.4" y="30.35" width="496.20" height="384.95" fill="none" stroke="#000" stroke-width="1.1"/>
<line x1="55.50" y1="415.30" x2="60.4" y2="415.30" stroke="#000" stroke-width="1.1"/>
<text x="49.6" y="420.30" text-anchor="end" class="t" textLength="37.5" lengthAdjust="spacingAndGlyphs">48.92</text>
<line x1="55.50" y1="356.15" x2="60.4" y2="356.15" stroke="#000" stroke-width="1.1"/>
<text x="49.6" y="361.15" text-anchor="end" class="t" textLength="37.5" lengthAdjust="spacingAndGlyphs">48.94</text>
<line x1="55.50" y1="297.00" x2="60.4" y2="297.00" stroke="#000" stroke-width="1.1"/>
<text x="49.6" y="302.00" text-anchor="end" class="t" textLength="37.5" lengthAdjust="spacingAndGlyphs">48.96</text>
<line x1="55.50" y1="237.85" x2="60.4" y2="237.85" stroke="#000" stroke-width="1.1"/>
<text x="49.6" y="242.85" text-anchor="end" class="t" textLength="37.5" lengthAdjust="spacingAndGlyphs">48.98</text>
<line x1="55.50" y1="178.70" x2="60.4" y2="178.70" stroke="#000" stroke-width="1.1"/>
<text x="49.6" y="183.70" text-anchor="end" class="t" textLength="37.5" lengthAdjust="spacingAndGlyphs">49.00</text>
<line x1="55.50" y1="119.55" x2="60.4" y2="119.55" stroke="#000" stroke-width="1.1"/>
<text x="49.6" y="124.55" text-anchor="end" class="t" textLength="37.5" lengthAdjust="spacingAndGlyphs">49.02</text>
<line x1="55.50" y1="60.40" x2="60.4" y2="60.40" stroke="#000" stroke-width="1.1"/>
<text x="49.6" y="65.40" text-anchor="end" class="t" textLength="37.5" lengthAdjust="spacingAndGlyphs">49.04</text>
<line x1="60.40" y1="415.3" x2="60.40" y2="420.20" stroke="#000" stroke-width="1.1"/>
<g transform="translate(59.40,441.5) rotate(-20)"><text x="0" y="5" text-anchor="middle" class="t" textLength="58" lengthAdjust="spacingAndGlyphs">−123.20</text></g>
<line x1="159.64" y1="415.3" x2="159.64" y2="420.20" stroke="#000" stroke-width="1.1"/>
<g transform="translate(158.64,441.5) rotate(-20)"><text x="0" y="5" text-anchor="middle" class="t" textLength="58" lengthAdjust="spacingAndGlyphs">−123.15</text></g>
<line x1="258.88" y1="415.3" x2="258.88" y2="420.20" stroke="#000" stroke-width="1.1"/>
<g transform="translate(257.88,441.5) rotate(-20)"><text x="0" y="5" text-anchor="middle" class="t" textLength="58" lengthAdjust="spacingAndGlyphs">−123.10</text></g>
<line x1="358.12" y1="415.3" x2="358.12" y2="420.20" stroke="#000" stroke-width="1.1"/>
<g transform="translate(357.12,441.5) rotate(-20)"><text x="0" y="5" text-anchor="middle" class="t" textLength="58" lengthAdjust="spacingAndGlyphs">−123.05</text></g>
<line x1="457.36" y1="415.3" x2="457.36" y2="420.20" stroke="#000" stroke-width="1.1"/>
<g transform="translate(456.36,441.5) rotate(-20)"><text x="0" y="5" text-anchor="middle" class="t" textLength="58" lengthAdjust="spacingAndGlyphs">−123.00</text></g>
<line x1="556.60" y1="415.3" x2="556.60" y2="420.20" stroke="#000" stroke-width="1.1"/>
<g transform="translate(555.60,441.5) rotate(-20)"><text x="0" y="5" text-anchor="middle" class="t" textLength="58" lengthAdjust="spacingAndGlyphs">−122.95</text></g>
<text x="308" y="22.1" text-anchor="middle" class="tt" textLength="211" lengthAdjust="spacingAndGlyphs">4:45:00 after earthquake</text>
<defs><linearGradient id="cb" x1="0" y1="1" x2="0" y2="0"><stop offset="0" stop-color="#0000ff"/><stop offset="0.5" stop-color="#00ffff"/><stop offset="1" stop-color="#ff0000"/></linearGradient></defs>
<rect x="587.4" y="34.5" width="18.10" height="376.80" fill="url(#cb)" stroke="#000" stroke-width="1.1"/>
<line x1="605.5" y1="411.30" x2="610.40" y2="411.30" stroke="#000" stroke-width="1.1"/>
<text x="616" y="416.30" class="t" textLength="31" lengthAdjust="spacingAndGlyphs">−1.5</text>
<line x1="605.5" y1="348.50" x2="610.40" y2="348.50" stroke="#000" stroke-width="1.1"/>
<text x="616" y="353.50" class="t" textLength="31" lengthAdjust="spacingAndGlyphs">−1.0</text>
<line x1="605.5" y1="285.70" x2="610.40" y2="285.70" stroke="#000" stroke-width="1.1"/>
<text x="616" y="290.70" class="t" textLength="31" lengthAdjust="spacingAndGlyphs">−0.5</text>
<line x1="605.5" y1="222.90" x2="610.40" y2="222.90" stroke="#000" stroke-width="1.1"/>
<text x="616" y="227.90" class="t" textLength="20" lengthAdjust="spacingAndGlyphs">0.0</text>
<line x1="605.5" y1="160.10" x2="610.40" y2="160.10" stroke="#000" stroke-width="1.1"/>
<text x="616" y="165.10" class="t" textLength="20" lengthAdjust="spacingAndGlyphs">0.5</text>
<line x1="605.5" y1="97.30" x2="610.40" y2="97.30" stroke="#000" stroke-width="1.1"/>
<text x="616" y="102.30" class="t" textLength="20" lengthAdjust="spacingAndGlyphs">1.0</text>
<line x1="605.5" y1="34.50" x2="610.40" y2="34.50" stroke="#000" stroke-width="1.1"/>
<text x="616" y="39.50" class="t" textLength="20" lengthAdjust="spacingAndGlyphs">1.5</text>
</svg>
</body></html>
